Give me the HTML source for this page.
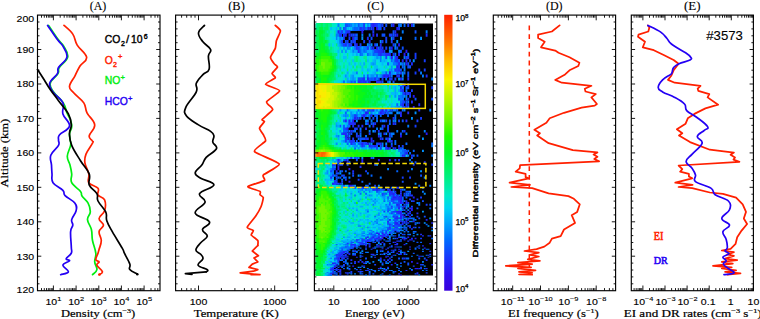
<!DOCTYPE html>
<html><head><meta charset="utf-8"><title>Figure</title>
<style>html,body{margin:0;padding:0;background:#fff}svg{display:block}text{font-family:"Liberation Sans",sans-serif;stroke:#000;stroke-width:.12px}.cbt{stroke-width:.4px}.b{stroke-width:.25px}.s{font-family:"Liberation Serif",serif;stroke:#000;stroke-width:.2px}.t{font-family:"Liberation Serif",serif;stroke-width:.1px}.sr{font-family:"Liberation Serif",serif}</style>
</head><body>
<svg width="760" height="319" viewBox="0 0 760 319">
<rect width="760" height="319" fill="#fff"/>
<defs><linearGradient id="cb" x1="0" y1="1" x2="0" y2="0"><stop offset="0.0" stop-color="#3800dc"/><stop offset="0.06" stop-color="#2c10f0"/><stop offset="0.12" stop-color="#1838fc"/><stop offset="0.18" stop-color="#0068ff"/><stop offset="0.25" stop-color="#00a8fc"/><stop offset="0.3" stop-color="#00d4f2"/><stop offset="0.345" stop-color="#00eac8"/><stop offset="0.42" stop-color="#00f078"/><stop offset="0.5" stop-color="#00f528"/><stop offset="0.56" stop-color="#1efa00"/><stop offset="0.62" stop-color="#6ef500"/><stop offset="0.69" stop-color="#b4f500"/><stop offset="0.765" stop-color="#faf400"/><stop offset="0.83" stop-color="#ffbe00"/><stop offset="0.9" stop-color="#ff7800"/><stop offset="1.0" stop-color="#ff2000"/></linearGradient></defs>
<rect x="444.2" y="14.8" width="8.3" height="275.9" fill="url(#cb)"/>
<rect x="315.5" y="23.5" width="117.5" height="252" fill="#000"/>
<g shape-rendering="crispEdges">
<path fill="#00eca8" d="M315.5 23.2h2.2v3.9h-2.2zM330.2 23.2h2.2v3.9h-2.2zM328.4 26.6h2.2v3.9h-2.2zM328.4 29.9h2.2v3.9h-2.2zM328.4 33.2h2.2v3.9h-2.2zM328.4 36.5h2.2v3.9h-2.2zM328.4 39.8h2.2v3.8h-2.2zM328.4 43h2.2v3.8h-2.2zM330.2 46.2h4.1v3.8h-4.1zM333.9 49.4h2.2v3.8h-2.2zM335.7 52.6h4.1v3.7h-4.1zM337.5 55.7h7.7v3.7h-7.7zM337.5 58.8h9.6v3.7h-9.6zM339.4 61.9h9.6v3.7h-9.6zM339.4 65h9.6v3.7h-9.6zM337.5 68.1h9.6v3.6h-9.6zM337.5 71.1h7.7v3.6h-7.7zM335.7 74.1h4.1v3.6h-4.1zM333.9 77.1h4.1v3.6h-4.1zM333.9 80.1h2.2v3.5h-2.2zM383.4 83h4.1v3.5h-4.1zM383.4 86h4.1v3.5h-4.1zM385.3 88.9h4.1v3.5h-4.1zM385.3 91.7h4.1v3.5h-4.1zM387.1 94.6h2.2v3.4h-2.2zM385.3 97.4h4.1v3.4h-4.1zM385.3 100.2h4.1v3.4h-4.1zM383.4 103h4.1v3.4h-4.1zM383.4 105.8h4.1v3.3h-4.1zM337.5 108.5h2.2v3.3h-2.2zM337.5 111.3h2.2v3.3h-2.2zM335.7 114h2.2v3.3h-2.2zM333.9 116.6h2.2v3.3h-2.2zM333.9 119.3h2.2v3.2h-2.2zM332 121.9h2.2v3.2h-2.2zM332 124.5h2.2v3.2h-2.2zM332 127.1h2.2v3.2h-2.2zM332 129.7h2.2v3.1h-2.2zM332 132.2h2.2v3.1h-2.2zM332 134.7h2.2v3.1h-2.2zM332 137.2h2.2v3.1h-2.2zM332 139.7h2.2v3.1h-2.2zM333.9 142.2h2.2v3h-2.2zM335.7 144.6h4.1v3h-4.1zM339.4 147h5.9v3h-5.9zM390.8 149.4h5.9v3h-5.9zM394.4 151.8h2.2v2.9h-2.2zM394.4 154.1h2.2v2.9h-2.2zM333.9 156.4h2.2v2.9h-2.2zM328.4 158.7h2.2v2.9h-2.2zM326.5 161h2.2v2.9h-2.2zM315.5 163.2h2.2v2.8h-2.2zM324.7 163.2h2.2v2.8h-2.2zM315.5 165.5h2.2v2.8h-2.2zM315.5 167.7h4.1v2.8h-4.1zM322.8 167.7h2.2v2.8h-2.2zM315.5 169.9h4.1v2.8h-4.1zM322.8 169.9h2.2v2.8h-2.2zM315.5 172h4.1v2.7h-4.1zM322.8 172h2.2v2.7h-2.2zM315.5 174.2h2.2v2.7h-2.2zM322.8 174.2h2.2v2.7h-2.2zM315.5 176.3h2.2v2.7h-2.2zM322.8 176.3h2.2v2.7h-2.2zM315.5 178.4h2.2v2.7h-2.2zM322.8 178.4h2.2v2.7h-2.2zM315.5 180.4h2.2v2.6h-2.2zM322.8 180.4h2.2v2.6h-2.2zM315.5 182.5h2.2v2.6h-2.2zM322.8 182.5h2.2v2.6h-2.2zM326.5 184.5h2.2v2.6h-2.2zM330.2 186.5h4.1v2.6h-4.1zM332 188.5h5.9v2.6h-5.9zM333.9 190.5h7.7v2.5h-7.7zM335.7 192.4h7.7v2.5h-7.7zM335.7 194.3h7.7v2.5h-7.7zM337.5 196.2h7.7v2.5h-7.7zM337.5 198.1h9.6v2.4h-9.6zM337.5 199.9h9.6v2.4h-9.6zM339.4 201.8h7.7v2.4h-7.7zM339.4 203.6h7.7v2.4h-7.7zM339.4 205.3h9.6v2.4h-9.6zM339.4 207.1h9.6v2.3h-9.6zM339.4 208.8h9.6v2.3h-9.6zM339.4 210.6h9.6v2.3h-9.6zM339.4 212.2h7.7v2.3h-7.7zM339.4 213.9h7.7v2.2h-7.7zM339.4 215.6h7.7v2.2h-7.7zM339.4 217.2h7.7v2.2h-7.7zM339.4 218.8h7.7v2.2h-7.7zM339.4 220.4h7.7v2.2h-7.7zM339.4 221.9h7.7v2.1h-7.7zM339.4 223.5h7.7v2.1h-7.7zM339.4 225h7.7v2.1h-7.7zM339.4 226.5h7.7v2.1h-7.7zM337.5 227.9h7.7v2h-7.7zM337.5 229.4h7.7v2h-7.7zM337.5 230.8h5.9v2h-5.9zM337.5 232.2h4.1v2h-4.1zM335.7 233.6h5.9v2h-5.9zM335.7 234.9h4.1v1.9h-4.1zM335.7 236.3h4.1v1.9h-4.1zM333.9 237.6h4.1v1.9h-4.1zM333.9 238.9h2.2v1.9h-2.2zM332 240.1h4.1v1.8h-4.1zM332 241.4h2.2v1.8h-2.2zM332 242.6h2.2v1.8h-2.2zM330.2 243.8h4.1v1.8h-4.1zM330.2 245h2.2v1.8h-2.2zM330.2 246.1h2.2v1.7h-2.2zM328.4 247.2h2.2v1.7h-2.2zM328.4 248.4h2.2v1.7h-2.2zM328.4 249.4h2.2v1.7h-2.2zM326.5 250.5h2.2v1.6h-2.2zM326.5 251.5h2.2v1.6h-2.2zM326.5 252.6h2.2v1.6h-2.2zM326.5 253.6h2.2v1.6h-2.2zM326.5 254.5h2.2v1.6h-2.2zM324.7 257.3h2.2v2.3h-2.2zM324.7 259.1h2.2v2.3h-2.2zM324.7 260.7h2.2v2.2h-2.2zM324.7 262.3h2.2v2.1h-2.2zM322.8 267.7h2.2v1.7h-2.2zM322.8 268.8h2.2v1.6h-2.2zM322.8 269.8h2.2v1.5h-2.2zM322.8 270.8h2.2v1.8h-2.2zM322.8 272h2.2v1.6h-2.2zM322.8 273h2.2v1.7h-2.2z"/>
<path fill="#00f07c" d="M317.3 23.2h2.2v3.9h-2.2zM322.8 23.2h7.7v3.9h-7.7zM315.5 26.6h2.2v3.9h-2.2zM324.7 26.6h4.1v3.9h-4.1zM324.7 29.9h4.1v3.9h-4.1zM324.7 33.2h4.1v3.9h-4.1zM324.7 36.5h4.1v3.9h-4.1zM326.5 39.8h2.2v3.8h-2.2zM326.5 43h2.2v3.8h-2.2zM328.4 46.2h2.2v3.8h-2.2zM330.2 49.4h4.1v3.8h-4.1zM332 52.6h4.1v3.7h-4.1zM335.7 55.7h2.2v3.7h-2.2zM335.7 58.8h2.2v3.7h-2.2zM337.5 61.9h2.2v3.7h-2.2zM337.5 65h2.2v3.7h-2.2zM335.7 68.1h2.2v3.6h-2.2zM333.9 71.1h4.1v3.6h-4.1zM332 74.1h4.1v3.6h-4.1zM332 77.1h2.2v3.6h-2.2zM332 80.1h2.2v3.5h-2.2zM374.2 83h9.6v3.5h-9.6zM376.1 86h7.7v3.5h-7.7zM376.1 88.9h9.6v3.5h-9.6zM377.9 91.7h7.7v3.5h-7.7zM377.9 94.6h9.6v3.4h-9.6zM377.9 97.4h7.7v3.4h-7.7zM376.1 100.2h9.6v3.4h-9.6zM376.1 103h7.7v3.4h-7.7zM374.2 105.8h9.6v3.3h-9.6zM335.7 108.5h2.2v3.3h-2.2zM333.9 111.3h4.1v3.3h-4.1zM333.9 114h2.2v3.3h-2.2zM332 116.6h2.2v3.3h-2.2zM332 119.3h2.2v3.2h-2.2zM330.2 121.9h2.2v3.2h-2.2zM330.2 124.5h2.2v3.2h-2.2zM328.4 127.1h4.1v3.2h-4.1zM328.4 129.7h4.1v3.1h-4.1zM328.4 132.2h4.1v3.1h-4.1zM328.4 134.7h4.1v3.1h-4.1zM328.4 137.2h4.1v3.1h-4.1zM330.2 139.7h2.2v3.1h-2.2zM330.2 142.2h4.1v3h-4.1zM333.9 144.6h2.2v3h-2.2zM337.5 147h2.2v3h-2.2zM387.1 149.4h4.1v3h-4.1zM388.9 151.8h5.9v2.9h-5.9zM388.9 154.1h5.9v2.9h-5.9zM330.2 156.4h4.1v2.9h-4.1zM315.5 158.7h4.1v2.9h-4.1zM324.7 158.7h4.1v2.9h-4.1zM315.5 161h4.1v2.9h-4.1zM322.8 161h4.1v2.9h-4.1zM317.3 163.2h7.7v2.8h-7.7zM317.3 165.5h7.7v2.8h-7.7zM319.2 167.7h4.1v2.8h-4.1zM319.2 169.9h4.1v2.8h-4.1zM319.2 172h4.1v2.7h-4.1zM317.3 174.2h5.9v2.7h-5.9zM317.3 176.3h5.9v2.7h-5.9zM317.3 178.4h5.9v2.7h-5.9zM317.3 180.4h5.9v2.6h-5.9zM317.3 182.5h5.9v2.6h-5.9zM315.5 184.5h4.1v2.6h-4.1zM324.7 184.5h2.2v2.6h-2.2zM328.4 186.5h2.2v2.6h-2.2zM330.2 188.5h2.2v2.6h-2.2zM332 190.5h2.2v2.5h-2.2zM333.9 192.4h2.2v2.5h-2.2zM333.9 194.3h2.2v2.5h-2.2zM335.7 196.2h2.2v2.5h-2.2zM335.7 198.1h2.2v2.4h-2.2zM335.7 199.9h2.2v2.4h-2.2zM337.5 201.8h2.2v2.4h-2.2zM337.5 203.6h2.2v2.4h-2.2zM337.5 205.3h2.2v2.4h-2.2zM337.5 207.1h2.2v2.3h-2.2zM337.5 208.8h2.2v2.3h-2.2zM337.5 210.6h2.2v2.3h-2.2zM337.5 212.2h2.2v2.3h-2.2zM337.5 213.9h2.2v2.2h-2.2zM337.5 215.6h2.2v2.2h-2.2zM337.5 217.2h2.2v2.2h-2.2zM337.5 218.8h2.2v2.2h-2.2zM337.5 220.4h2.2v2.2h-2.2zM337.5 221.9h2.2v2.1h-2.2zM337.5 223.5h2.2v2.1h-2.2zM337.5 225h2.2v2.1h-2.2zM337.5 226.5h2.2v2.1h-2.2zM335.7 227.9h2.2v2h-2.2zM335.7 229.4h2.2v2h-2.2zM335.7 230.8h2.2v2h-2.2zM335.7 232.2h2.2v2h-2.2zM333.9 233.6h2.2v2h-2.2zM333.9 234.9h2.2v1.9h-2.2zM333.9 236.3h2.2v1.9h-2.2zM332 237.6h2.2v1.9h-2.2zM332 238.9h2.2v1.9h-2.2zM330.2 241.4h2.2v1.8h-2.2zM330.2 242.6h2.2v1.8h-2.2zM328.4 245h2.2v1.8h-2.2zM328.4 246.1h2.2v1.7h-2.2zM326.5 247.2h2.2v1.7h-2.2zM326.5 248.4h2.2v1.7h-2.2zM326.5 249.4h2.2v1.7h-2.2zM324.7 252.6h2.2v1.6h-2.2zM324.7 253.6h2.2v1.6h-2.2zM324.7 254.5h2.2v1.6h-2.2zM324.7 255.5h2.2v1.5h-2.2zM324.7 256.4h2.2v1.5h-2.2zM322.8 259.1h2.2v2.3h-2.2zM322.8 260.7h2.2v2.2h-2.2zM322.8 262.3h2.2v2.1h-2.2zM322.8 263.8h2.2v2h-2.2zM322.8 265.2h2.2v1.9h-2.2zM322.8 266.5h2.2v1.8h-2.2zM321 269.8h2.2v1.5h-2.2zM321 270.8h2.2v1.8h-2.2zM321 272h2.2v1.6h-2.2zM321 273h2.2v1.7h-2.2zM321 274.1h2.2v1.5h-2.2zM321 275.1h2.2v0.8h-2.2z"/>
<path fill="#00f252" d="M319.2 23.2h4.1v3.9h-4.1zM317.3 26.6h7.7v3.9h-7.7zM315.5 29.9h4.1v3.9h-4.1zM321 29.9h4.1v3.9h-4.1zM315.5 33.2h4.1v3.9h-4.1zM322.8 33.2h2.2v3.9h-2.2zM315.5 36.5h4.1v3.9h-4.1zM322.8 36.5h2.2v3.9h-2.2zM315.5 39.8h4.1v3.8h-4.1zM322.8 39.8h4.1v3.8h-4.1zM315.5 43h4.1v3.8h-4.1zM324.7 43h2.2v3.8h-2.2zM315.5 46.2h4.1v3.8h-4.1zM326.5 46.2h2.2v3.8h-2.2zM315.5 49.4h2.2v3.8h-2.2zM328.4 49.4h2.2v3.8h-2.2zM315.5 52.6h2.2v3.7h-2.2zM330.2 52.6h2.2v3.7h-2.2zM333.9 55.7h2.2v3.7h-2.2zM333.9 58.8h2.2v3.7h-2.2zM335.7 61.9h2.2v3.7h-2.2zM335.7 65h2.2v3.7h-2.2zM333.9 68.1h2.2v3.6h-2.2zM332 71.1h2.2v3.6h-2.2zM315.5 74.1h2.2v3.6h-2.2zM330.2 74.1h2.2v3.6h-2.2zM315.5 77.1h2.2v3.6h-2.2zM328.4 77.1h4.1v3.6h-4.1zM315.5 80.1h2.2v3.5h-2.2zM328.4 80.1h4.1v3.5h-4.1zM366.9 83h7.7v3.5h-7.7zM368.7 86h7.7v3.5h-7.7zM368.7 88.9h7.7v3.5h-7.7zM370.6 91.7h7.7v3.5h-7.7zM370.6 94.6h7.7v3.4h-7.7zM368.7 97.4h9.6v3.4h-9.6zM368.7 100.2h7.7v3.4h-7.7zM368.7 103h7.7v3.4h-7.7zM366.9 105.8h7.7v3.3h-7.7zM332 108.5h4.1v3.3h-4.1zM332 111.3h2.2v3.3h-2.2zM330.2 114h4.1v3.3h-4.1zM330.2 116.6h2.2v3.3h-2.2zM315.5 119.3h2.2v3.2h-2.2zM328.4 119.3h4.1v3.2h-4.1zM315.5 121.9h2.2v3.2h-2.2zM328.4 121.9h2.2v3.2h-2.2zM315.5 124.5h2.2v3.2h-2.2zM326.5 124.5h4.1v3.2h-4.1zM315.5 127.1h2.2v3.2h-2.2zM326.5 127.1h2.2v3.2h-2.2zM315.5 129.7h2.2v3.1h-2.2zM326.5 129.7h2.2v3.1h-2.2zM315.5 132.2h2.2v3.1h-2.2zM326.5 132.2h2.2v3.1h-2.2zM315.5 134.7h2.2v3.1h-2.2zM326.5 134.7h2.2v3.1h-2.2zM315.5 137.2h2.2v3.1h-2.2zM326.5 137.2h2.2v3.1h-2.2zM315.5 139.7h2.2v3.1h-2.2zM326.5 139.7h4.1v3.1h-4.1zM315.5 142.2h2.2v3h-2.2zM328.4 142.2h2.2v3h-2.2zM330.2 144.6h4.1v3h-4.1zM333.9 147h4.1v3h-4.1zM374.2 149.4h13.3v3h-13.3zM385.3 151.8h4.1v2.9h-4.1zM385.3 154.1h4.1v2.9h-4.1zM315.5 156.4h4.1v2.9h-4.1zM326.5 156.4h4.1v2.9h-4.1zM319.2 158.7h5.9v2.9h-5.9zM319.2 161h4.1v2.9h-4.1zM319.2 184.5h5.9v2.6h-5.9zM315.5 186.5h4.1v2.6h-4.1zM324.7 186.5h4.1v2.6h-4.1zM315.5 188.5h2.2v2.6h-2.2zM328.4 188.5h2.2v2.6h-2.2zM330.2 190.5h2.2v2.5h-2.2zM332 192.4h2.2v2.5h-2.2zM332 194.3h2.2v2.5h-2.2zM333.9 196.2h2.2v2.5h-2.2zM333.9 198.1h2.2v2.4h-2.2zM333.9 199.9h2.2v2.4h-2.2zM333.9 201.8h4.1v2.4h-4.1zM335.7 203.6h2.2v2.4h-2.2zM335.7 205.3h2.2v2.4h-2.2zM335.7 207.1h2.2v2.3h-2.2zM335.7 208.8h2.2v2.3h-2.2zM335.7 210.6h2.2v2.3h-2.2zM335.7 212.2h2.2v2.3h-2.2zM335.7 213.9h2.2v2.2h-2.2zM335.7 215.6h2.2v2.2h-2.2zM335.7 217.2h2.2v2.2h-2.2zM335.7 218.8h2.2v2.2h-2.2zM335.7 220.4h2.2v2.2h-2.2zM335.7 221.9h2.2v2.1h-2.2zM335.7 223.5h2.2v2.1h-2.2zM335.7 225h2.2v2.1h-2.2zM335.7 226.5h2.2v2.1h-2.2zM333.9 227.9h2.2v2h-2.2zM333.9 229.4h2.2v2h-2.2zM333.9 230.8h2.2v2h-2.2zM333.9 232.2h2.2v2h-2.2zM332 233.6h2.2v2h-2.2zM332 234.9h2.2v1.9h-2.2zM332 236.3h2.2v1.9h-2.2zM330.2 237.6h2.2v1.9h-2.2zM330.2 238.9h2.2v1.9h-2.2zM330.2 240.1h2.2v1.8h-2.2zM328.4 241.4h2.2v1.8h-2.2zM328.4 242.6h2.2v1.8h-2.2zM328.4 243.8h2.2v1.8h-2.2zM326.5 245h2.2v1.8h-2.2zM326.5 246.1h2.2v1.7h-2.2zM324.7 248.4h2.2v1.7h-2.2zM324.7 249.4h2.2v1.7h-2.2zM324.7 250.5h2.2v1.6h-2.2zM324.7 251.5h2.2v1.6h-2.2zM322.8 253.6h2.2v1.6h-2.2zM322.8 254.5h2.2v1.6h-2.2zM322.8 255.5h2.2v1.5h-2.2zM322.8 256.4h2.2v1.5h-2.2zM322.8 257.3h2.2v2.3h-2.2zM315.5 259.1h2.2v2.3h-2.2zM315.5 260.7h2.2v2.2h-2.2zM321 260.7h2.2v2.2h-2.2zM315.5 262.3h2.2v2.1h-2.2zM321 262.3h2.2v2.1h-2.2zM315.5 263.8h2.2v2h-2.2zM321 263.8h2.2v2h-2.2zM315.5 265.2h2.2v1.9h-2.2zM321 265.2h2.2v1.9h-2.2zM315.5 266.5h2.2v1.8h-2.2zM321 266.5h2.2v1.8h-2.2zM315.5 267.7h2.2v1.7h-2.2zM319.2 267.7h4.1v1.7h-4.1zM315.5 268.8h2.2v1.6h-2.2zM319.2 268.8h4.1v1.6h-4.1zM315.5 269.8h2.2v1.5h-2.2zM319.2 269.8h2.2v1.5h-2.2zM315.5 270.8h2.2v1.8h-2.2zM319.2 270.8h2.2v1.8h-2.2zM315.5 272h5.9v1.6h-5.9zM315.5 273h5.9v1.7h-5.9zM315.5 274.1h5.9v1.5h-5.9zM315.5 275.1h5.9v0.8h-5.9z"/>
<path fill="#00e4d3" d="M332 23.2h5.9v3.9h-5.9zM330.2 26.6h5.9v3.9h-5.9zM330.2 29.9h4.1v3.9h-4.1zM330.2 33.2h2.2v3.9h-2.2zM330.2 36.5h2.2v3.9h-2.2zM330.2 39.8h4.1v3.8h-4.1zM330.2 43h4.1v3.8h-4.1zM333.9 46.2h4.1v3.8h-4.1zM335.7 49.4h5.9v3.8h-5.9zM339.4 52.6h9.6v3.7h-9.6zM344.9 55.7h20.6v3.7h-20.6zM346.7 58.8h24.3v3.7h-24.3zM348.5 61.9h24.3v3.7h-24.3zM348.5 65h24.3v3.7h-24.3zM346.7 68.1h24.3v3.6h-24.3zM344.9 71.1h18.8v3.6h-18.8zM339.4 74.1h11.4v3.6h-11.4zM337.5 77.1h5.9v3.6h-5.9zM335.7 80.1h5.9v3.5h-5.9zM387.1 83h5.9v3.5h-5.9zM387.1 86h5.9v3.5h-5.9zM388.9 88.9h5.9v3.5h-5.9zM388.9 91.7h5.9v3.5h-5.9zM388.9 94.6h5.9v3.4h-5.9zM388.9 97.4h5.9v3.4h-5.9zM388.9 100.2h5.9v3.4h-5.9zM387.1 103h5.9v3.4h-5.9zM387.1 105.8h5.9v3.3h-5.9zM339.4 108.5h4.1v3.3h-4.1zM339.4 111.3h4.1v3.3h-4.1zM337.5 114h4.1v3.3h-4.1zM335.7 116.6h4.1v3.3h-4.1zM335.7 119.3h4.1v3.2h-4.1zM333.9 121.9h5.9v3.2h-5.9zM333.9 124.5h4.1v3.2h-4.1zM333.9 127.1h4.1v3.2h-4.1zM333.9 129.7h4.1v3.1h-4.1zM333.9 132.2h4.1v3.1h-4.1zM333.9 134.7h4.1v3.1h-4.1zM333.9 137.2h4.1v3.1h-4.1zM333.9 139.7h4.1v3.1h-4.1zM335.7 142.2h5.9v3h-5.9zM339.4 144.6h7.7v3h-7.7zM344.9 147h13.3v3h-13.3zM396.3 149.4h2.2v3h-2.2zM396.3 151.8h4.1v2.9h-4.1zM396.3 154.1h4.1v2.9h-4.1zM335.7 156.4h7.7v2.9h-7.7zM330.2 158.7h4.1v2.9h-4.1zM328.4 161h2.2v2.9h-2.2zM326.5 163.2h2.2v2.8h-2.2zM324.7 165.5h4.1v2.8h-4.1zM324.7 167.7h2.2v2.8h-2.2zM324.7 169.9h2.2v2.8h-2.2zM324.7 172h2.2v2.7h-2.2zM324.7 174.2h2.2v2.7h-2.2zM324.7 176.3h2.2v2.7h-2.2zM324.7 178.4h4.1v2.7h-4.1zM324.7 180.4h4.1v2.6h-4.1zM324.7 182.5h4.1v2.6h-4.1zM328.4 184.5h5.9v2.6h-5.9zM333.9 186.5h5.9v2.6h-5.9zM337.5 188.5h11.4v2.6h-11.4zM341.2 190.5h16.9v2.5h-16.9zM343 192.4h16.9v2.5h-16.9zM343 194.3h20.6v2.5h-20.6zM344.9 196.2h20.6v2.5h-20.6zM346.7 198.1h20.6v2.4h-20.6zM346.7 199.9h20.6v2.4h-20.6zM346.7 201.8h20.6v2.4h-20.6zM346.7 203.6h22.4v2.4h-22.4zM348.5 205.3h20.6v2.4h-20.6zM348.5 207.1h20.6v2.3h-20.6zM348.5 208.8h20.6v2.3h-20.6zM348.5 210.6h20.6v2.3h-20.6zM346.7 212.2h20.6v2.3h-20.6zM346.7 213.9h20.6v2.2h-20.6zM346.7 215.6h20.6v2.2h-20.6zM346.7 217.2h20.6v2.2h-20.6zM346.7 218.8h20.6v2.2h-20.6zM346.7 220.4h20.6v2.2h-20.6zM346.7 221.9h18.8v2.1h-18.8zM346.7 223.5h18.8v2.1h-18.8zM346.7 225h18.8v2.1h-18.8zM346.7 226.5h18.8v2.1h-18.8zM344.9 227.9h18.8v2h-18.8zM344.9 229.4h15.1v2h-15.1zM343 230.8h15.1v2h-15.1zM341.2 232.2h13.3v2h-13.3zM341.2 233.6h11.4v2h-11.4zM339.4 234.9h9.6v1.9h-9.6zM339.4 236.3h7.7v1.9h-7.7zM337.5 237.6h7.7v1.9h-7.7zM335.7 238.9h7.7v1.9h-7.7zM335.7 240.1h5.9v1.8h-5.9zM333.9 241.4h7.7v1.8h-7.7zM333.9 242.6h5.9v1.8h-5.9zM333.9 243.8h4.1v1.8h-4.1zM332 245h5.9v1.8h-5.9zM332 246.1h4.1v1.7h-4.1zM330.2 247.2h5.9v1.7h-5.9zM330.2 248.4h4.1v1.7h-4.1zM330.2 249.4h2.2v1.7h-2.2zM328.4 250.5h4.1v1.6h-4.1zM328.4 251.5h4.1v1.6h-4.1zM328.4 252.6h4.1v1.6h-4.1zM328.4 253.6h2.2v1.6h-2.2zM328.4 254.5h2.2v1.6h-2.2zM326.5 255.5h4.1v1.5h-4.1zM326.5 256.4h2.2v1.5h-2.2zM326.5 257.3h2.2v2.3h-2.2zM326.5 259.1h2.2v2.3h-2.2zM326.5 260.7h2.2v2.2h-2.2zM326.5 262.3h2.2v2.1h-2.2zM324.7 263.8h4.1v2h-4.1zM324.7 265.2h4.1v1.9h-4.1zM324.7 266.5h2.2v1.8h-2.2zM324.7 267.7h2.2v1.7h-2.2zM324.7 268.8h2.2v1.6h-2.2zM324.7 269.8h2.2v1.5h-2.2zM324.7 270.8h2.2v1.8h-2.2zM324.7 272h2.2v1.6h-2.2zM324.7 273h2.2v1.7h-2.2zM322.8 274.1h2.2v1.5h-2.2zM322.8 275.1h2.2v0.8h-2.2z"/>
<path fill="#00cdf4" d="M337.5 23.2h7.7v3.9h-7.7zM335.7 26.6h5.9v3.9h-5.9zM333.9 29.9h4.1v3.9h-4.1zM332 33.2h4.1v3.9h-4.1zM332 36.5h4.1v3.9h-4.1zM333.9 39.8h2.2v3.8h-2.2zM333.9 43h4.1v3.8h-4.1zM337.5 46.2h5.9v3.8h-5.9zM341.2 49.4h9.6v3.8h-9.6zM348.5 52.6h11.4v3.7h-11.4zM365.1 55.7h16.9v3.7h-16.9zM370.6 58.8h20.6v3.7h-20.6zM372.4 61.9h22.4v3.7h-22.4zM372.4 65h22.4v3.7h-22.4zM370.6 68.1h20.6v3.6h-20.6zM363.2 71.1h18.8v3.6h-18.8zM350.4 74.1h11.4v3.6h-11.4zM343 77.1h7.7v3.6h-7.7zM341.2 80.1h5.9v3.5h-5.9zM392.6 83h5.9v3.5h-5.9zM392.6 86h5.9v3.5h-5.9zM394.4 88.9h4.1v3.5h-4.1zM394.4 91.7h5.9v3.5h-5.9zM394.4 94.6h5.9v3.4h-5.9zM394.4 97.4h5.9v3.4h-5.9zM394.4 100.2h4.1v3.4h-4.1zM392.6 103h5.9v3.4h-5.9zM392.6 105.8h5.9v3.3h-5.9zM343 108.5h9.6v3.3h-9.6zM343 111.3h7.7v3.3h-7.7zM341.2 114h5.9v3.3h-5.9zM339.4 116.6h5.9v3.3h-5.9zM339.4 119.3h4.1v3.2h-4.1zM339.4 121.9h4.1v3.2h-4.1zM337.5 124.5h4.1v3.2h-4.1zM337.5 127.1h4.1v3.2h-4.1zM337.5 129.7h4.1v3.1h-4.1zM337.5 132.2h4.1v3.1h-4.1zM337.5 134.7h4.1v3.1h-4.1zM337.5 137.2h4.1v3.1h-4.1zM337.5 139.7h5.9v3.1h-5.9zM341.2 142.2h5.9v3h-5.9zM346.7 144.6h9.6v3h-9.6zM357.7 147h11.4v3h-11.4zM398.1 149.4h2.2v3h-2.2zM400 151.8h2.2v2.9h-2.2zM400 154.1h2.2v2.9h-2.2zM343 156.4h5.9v2.9h-5.9zM333.9 158.7h2.2v2.9h-2.2zM330.2 161h4.1v2.9h-4.1zM328.4 163.2h4.1v2.8h-4.1zM328.4 165.5h2.2v2.8h-2.2zM326.5 167.7h4.1v2.8h-4.1zM326.5 169.9h4.1v2.8h-4.1zM326.5 172h4.1v2.7h-4.1zM326.5 174.2h4.1v2.7h-4.1zM326.5 176.3h4.1v2.7h-4.1zM328.4 178.4h2.2v2.7h-2.2zM328.4 180.4h2.2v2.6h-2.2zM328.4 182.5h2.2v2.6h-2.2zM333.9 184.5h5.9v2.6h-5.9zM339.4 186.5h9.6v2.6h-9.6zM348.5 188.5h11.4v2.6h-11.4zM357.7 190.5h15.1v2.5h-15.1zM359.6 192.4h16.9v2.5h-16.9zM363.2 194.3h16.9v2.5h-16.9zM365.1 196.2h18.8v2.5h-18.8zM366.9 198.1h18.8v2.4h-18.8zM366.9 199.9h18.8v2.4h-18.8zM366.9 201.8h20.6v2.4h-20.6zM368.7 203.6h18.8v2.4h-18.8zM368.7 205.3h18.8v2.4h-18.8zM368.7 207.1h18.8v2.3h-18.8zM368.7 208.8h18.8v2.3h-18.8zM368.7 210.6h18.8v2.3h-18.8zM366.9 212.2h18.8v2.3h-18.8zM366.9 213.9h18.8v2.2h-18.8zM366.9 215.6h18.8v2.2h-18.8zM366.9 217.2h18.8v2.2h-18.8zM366.9 218.8h16.9v2.2h-16.9zM366.9 220.4h16.9v2.2h-16.9zM365.1 221.9h18.8v2.1h-18.8zM365.1 223.5h18.8v2.1h-18.8zM365.1 225h16.9v2.1h-16.9zM365.1 226.5h16.9v2.1h-16.9zM363.2 227.9h16.9v2h-16.9zM359.6 229.4h15.1v2h-15.1zM357.7 230.8h13.3v2h-13.3zM354.1 232.2h13.3v2h-13.3zM352.2 233.6h11.4v2h-11.4zM348.5 234.9h11.4v1.9h-11.4zM346.7 236.3h9.6v1.9h-9.6zM344.9 237.6h9.6v1.9h-9.6zM343 238.9h9.6v1.9h-9.6zM341.2 240.1h9.6v1.8h-9.6zM341.2 241.4h5.9v1.8h-5.9zM339.4 242.6h5.9v1.8h-5.9zM337.5 243.8h5.9v1.8h-5.9zM337.5 245h5.9v1.8h-5.9zM335.7 246.1h5.9v1.7h-5.9zM335.7 247.2h4.1v1.7h-4.1zM333.9 248.4h4.1v1.7h-4.1zM332 249.4h5.9v1.7h-5.9zM332 250.5h4.1v1.6h-4.1zM332 251.5h4.1v1.6h-4.1zM332 252.6h2.2v1.6h-2.2zM330.2 253.6h4.1v1.6h-4.1zM330.2 254.5h4.1v1.6h-4.1zM330.2 255.5h2.2v1.5h-2.2zM328.4 256.4h4.1v1.5h-4.1zM328.4 257.3h4.1v2.3h-4.1zM328.4 259.1h4.1v2.3h-4.1zM328.4 260.7h2.2v2.2h-2.2zM328.4 262.3h2.2v2.1h-2.2zM328.4 263.8h2.2v2h-2.2zM328.4 265.2h2.2v1.9h-2.2zM326.5 266.5h4.1v1.8h-4.1zM326.5 267.7h4.1v1.7h-4.1zM326.5 268.8h2.2v1.6h-2.2zM326.5 269.8h2.2v1.5h-2.2zM326.5 270.8h2.2v1.8h-2.2zM326.5 272h2.2v1.6h-2.2zM326.5 273h2.2v1.7h-2.2zM324.7 274.1h2.2v1.5h-2.2zM324.7 275.1h2.2v0.8h-2.2z"/>
<path fill="#00a8fc" d="M344.9 23.2h9.6v3.9h-9.6zM341.2 26.6h5.9v3.9h-5.9zM337.5 29.9h2.2v3.9h-2.2zM335.7 33.2h2.2v3.9h-2.2zM335.7 36.5h2.2v3.9h-2.2zM335.7 39.8h2.2v3.8h-2.2zM337.5 43h4.1v3.8h-4.1zM343 46.2h7.7v3.8h-7.7zM350.4 49.4h7.7v3.8h-7.7zM359.6 52.6h7.7v3.7h-7.7zM381.6 55.7h4.1v3.7h-4.1zM390.8 58.8h2.2v3.7h-2.2zM394.4 61.9h2.2v3.7h-2.2zM394.4 65h2.2v3.7h-2.2zM390.8 68.1h2.2v3.6h-2.2zM381.6 71.1h4.1v3.6h-4.1zM361.4 74.1h7.7v3.6h-7.7zM350.4 77.1h7.7v3.6h-7.7zM346.7 80.1h4.1v3.5h-4.1zM398.1 83h2.2v3.5h-2.2zM398.1 86h2.2v3.5h-2.2zM398.1 88.9h2.2v3.5h-2.2zM398.1 100.2h2.2v3.4h-2.2zM398.1 103h2.2v3.4h-2.2zM398.1 105.8h2.2v3.3h-2.2zM352.2 108.5h9.6v3.3h-9.6zM350.4 111.3h9.6v3.3h-9.6zM346.7 114h5.9v3.3h-5.9zM344.9 116.6h4.1v3.3h-4.1zM343 119.3h4.1v3.2h-4.1zM343 121.9h2.2v3.2h-2.2zM341.2 124.5h2.2v3.2h-2.2zM341.2 127.1h2.2v3.2h-2.2zM341.2 129.7h2.2v3.1h-2.2zM341.2 132.2h2.2v3.1h-2.2zM341.2 134.7h2.2v3.1h-2.2zM341.2 137.2h2.2v3.1h-2.2zM343 139.7h2.2v3.1h-2.2zM346.7 142.2h5.9v3h-5.9zM355.9 144.6h5.9v3h-5.9zM368.7 147h5.9v3h-5.9zM400 149.4h2.2v3h-2.2zM401.8 151.8h2.2v2.9h-2.2zM401.8 154.1h2.2v2.9h-2.2zM348.5 156.4h2.2v2.9h-2.2zM335.7 158.7h2.2v2.9h-2.2zM330.2 165.5h2.2v2.8h-2.2zM330.2 176.3h2.2v2.7h-2.2zM330.2 178.4h2.2v2.7h-2.2zM330.2 180.4h2.2v2.6h-2.2zM330.2 182.5h2.2v2.6h-2.2zM339.4 184.5h4.1v2.6h-4.1zM348.5 186.5h5.9v2.6h-5.9zM359.6 188.5h5.9v2.6h-5.9zM372.4 190.5h5.9v2.5h-5.9zM376.1 192.4h5.9v2.5h-5.9zM379.8 194.3h5.9v2.5h-5.9zM383.4 196.2h4.1v2.5h-4.1zM385.3 198.1h4.1v2.4h-4.1zM385.3 199.9h5.9v2.4h-5.9zM387.1 201.8h4.1v2.4h-4.1zM387.1 203.6h4.1v2.4h-4.1zM387.1 205.3h4.1v2.4h-4.1zM387.1 207.1h4.1v2.3h-4.1zM387.1 208.8h4.1v2.3h-4.1zM387.1 210.6h4.1v2.3h-4.1zM385.3 212.2h5.9v2.3h-5.9zM385.3 213.9h4.1v2.2h-4.1zM385.3 215.6h4.1v2.2h-4.1zM385.3 217.2h4.1v2.2h-4.1zM383.4 218.8h5.9v2.2h-5.9zM383.4 220.4h5.9v2.2h-5.9zM383.4 221.9h4.1v2.1h-4.1zM383.4 223.5h4.1v2.1h-4.1zM381.6 225h5.9v2.1h-5.9zM381.6 226.5h5.9v2.1h-5.9zM379.8 227.9h4.1v2h-4.1zM374.2 229.4h5.9v2h-5.9zM370.6 230.8h5.9v2h-5.9zM366.9 232.2h5.9v2h-5.9zM363.2 233.6h5.9v2h-5.9zM359.6 234.9h7.7v1.9h-7.7zM355.9 236.3h7.7v1.9h-7.7zM354.1 237.6h5.9v1.9h-5.9zM352.2 238.9h5.9v1.9h-5.9zM350.4 240.1h4.1v1.8h-4.1zM346.7 241.4h5.9v1.8h-5.9zM344.9 242.6h5.9v1.8h-5.9zM343 243.8h5.9v1.8h-5.9zM343 245h4.1v1.8h-4.1zM341.2 246.1h4.1v1.7h-4.1zM339.4 247.2h4.1v1.7h-4.1zM337.5 248.4h4.1v1.7h-4.1zM337.5 249.4h2.2v1.7h-2.2zM335.7 250.5h4.1v1.6h-4.1zM335.7 251.5h2.2v1.6h-2.2zM333.9 252.6h4.1v1.6h-4.1zM333.9 253.6h2.2v1.6h-2.2zM333.9 254.5h2.2v1.6h-2.2zM332 255.5h2.2v1.5h-2.2zM332 256.4h2.2v1.5h-2.2zM332 257.3h2.2v2.3h-2.2zM330.2 260.7h2.2v2.2h-2.2zM330.2 262.3h2.2v2.1h-2.2zM330.2 263.8h2.2v2h-2.2zM330.2 265.2h2.2v1.9h-2.2zM328.4 268.8h2.2v1.6h-2.2zM328.4 269.8h2.2v1.5h-2.2zM328.4 270.8h2.2v1.8h-2.2zM326.5 274.1h2.2v1.5h-2.2zM326.5 275.1h2.2v0.8h-2.2z"/>
<path fill="#0082fe" d="M354.1 23.2h9.6v3.9h-9.6zM346.7 26.6h5.9v3.9h-5.9zM339.4 29.9h2.2v3.9h-2.2zM337.5 33.2h2.2v3.9h-2.2zM337.5 36.5h2.2v3.9h-2.2zM337.5 39.8h2.2v3.8h-2.2zM341.2 43h4.1v3.8h-4.1zM350.4 46.2h7.7v3.8h-7.7zM357.7 49.4h9.6v3.8h-9.6zM366.9 52.6h7.7v3.7h-7.7zM385.3 55.7h4.1v3.7h-4.1zM392.6 58.8h4.1v3.7h-4.1zM396.3 61.9h2.2v3.7h-2.2zM396.3 65h2.2v3.7h-2.2zM392.6 68.1h4.1v3.6h-4.1zM385.3 71.1h4.1v3.6h-4.1zM368.7 74.1h5.9v3.6h-5.9zM357.7 77.1h5.9v3.6h-5.9zM350.4 80.1h5.9v3.5h-5.9zM400 86h2.2v3.5h-2.2zM400 88.9h2.2v3.5h-2.2zM400 91.7h2.2v3.5h-2.2zM400 94.6h2.2v3.4h-2.2zM400 97.4h2.2v3.4h-2.2zM400 100.2h2.2v3.4h-2.2zM400 103h2.2v3.4h-2.2zM361.4 108.5h9.6v3.3h-9.6zM359.6 111.3h9.6v3.3h-9.6zM352.2 114h5.9v3.3h-5.9zM348.5 116.6h2.2v3.3h-2.2zM346.7 119.3h2.2v3.2h-2.2zM344.9 121.9h2.2v3.2h-2.2zM343 124.5h2.2v3.2h-2.2zM344.9 139.7h4.1v3.1h-4.1zM352.2 142.2h5.9v3h-5.9zM361.4 144.6h5.9v3h-5.9zM374.2 147h4.1v3h-4.1zM401.8 149.4h2.2v3h-2.2zM350.4 156.4h2.2v2.9h-2.2zM337.5 158.7h2.2v2.9h-2.2zM333.9 161h2.2v2.9h-2.2zM332 163.2h2.2v2.8h-2.2zM332 165.5h2.2v2.8h-2.2zM330.2 167.7h2.2v2.8h-2.2zM330.2 169.9h2.2v2.8h-2.2zM330.2 172h2.2v2.7h-2.2zM330.2 174.2h2.2v2.7h-2.2zM343 184.5h4.1v2.6h-4.1zM354.1 186.5h7.7v2.6h-7.7zM365.1 188.5h7.7v2.6h-7.7zM377.9 190.5h5.9v2.5h-5.9zM381.6 192.4h5.9v2.5h-5.9zM385.3 194.3h4.1v2.5h-4.1zM387.1 196.2h4.1v2.5h-4.1zM388.9 198.1h4.1v2.4h-4.1zM390.8 199.9h4.1v2.4h-4.1zM390.8 201.8h4.1v2.4h-4.1zM390.8 203.6h4.1v2.4h-4.1zM390.8 205.3h4.1v2.4h-4.1zM390.8 207.1h4.1v2.3h-4.1zM390.8 208.8h4.1v2.3h-4.1zM390.8 210.6h4.1v2.3h-4.1zM390.8 212.2h4.1v2.3h-4.1zM388.9 213.9h5.9v2.2h-5.9zM388.9 215.6h5.9v2.2h-5.9zM388.9 217.2h4.1v2.2h-4.1zM388.9 218.8h4.1v2.2h-4.1zM388.9 220.4h4.1v2.2h-4.1zM387.1 221.9h5.9v2.1h-5.9zM387.1 223.5h5.9v2.1h-5.9zM387.1 225h5.9v2.1h-5.9zM387.1 226.5h4.1v2.1h-4.1zM383.4 227.9h5.9v2h-5.9zM379.8 229.4h5.9v2h-5.9zM376.1 230.8h7.7v2h-7.7zM372.4 232.2h7.7v2h-7.7zM368.7 233.6h7.7v2h-7.7zM366.9 234.9h5.9v1.9h-5.9zM363.2 236.3h7.7v1.9h-7.7zM359.6 237.6h7.7v1.9h-7.7zM357.7 238.9h5.9v1.9h-5.9zM354.1 240.1h5.9v1.8h-5.9zM352.2 241.4h5.9v1.8h-5.9zM350.4 242.6h4.1v1.8h-4.1zM348.5 243.8h4.1v1.8h-4.1zM346.7 245h4.1v1.8h-4.1zM344.9 246.1h4.1v1.7h-4.1zM343 247.2h4.1v1.7h-4.1zM341.2 248.4h4.1v1.7h-4.1zM339.4 249.4h4.1v1.7h-4.1zM339.4 250.5h2.2v1.6h-2.2zM337.5 251.5h2.2v1.6h-2.2zM337.5 252.6h2.2v1.6h-2.2zM335.7 253.6h2.2v1.6h-2.2zM335.7 254.5h2.2v1.6h-2.2zM333.9 255.5h2.2v1.5h-2.2zM333.9 256.4h2.2v1.5h-2.2zM333.9 257.3h2.2v2.3h-2.2zM332 259.1h2.2v2.3h-2.2zM332 260.7h2.2v2.2h-2.2zM332 262.3h2.2v2.1h-2.2zM332 263.8h2.2v2h-2.2zM330.2 266.5h2.2v1.8h-2.2zM330.2 267.7h2.2v1.7h-2.2zM330.2 268.8h2.2v1.6h-2.2zM328.4 272h2.2v1.6h-2.2zM328.4 273h2.2v1.7h-2.2zM328.4 274.1h2.2v1.5h-2.2zM328.4 275.1h2.2v0.8h-2.2z"/>
<path fill="#055dfe" d="M363.2 23.2h9.6v3.9h-9.6zM352.2 26.6h5.9v3.9h-5.9zM341.2 29.9h4.1v3.9h-4.1zM339.4 36.5h2.2v3.9h-2.2zM339.4 39.8h2.2v3.8h-2.2zM344.9 43h2.2v3.8h-2.2zM357.7 46.2h7.7v3.8h-7.7zM366.9 49.4h9.6v3.8h-9.6zM374.2 52.6h9.6v3.7h-9.6zM388.9 55.7h4.1v3.7h-4.1zM396.3 58.8h2.2v3.7h-2.2zM396.3 68.1h2.2v3.6h-2.2zM388.9 71.1h4.1v3.6h-4.1zM374.2 74.1h7.7v3.6h-7.7zM363.2 77.1h7.7v3.6h-7.7zM355.9 80.1h4.1v3.5h-4.1zM400 83h2.2v3.5h-2.2zM401.8 91.7h2.2v3.5h-2.2zM401.8 94.6h2.2v3.4h-2.2zM401.8 97.4h2.2v3.4h-2.2zM400 105.8h2.2v3.3h-2.2zM370.6 108.5h9.6v3.3h-9.6zM368.7 111.3h9.6v3.3h-9.6zM357.7 114h5.9v3.3h-5.9zM350.4 116.6h4.1v3.3h-4.1zM348.5 119.3h4.1v3.2h-4.1zM346.7 121.9h2.2v3.2h-2.2zM344.9 124.5h2.2v3.2h-2.2zM343 127.1h2.2v3.2h-2.2zM343 129.7h2.2v3.1h-2.2zM343 132.2h2.2v3.1h-2.2zM343 134.7h2.2v3.1h-2.2zM343 137.2h2.2v3.1h-2.2zM348.5 139.7h2.2v3.1h-2.2zM357.7 142.2h5.9v3h-5.9zM366.9 144.6h5.9v3h-5.9zM377.9 147h5.9v3h-5.9zM403.6 149.4h2.2v3h-2.2zM403.6 151.8h2.2v2.9h-2.2zM403.6 154.1h2.2v2.9h-2.2zM352.2 156.4h2.2v2.9h-2.2zM339.4 158.7h2.2v2.9h-2.2zM335.7 161h2.2v2.9h-2.2zM333.9 163.2h2.2v2.8h-2.2zM332 167.7h2.2v2.8h-2.2zM332 169.9h2.2v2.8h-2.2zM332 172h2.2v2.7h-2.2zM332 174.2h2.2v2.7h-2.2zM332 176.3h2.2v2.7h-2.2zM332 178.4h2.2v2.7h-2.2zM332 180.4h2.2v2.6h-2.2zM332 182.5h2.2v2.6h-2.2zM346.7 184.5h4.1v2.6h-4.1zM361.4 186.5h5.9v2.6h-5.9zM372.4 188.5h5.9v2.6h-5.9zM383.4 190.5h4.1v2.5h-4.1zM387.1 192.4h4.1v2.5h-4.1zM388.9 194.3h4.1v2.5h-4.1zM390.8 196.2h5.9v2.5h-5.9zM392.6 198.1h5.9v2.4h-5.9zM394.4 199.9h4.1v2.4h-4.1zM394.4 201.8h4.1v2.4h-4.1zM394.4 203.6h4.1v2.4h-4.1zM394.4 205.3h4.1v2.4h-4.1zM394.4 207.1h5.9v2.3h-5.9zM394.4 208.8h4.1v2.3h-4.1zM394.4 210.6h4.1v2.3h-4.1zM394.4 212.2h4.1v2.3h-4.1zM394.4 213.9h4.1v2.2h-4.1zM394.4 215.6h4.1v2.2h-4.1zM392.6 217.2h5.9v2.2h-5.9zM392.6 218.8h5.9v2.2h-5.9zM392.6 220.4h4.1v2.2h-4.1zM392.6 221.9h4.1v2.1h-4.1zM392.6 223.5h4.1v2.1h-4.1zM392.6 225h4.1v2.1h-4.1zM390.8 226.5h5.9v2.1h-5.9zM388.9 227.9h5.9v2h-5.9zM385.3 229.4h5.9v2h-5.9zM383.4 230.8h5.9v2h-5.9zM379.8 232.2h5.9v2h-5.9zM376.1 233.6h7.7v2h-7.7zM372.4 234.9h7.7v1.9h-7.7zM370.6 236.3h5.9v1.9h-5.9zM366.9 237.6h5.9v1.9h-5.9zM363.2 238.9h5.9v1.9h-5.9zM359.6 240.1h5.9v1.8h-5.9zM357.7 241.4h4.1v1.8h-4.1zM354.1 242.6h5.9v1.8h-5.9zM352.2 243.8h4.1v1.8h-4.1zM350.4 245h4.1v1.8h-4.1zM348.5 246.1h4.1v1.7h-4.1zM346.7 247.2h2.2v1.7h-2.2zM344.9 248.4h2.2v1.7h-2.2zM343 249.4h2.2v1.7h-2.2zM341.2 250.5h2.2v1.6h-2.2zM339.4 251.5h4.1v1.6h-4.1zM339.4 252.6h2.2v1.6h-2.2zM337.5 253.6h4.1v1.6h-4.1zM337.5 254.5h2.2v1.6h-2.2zM335.7 255.5h4.1v1.5h-4.1zM335.7 256.4h2.2v1.5h-2.2zM335.7 257.3h2.2v2.3h-2.2zM333.9 259.1h2.2v2.3h-2.2zM333.9 260.7h2.2v2.2h-2.2zM333.9 262.3h2.2v2.1h-2.2zM332 265.2h2.2v1.9h-2.2zM332 266.5h2.2v1.8h-2.2zM330.2 269.8h2.2v1.5h-2.2zM330.2 270.8h2.2v1.8h-2.2zM330.2 272h2.2v1.6h-2.2z"/>
<path fill="#163cfc" d="M372.4 23.2h7.7v3.9h-7.7zM357.7 26.6h5.9v3.9h-5.9zM344.9 29.9h2.2v3.9h-2.2zM339.4 33.2h2.2v3.9h-2.2zM341.2 39.8h2.2v3.8h-2.2zM346.7 43h4.1v3.8h-4.1zM365.1 46.2h5.9v3.8h-5.9zM376.1 49.4h5.9v3.8h-5.9zM383.4 52.6h5.9v3.7h-5.9zM392.6 55.7h4.1v3.7h-4.1zM398.1 58.8h2.2v3.7h-2.2zM398.1 61.9h2.2v3.7h-2.2zM398.1 65h2.2v3.7h-2.2zM398.1 68.1h2.2v3.6h-2.2zM392.6 71.1h4.1v3.6h-4.1zM381.6 74.1h5.9v3.6h-5.9zM370.6 77.1h5.9v3.6h-5.9zM359.6 80.1h4.1v3.5h-4.1zM401.8 83h2.2v3.5h-2.2zM401.8 86h2.2v3.5h-2.2zM401.8 88.9h2.2v3.5h-2.2zM401.8 100.2h2.2v3.4h-2.2zM401.8 103h2.2v3.4h-2.2zM401.8 105.8h2.2v3.3h-2.2zM379.8 108.5h7.7v3.3h-7.7zM377.9 111.3h5.9v3.3h-5.9zM363.2 114h4.1v3.3h-4.1zM354.1 116.6h2.2v3.3h-2.2zM352.2 119.3h2.2v3.2h-2.2zM348.5 121.9h2.2v3.2h-2.2zM346.7 124.5h2.2v3.2h-2.2zM344.9 127.1h2.2v3.2h-2.2zM344.9 129.7h2.2v3.1h-2.2zM344.9 132.2h2.2v3.1h-2.2zM344.9 134.7h2.2v3.1h-2.2zM344.9 137.2h2.2v3.1h-2.2zM350.4 139.7h4.1v3.1h-4.1zM363.2 142.2h4.1v3h-4.1zM372.4 144.6h5.9v3h-5.9zM383.4 147h4.1v3h-4.1zM405.5 151.8h2.2v2.9h-2.2zM405.5 154.1h2.2v2.9h-2.2zM354.1 156.4h2.2v2.9h-2.2zM341.2 158.7h2.2v2.9h-2.2zM333.9 165.5h2.2v2.8h-2.2zM333.9 180.4h2.2v2.6h-2.2zM333.9 182.5h2.2v2.6h-2.2zM350.4 184.5h2.2v2.6h-2.2zM366.9 186.5h5.9v2.6h-5.9zM377.9 188.5h5.9v2.6h-5.9zM387.1 190.5h5.9v2.5h-5.9zM390.8 192.4h4.1v2.5h-4.1zM392.6 194.3h4.1v2.5h-4.1zM396.3 196.2h2.2v2.5h-2.2zM398.1 198.1h2.2v2.4h-2.2zM398.1 199.9h4.1v2.4h-4.1zM398.1 201.8h4.1v2.4h-4.1zM398.1 203.6h4.1v2.4h-4.1zM398.1 205.3h4.1v2.4h-4.1zM400 207.1h2.2v2.3h-2.2zM398.1 208.8h4.1v2.3h-4.1zM398.1 210.6h4.1v2.3h-4.1zM398.1 212.2h4.1v2.3h-4.1zM398.1 213.9h4.1v2.2h-4.1zM398.1 215.6h4.1v2.2h-4.1zM398.1 217.2h4.1v2.2h-4.1zM398.1 218.8h2.2v2.2h-2.2zM396.3 220.4h4.1v2.2h-4.1zM396.3 221.9h4.1v2.1h-4.1zM396.3 223.5h4.1v2.1h-4.1zM396.3 225h4.1v2.1h-4.1zM396.3 226.5h4.1v2.1h-4.1zM394.4 227.9h4.1v2h-4.1zM390.8 229.4h5.9v2h-5.9zM388.9 230.8h4.1v2h-4.1zM385.3 232.2h5.9v2h-5.9zM383.4 233.6h5.9v2h-5.9zM379.8 234.9h5.9v1.9h-5.9zM376.1 236.3h5.9v1.9h-5.9zM372.4 237.6h5.9v1.9h-5.9zM368.7 238.9h5.9v1.9h-5.9zM365.1 240.1h5.9v1.8h-5.9zM361.4 241.4h5.9v1.8h-5.9zM359.6 242.6h4.1v1.8h-4.1zM355.9 243.8h4.1v1.8h-4.1zM354.1 245h4.1v1.8h-4.1zM352.2 246.1h2.2v1.7h-2.2zM348.5 247.2h4.1v1.7h-4.1zM346.7 248.4h2.2v1.7h-2.2zM344.9 249.4h2.2v1.7h-2.2zM343 250.5h4.1v1.6h-4.1zM343 251.5h2.2v1.6h-2.2zM341.2 252.6h2.2v1.6h-2.2zM341.2 253.6h2.2v1.6h-2.2zM339.4 254.5h2.2v1.6h-2.2zM337.5 256.4h2.2v1.5h-2.2zM337.5 257.3h2.2v2.3h-2.2zM335.7 259.1h2.2v2.3h-2.2zM335.7 260.7h2.2v2.2h-2.2zM333.9 263.8h2.2v2h-2.2zM333.9 265.2h2.2v1.9h-2.2zM332 267.7h2.2v1.7h-2.2zM332 268.8h2.2v1.6h-2.2zM330.2 273h2.2v1.7h-2.2zM330.2 274.1h2.2v1.5h-2.2zM330.2 275.1h2.2v0.8h-2.2z"/>
<path fill="#00f528" d="M319.2 29.9h2.2v3.9h-2.2zM319.2 33.2h4.1v3.9h-4.1zM319.2 36.5h4.1v3.9h-4.1zM319.2 39.8h4.1v3.8h-4.1zM319.2 43h5.9v3.8h-5.9zM319.2 46.2h2.2v3.8h-2.2zM322.8 46.2h4.1v3.8h-4.1zM317.3 49.4h4.1v3.8h-4.1zM324.7 49.4h4.1v3.8h-4.1zM317.3 52.6h4.1v3.7h-4.1zM328.4 52.6h2.2v3.7h-2.2zM315.5 55.7h2.2v3.7h-2.2zM332 55.7h2.2v3.7h-2.2zM332 58.8h2.2v3.7h-2.2zM333.9 61.9h2.2v3.7h-2.2zM333.9 65h2.2v3.7h-2.2zM332 68.1h2.2v3.6h-2.2zM315.5 71.1h4.1v3.6h-4.1zM330.2 71.1h2.2v3.6h-2.2zM317.3 74.1h2.2v3.6h-2.2zM328.4 74.1h2.2v3.6h-2.2zM317.3 77.1h4.1v3.6h-4.1zM326.5 77.1h2.2v3.6h-2.2zM317.3 80.1h4.1v3.5h-4.1zM326.5 80.1h2.2v3.5h-2.2zM359.6 83h7.7v3.5h-7.7zM359.6 86h9.6v3.5h-9.6zM361.4 88.9h7.7v3.5h-7.7zM361.4 91.7h9.6v3.5h-9.6zM361.4 94.6h9.6v3.4h-9.6zM361.4 97.4h7.7v3.4h-7.7zM361.4 100.2h7.7v3.4h-7.7zM359.6 103h9.6v3.4h-9.6zM359.6 105.8h7.7v3.3h-7.7zM315.5 108.5h4.1v3.3h-4.1zM330.2 108.5h2.2v3.3h-2.2zM315.5 111.3h4.1v3.3h-4.1zM328.4 111.3h4.1v3.3h-4.1zM315.5 114h4.1v3.3h-4.1zM328.4 114h2.2v3.3h-2.2zM315.5 116.6h4.1v3.3h-4.1zM326.5 116.6h4.1v3.3h-4.1zM317.3 119.3h4.1v3.2h-4.1zM326.5 119.3h2.2v3.2h-2.2zM317.3 121.9h4.1v3.2h-4.1zM326.5 121.9h2.2v3.2h-2.2zM317.3 124.5h4.1v3.2h-4.1zM324.7 124.5h2.2v3.2h-2.2zM317.3 127.1h4.1v3.2h-4.1zM324.7 127.1h2.2v3.2h-2.2zM317.3 129.7h4.1v3.1h-4.1zM324.7 129.7h2.2v3.1h-2.2zM317.3 132.2h4.1v3.1h-4.1zM324.7 132.2h2.2v3.1h-2.2zM317.3 134.7h4.1v3.1h-4.1zM324.7 134.7h2.2v3.1h-2.2zM317.3 137.2h4.1v3.1h-4.1zM324.7 137.2h2.2v3.1h-2.2zM317.3 139.7h4.1v3.1h-4.1zM324.7 139.7h2.2v3.1h-2.2zM317.3 142.2h4.1v3h-4.1zM324.7 142.2h4.1v3h-4.1zM315.5 144.6h4.1v3h-4.1zM328.4 144.6h2.2v3h-2.2zM315.5 147h2.2v3h-2.2zM332 147h2.2v3h-2.2zM339.4 149.4h35.3v3h-35.3zM370.6 151.8h15.1v2.9h-15.1zM370.6 154.1h15.1v2.9h-15.1zM319.2 156.4h7.7v2.9h-7.7zM319.2 186.5h5.9v2.6h-5.9zM317.3 188.5h4.1v2.6h-4.1zM324.7 188.5h4.1v2.6h-4.1zM315.5 190.5h4.1v2.5h-4.1zM328.4 190.5h2.2v2.5h-2.2zM315.5 192.4h2.2v2.5h-2.2zM328.4 192.4h4.1v2.5h-4.1zM315.5 194.3h2.2v2.5h-2.2zM330.2 194.3h2.2v2.5h-2.2zM330.2 196.2h4.1v2.5h-4.1zM332 198.1h2.2v2.4h-2.2zM332 199.9h2.2v2.4h-2.2zM332 201.8h2.2v2.4h-2.2zM333.9 203.6h2.2v2.4h-2.2zM333.9 205.3h2.2v2.4h-2.2zM333.9 207.1h2.2v2.3h-2.2zM333.9 208.8h2.2v2.3h-2.2zM333.9 210.6h2.2v2.3h-2.2zM333.9 212.2h2.2v2.3h-2.2zM333.9 213.9h2.2v2.2h-2.2zM333.9 215.6h2.2v2.2h-2.2zM333.9 217.2h2.2v2.2h-2.2zM333.9 218.8h2.2v2.2h-2.2zM333.9 220.4h2.2v2.2h-2.2zM333.9 221.9h2.2v2.1h-2.2zM333.9 223.5h2.2v2.1h-2.2zM333.9 225h2.2v2.1h-2.2zM333.9 226.5h2.2v2.1h-2.2zM332 227.9h2.2v2h-2.2zM332 229.4h2.2v2h-2.2zM332 230.8h2.2v2h-2.2zM332 232.2h2.2v2h-2.2zM330.2 233.6h2.2v2h-2.2zM330.2 234.9h2.2v1.9h-2.2zM330.2 236.3h2.2v1.9h-2.2zM328.4 237.6h2.2v1.9h-2.2zM328.4 238.9h2.2v1.9h-2.2zM328.4 240.1h2.2v1.8h-2.2zM326.5 241.4h2.2v1.8h-2.2zM315.5 242.6h2.2v1.8h-2.2zM326.5 242.6h2.2v1.8h-2.2zM315.5 243.8h2.2v1.8h-2.2zM326.5 243.8h2.2v1.8h-2.2zM315.5 245h2.2v1.8h-2.2zM315.5 246.1h2.2v1.7h-2.2zM324.7 246.1h2.2v1.7h-2.2zM315.5 247.2h2.2v1.7h-2.2zM324.7 247.2h2.2v1.7h-2.2zM315.5 248.4h4.1v1.7h-4.1zM315.5 249.4h4.1v1.7h-4.1zM322.8 249.4h2.2v1.7h-2.2zM315.5 250.5h4.1v1.6h-4.1zM322.8 250.5h2.2v1.6h-2.2zM315.5 251.5h4.1v1.6h-4.1zM322.8 251.5h2.2v1.6h-2.2zM315.5 252.6h4.1v1.6h-4.1zM322.8 252.6h2.2v1.6h-2.2zM315.5 253.6h4.1v1.6h-4.1zM315.5 254.5h4.1v1.6h-4.1zM321 254.5h2.2v1.6h-2.2zM315.5 255.5h4.1v1.5h-4.1zM321 255.5h2.2v1.5h-2.2zM315.5 256.4h4.1v1.5h-4.1zM321 256.4h2.2v1.5h-2.2zM315.5 257.3h7.7v2.3h-7.7zM317.3 259.1h5.9v2.3h-5.9zM317.3 260.7h4.1v2.2h-4.1zM317.3 262.3h4.1v2.1h-4.1zM317.3 263.8h4.1v2h-4.1zM317.3 265.2h4.1v1.9h-4.1zM317.3 266.5h4.1v1.8h-4.1zM317.3 267.7h2.2v1.7h-2.2zM317.3 268.8h2.2v1.6h-2.2zM317.3 269.8h2.2v1.5h-2.2zM317.3 270.8h2.2v1.8h-2.2z"/>
<path fill="#15f80c" d="M321 46.2h2.2v3.8h-2.2zM321 49.4h4.1v3.8h-4.1zM321 52.6h7.7v3.7h-7.7zM317.3 55.7h4.1v3.7h-4.1zM328.4 55.7h4.1v3.7h-4.1zM315.5 58.8h2.2v3.7h-2.2zM330.2 58.8h2.2v3.7h-2.2zM315.5 61.9h2.2v3.7h-2.2zM332 61.9h2.2v3.7h-2.2zM315.5 65h2.2v3.7h-2.2zM332 65h2.2v3.7h-2.2zM315.5 68.1h2.2v3.6h-2.2zM330.2 68.1h2.2v3.6h-2.2zM319.2 71.1h2.2v3.6h-2.2zM328.4 71.1h2.2v3.6h-2.2zM319.2 74.1h9.6v3.6h-9.6zM321 77.1h5.9v3.6h-5.9zM321 80.1h5.9v3.5h-5.9zM352.2 83h7.7v3.5h-7.7zM352.2 86h7.7v3.5h-7.7zM352.2 88.9h9.6v3.5h-9.6zM354.1 91.7h7.7v3.5h-7.7zM354.1 94.6h7.7v3.4h-7.7zM354.1 97.4h7.7v3.4h-7.7zM352.2 100.2h9.6v3.4h-9.6zM352.2 103h7.7v3.4h-7.7zM352.2 105.8h7.7v3.3h-7.7zM319.2 108.5h11.4v3.3h-11.4zM319.2 111.3h9.6v3.3h-9.6zM319.2 114h9.6v3.3h-9.6zM319.2 116.6h7.7v3.3h-7.7zM321 119.3h5.9v3.2h-5.9zM321 121.9h5.9v3.2h-5.9zM321 124.5h4.1v3.2h-4.1zM321 127.1h4.1v3.2h-4.1zM321 129.7h4.1v3.1h-4.1zM321 132.2h4.1v3.1h-4.1zM321 134.7h4.1v3.1h-4.1zM321 137.2h4.1v3.1h-4.1zM321 139.7h4.1v3.1h-4.1zM321 142.2h4.1v3h-4.1zM319.2 144.6h9.6v3h-9.6zM317.3 147h2.2v3h-2.2zM328.4 147h4.1v3h-4.1zM335.7 149.4h4.1v3h-4.1zM352.2 151.8h18.8v2.9h-18.8zM352.2 154.1h18.8v2.9h-18.8zM321 188.5h4.1v2.6h-4.1zM319.2 190.5h9.6v2.5h-9.6zM317.3 192.4h4.1v2.5h-4.1zM326.5 192.4h2.2v2.5h-2.2zM317.3 194.3h4.1v2.5h-4.1zM328.4 194.3h2.2v2.5h-2.2zM315.5 196.2h4.1v2.5h-4.1zM328.4 196.2h2.2v2.5h-2.2zM315.5 198.1h4.1v2.4h-4.1zM330.2 198.1h2.2v2.4h-2.2zM315.5 199.9h2.2v2.4h-2.2zM330.2 199.9h2.2v2.4h-2.2zM315.5 201.8h2.2v2.4h-2.2zM330.2 201.8h2.2v2.4h-2.2zM315.5 203.6h2.2v2.4h-2.2zM332 203.6h2.2v2.4h-2.2zM332 205.3h2.2v2.4h-2.2zM332 207.1h2.2v2.3h-2.2zM332 208.8h2.2v2.3h-2.2zM332 210.6h2.2v2.3h-2.2zM332 212.2h2.2v2.3h-2.2zM332 213.9h2.2v2.2h-2.2zM332 215.6h2.2v2.2h-2.2zM332 217.2h2.2v2.2h-2.2zM332 218.8h2.2v2.2h-2.2zM332 220.4h2.2v2.2h-2.2zM332 221.9h2.2v2.1h-2.2zM332 223.5h2.2v2.1h-2.2zM332 225h2.2v2.1h-2.2zM330.2 226.5h4.1v2.1h-4.1zM330.2 227.9h2.2v2h-2.2zM315.5 229.4h2.2v2h-2.2zM330.2 229.4h2.2v2h-2.2zM315.5 230.8h2.2v2h-2.2zM330.2 230.8h2.2v2h-2.2zM315.5 232.2h2.2v2h-2.2zM330.2 232.2h2.2v2h-2.2zM315.5 233.6h2.2v2h-2.2zM328.4 233.6h2.2v2h-2.2zM315.5 234.9h2.2v1.9h-2.2zM328.4 234.9h2.2v1.9h-2.2zM315.5 236.3h4.1v1.9h-4.1zM328.4 236.3h2.2v1.9h-2.2zM315.5 237.6h4.1v1.9h-4.1zM315.5 238.9h4.1v1.9h-4.1zM326.5 238.9h2.2v1.9h-2.2zM315.5 240.1h4.1v1.8h-4.1zM326.5 240.1h2.2v1.8h-2.2zM315.5 241.4h4.1v1.8h-4.1zM317.3 242.6h4.1v1.8h-4.1zM324.7 242.6h2.2v1.8h-2.2zM317.3 243.8h4.1v1.8h-4.1zM324.7 243.8h2.2v1.8h-2.2zM317.3 245h4.1v1.8h-4.1zM324.7 245h2.2v1.8h-2.2zM317.3 246.1h4.1v1.7h-4.1zM322.8 246.1h2.2v1.7h-2.2zM317.3 247.2h4.1v1.7h-4.1zM322.8 247.2h2.2v1.7h-2.2zM319.2 248.4h2.2v1.7h-2.2zM322.8 248.4h2.2v1.7h-2.2zM319.2 249.4h4.1v1.7h-4.1zM319.2 250.5h4.1v1.6h-4.1zM319.2 251.5h4.1v1.6h-4.1zM319.2 252.6h4.1v1.6h-4.1zM319.2 253.6h4.1v1.6h-4.1zM319.2 254.5h2.2v1.6h-2.2zM319.2 255.5h2.2v1.5h-2.2zM319.2 256.4h2.2v1.5h-2.2z"/>
<path fill="#3df800" d="M321 55.7h7.7v3.7h-7.7zM317.3 58.8h4.1v3.7h-4.1zM322.8 58.8h7.7v3.7h-7.7zM317.3 61.9h4.1v3.7h-4.1zM326.5 61.9h5.9v3.7h-5.9zM317.3 65h4.1v3.7h-4.1zM326.5 65h5.9v3.7h-5.9zM317.3 68.1h4.1v3.6h-4.1zM322.8 68.1h7.7v3.6h-7.7zM321 71.1h7.7v3.6h-7.7zM343 83h9.6v3.5h-9.6zM344.9 86h7.7v3.5h-7.7zM344.9 88.9h7.7v3.5h-7.7zM344.9 91.7h9.6v3.5h-9.6zM344.9 94.6h9.6v3.4h-9.6zM344.9 97.4h9.6v3.4h-9.6zM344.9 100.2h7.7v3.4h-7.7zM344.9 103h7.7v3.4h-7.7zM343 105.8h9.6v3.3h-9.6zM319.2 147h9.6v3h-9.6zM330.2 149.4h5.9v3h-5.9zM339.4 151.8h13.3v2.9h-13.3zM339.4 154.1h13.3v2.9h-13.3zM321 192.4h5.9v2.5h-5.9zM321 194.3h7.7v2.5h-7.7zM319.2 196.2h9.6v2.5h-9.6zM319.2 198.1h11.4v2.4h-11.4zM317.3 199.9h13.3v2.4h-13.3zM317.3 201.8h4.1v2.4h-4.1zM324.7 201.8h5.9v2.4h-5.9zM317.3 203.6h4.1v2.4h-4.1zM326.5 203.6h5.9v2.4h-5.9zM315.5 205.3h4.1v2.4h-4.1zM326.5 205.3h5.9v2.4h-5.9zM315.5 207.1h4.1v2.3h-4.1zM328.4 207.1h4.1v2.3h-4.1zM315.5 208.8h4.1v2.3h-4.1zM328.4 208.8h4.1v2.3h-4.1zM315.5 210.6h4.1v2.3h-4.1zM328.4 210.6h4.1v2.3h-4.1zM315.5 212.2h4.1v2.3h-4.1zM328.4 212.2h4.1v2.3h-4.1zM315.5 213.9h4.1v2.2h-4.1zM328.4 213.9h4.1v2.2h-4.1zM315.5 215.6h4.1v2.2h-4.1zM328.4 215.6h4.1v2.2h-4.1zM315.5 217.2h4.1v2.2h-4.1zM326.5 217.2h5.9v2.2h-5.9zM315.5 218.8h4.1v2.2h-4.1zM326.5 218.8h5.9v2.2h-5.9zM315.5 220.4h4.1v2.2h-4.1zM326.5 220.4h5.9v2.2h-5.9zM315.5 221.9h4.1v2.1h-4.1zM326.5 221.9h5.9v2.1h-5.9zM315.5 223.5h4.1v2.1h-4.1zM326.5 223.5h5.9v2.1h-5.9zM315.5 225h4.1v2.1h-4.1zM326.5 225h5.9v2.1h-5.9zM315.5 226.5h4.1v2.1h-4.1zM326.5 226.5h4.1v2.1h-4.1zM315.5 227.9h4.1v2h-4.1zM326.5 227.9h4.1v2h-4.1zM317.3 229.4h4.1v2h-4.1zM326.5 229.4h4.1v2h-4.1zM317.3 230.8h4.1v2h-4.1zM324.7 230.8h5.9v2h-5.9zM317.3 232.2h4.1v2h-4.1zM324.7 232.2h5.9v2h-5.9zM317.3 233.6h4.1v2h-4.1zM322.8 233.6h5.9v2h-5.9zM317.3 234.9h11.4v1.9h-11.4zM319.2 236.3h9.6v1.9h-9.6zM319.2 237.6h9.6v1.9h-9.6zM319.2 238.9h7.7v1.9h-7.7zM319.2 240.1h7.7v1.8h-7.7zM319.2 241.4h7.7v1.8h-7.7zM321 242.6h4.1v1.8h-4.1zM321 243.8h4.1v1.8h-4.1zM321 245h4.1v1.8h-4.1zM321 246.1h2.2v1.7h-2.2zM321 247.2h2.2v1.7h-2.2zM321 248.4h2.2v1.7h-2.2z"/>
<path fill="#73f500" d="M321 58.8h2.2v3.7h-2.2zM321 61.9h5.9v3.7h-5.9zM321 65h5.9v3.7h-5.9zM321 68.1h2.2v3.6h-2.2zM339.4 83h4.1v3.5h-4.1zM339.4 86h5.9v3.5h-5.9zM339.4 88.9h5.9v3.5h-5.9zM339.4 91.7h5.9v3.5h-5.9zM341.2 94.6h4.1v3.4h-4.1zM339.4 97.4h5.9v3.4h-5.9zM339.4 100.2h5.9v3.4h-5.9zM339.4 103h5.9v3.4h-5.9zM339.4 105.8h4.1v3.3h-4.1zM315.5 149.4h4.1v3h-4.1zM326.5 149.4h4.1v3h-4.1zM337.5 151.8h2.2v2.9h-2.2zM337.5 154.1h2.2v2.9h-2.2zM321 201.8h4.1v2.4h-4.1zM321 203.6h5.9v2.4h-5.9zM319.2 205.3h7.7v2.4h-7.7zM319.2 207.1h9.6v2.3h-9.6zM319.2 208.8h9.6v2.3h-9.6zM319.2 210.6h9.6v2.3h-9.6zM319.2 212.2h9.6v2.3h-9.6zM319.2 213.9h9.6v2.2h-9.6zM319.2 215.6h9.6v2.2h-9.6zM319.2 217.2h7.7v2.2h-7.7zM319.2 218.8h7.7v2.2h-7.7zM319.2 220.4h7.7v2.2h-7.7zM319.2 221.9h7.7v2.1h-7.7zM319.2 223.5h7.7v2.1h-7.7zM319.2 225h7.7v2.1h-7.7zM319.2 226.5h7.7v2.1h-7.7zM319.2 227.9h7.7v2h-7.7zM321 229.4h5.9v2h-5.9zM321 230.8h4.1v2h-4.1zM321 232.2h4.1v2h-4.1zM321 233.6h2.2v2h-2.2z"/>
<path fill="#ecf400" d="M315.5 83h13.3v3.5h-13.3zM315.5 86h13.3v3.5h-13.3zM321 88.9h9.6v3.5h-9.6zM322.8 91.7h7.7v3.5h-7.7zM324.7 94.6h7.7v3.4h-7.7zM322.8 97.4h7.7v3.4h-7.7zM319.2 100.2h11.4v3.4h-11.4zM315.5 103h13.3v3.4h-13.3zM315.5 105.8h13.3v3.3h-13.3zM332 151.8h2.2v2.9h-2.2zM332 154.1h2.2v2.9h-2.2z"/>
<path fill="#c5f500" d="M328.4 83h5.9v3.5h-5.9zM328.4 86h7.7v3.5h-7.7zM330.2 88.9h5.9v3.5h-5.9zM330.2 91.7h5.9v3.5h-5.9zM332 94.6h4.1v3.4h-4.1zM330.2 97.4h5.9v3.4h-5.9zM330.2 100.2h5.9v3.4h-5.9zM328.4 103h7.7v3.4h-7.7zM328.4 105.8h5.9v3.3h-5.9zM333.9 151.8h2.2v2.9h-2.2zM333.9 154.1h2.2v2.9h-2.2z"/>
<path fill="#9df500" d="M333.9 83h5.9v3.5h-5.9zM335.7 86h4.1v3.5h-4.1zM335.7 88.9h4.1v3.5h-4.1zM335.7 91.7h4.1v3.5h-4.1zM335.7 94.6h5.9v3.4h-5.9zM335.7 97.4h4.1v3.4h-4.1zM335.7 100.2h4.1v3.4h-4.1zM335.7 103h4.1v3.4h-4.1zM333.9 105.8h5.9v3.3h-5.9zM319.2 149.4h7.7v3h-7.7zM335.7 151.8h2.2v2.9h-2.2zM335.7 154.1h2.2v2.9h-2.2z"/>
<path fill="#fcde00" d="M315.5 88.9h5.9v3.5h-5.9zM315.5 91.7h7.7v3.5h-7.7zM315.5 94.6h9.6v3.4h-9.6zM315.5 97.4h7.7v3.4h-7.7zM315.5 100.2h4.1v3.4h-4.1zM330.2 151.8h2.2v2.9h-2.2zM330.2 154.1h2.2v2.9h-2.2z"/>
<path fill="#ff9100" d="M315.5 151.8h2.2v2.9h-2.2zM324.7 151.8h2.2v2.9h-2.2zM315.5 154.1h2.2v2.9h-2.2zM324.7 154.1h2.2v2.9h-2.2z"/>
<path fill="#ff6900" d="M317.3 151.8h7.7v2.9h-7.7zM317.3 154.1h7.7v2.9h-7.7z"/>
<path fill="#ffbb00" d="M326.5 151.8h4.1v2.9h-4.1zM326.5 154.1h4.1v2.9h-4.1z"/>
</g>
<g>
<path fill="#00eca8" d="M315.5 23.54h1.89v3.40h-1.89zM328.4 26.89h1.89v3.38h-1.89zM337.5 26.89h1.89v3.38h-1.89zM326.5 30.22h1.89v3.35h-1.89zM333.9 30.22h1.89v3.35h-1.89zM328.4 33.52h1.89v3.33h-1.89zM333.9 33.52h1.89v3.33h-1.89zM326.5 36.80h1.89v3.31h-1.89zM328.4 40.06h1.89v3.29h-1.89zM330.2 43.30h1.89v3.26h-1.89zM328.4 46.51h1.89v3.24h-1.89zM332 46.51h1.89v3.24h-1.89zM337.5 46.51h1.89v3.24h-1.89zM332 49.70h1.89v3.22h-1.89zM339.4 52.87h1.89v3.20h-1.89zM339.4 56.02h1.89v3.17h-1.89zM346.7 56.02h1.89v3.17h-1.89zM357.7 56.02h1.89v3.17h-1.89zM337.5 59.15h5.56v3.15h-5.56zM344.9 59.15h1.89v3.15h-1.89zM350.4 59.15h1.89v3.15h-1.89zM357.7 59.15h3.72v3.15h-3.72zM337.5 62.25h1.89v3.13h-1.89zM343 62.25h1.89v3.13h-1.89zM350.4 62.25h1.89v3.13h-1.89zM357.7 62.25h1.89v3.13h-1.89zM365.1 62.25h1.89v3.13h-1.89zM346.7 65.33h1.89v3.11h-1.89zM357.7 65.33h1.89v3.11h-1.89zM363.2 65.33h1.89v3.11h-1.89zM388.9 65.33h1.89v3.11h-1.89zM394.4 65.33h1.89v3.11h-1.89zM350.4 68.39h1.89v3.09h-1.89zM335.7 71.42h3.72v3.06h-3.72zM343 71.42h1.89v3.06h-1.89zM376.1 71.42h1.89v3.06h-1.89zM348.5 74.43h1.89v3.04h-1.89zM335.7 77.42h1.89v3.02h-1.89zM383.4 83.34h1.89v2.97h-1.89zM383.4 89.16h1.89v2.93h-1.89zM392.6 89.16h1.89v2.93h-1.89zM385.3 92.04h1.89v2.91h-1.89zM383.4 94.90h1.89v2.88h-1.89zM381.6 97.73h3.72v2.86h-3.72zM390.8 97.73h1.89v2.86h-1.89zM387.1 100.54h1.89v2.84h-1.89zM390.8 100.54h1.89v2.84h-1.89zM385.3 103.33h1.89v2.82h-1.89zM341.2 111.56h1.89v2.75h-1.89zM333.9 114.26h1.89v2.73h-1.89zM333.9 116.94h1.89v2.70h-1.89zM337.5 116.94h1.89v2.70h-1.89zM346.7 116.94h1.89v2.70h-1.89zM332 122.22h1.89v2.66h-1.89zM341.2 122.22h1.89v2.66h-1.89zM328.4 129.99h1.89v2.59h-1.89zM332 132.53h3.72v2.57h-3.72zM343 135.05h1.89v2.55h-1.89zM332 137.55h1.89v2.53h-1.89zM332 140.02h1.89v2.50h-1.89zM333.9 144.90h3.72v2.46h-3.72zM344.9 144.90h1.89v2.46h-1.89zM366.9 144.90h1.89v2.46h-1.89zM352.2 147.31h1.89v2.44h-1.89zM390.8 149.70h1.89v2.41h-1.89zM394.4 152.06h1.89v2.39h-1.89zM390.8 154.40h1.89v2.37h-1.89zM396.3 154.40h3.72v2.37h-3.72zM330.2 156.72h1.89v2.35h-1.89zM344.9 156.72h1.89v2.35h-1.89zM330.2 159.02h1.89v2.32h-1.89zM332 161.29h1.89v2.30h-1.89zM317.3 165.77h1.89v2.26h-1.89zM317.3 167.98h3.72v2.23h-3.72zM317.3 170.16h1.89v2.21h-1.89zM322.8 176.58h1.89v2.14h-1.89zM319.2 180.74h1.89v2.10h-1.89zM315.5 182.79h1.89v2.08h-1.89zM324.7 182.79h1.89v2.08h-1.89zM330.2 182.79h1.89v2.08h-1.89zM335.7 186.83h1.89v2.03h-1.89zM344.9 186.83h1.89v2.03h-1.89zM348.5 186.83h1.89v2.03h-1.89zM333.9 188.81h1.89v2.01h-1.89zM337.5 188.81h1.89v2.01h-1.89zM343 190.77h3.72v1.99h-3.72zM354.1 190.77h1.89v1.99h-1.89zM361.4 190.77h1.89v1.99h-1.89zM339.4 192.71h1.89v1.97h-1.89zM361.4 192.71h3.72v1.97h-3.72zM343 194.62h1.89v1.94h-1.89zM352.2 194.62h1.89v1.94h-1.89zM355.9 194.62h1.89v1.94h-1.89zM361.4 194.62h1.89v1.94h-1.89zM335.7 196.51h3.72v1.92h-3.72zM354.1 196.51h1.89v1.92h-1.89zM361.4 196.51h1.89v1.92h-1.89zM366.9 196.51h1.89v1.92h-1.89zM377.9 196.51h1.89v1.92h-1.89zM341.2 198.38h1.89v1.90h-1.89zM354.1 198.38h1.89v1.90h-1.89zM357.7 198.38h1.89v1.90h-1.89zM363.2 198.38h1.89v1.90h-1.89zM337.5 200.23h3.72v1.88h-3.72zM355.9 200.23h1.89v1.88h-1.89zM359.6 200.23h3.72v1.88h-3.72zM368.7 200.23h1.89v1.88h-1.89zM337.5 202.06h1.89v1.85h-1.89zM341.2 202.06h1.89v1.85h-1.89zM344.9 202.06h1.89v1.85h-1.89zM366.9 202.06h1.89v1.85h-1.89zM337.5 203.86h3.72v1.83h-3.72zM344.9 203.86h1.89v1.83h-1.89zM339.4 205.64h1.89v1.81h-1.89zM344.9 205.64h1.89v1.81h-1.89zM352.2 205.64h1.89v1.81h-1.89zM355.9 205.64h3.72v1.81h-3.72zM374.2 205.64h3.72v1.81h-3.72zM339.4 207.40h3.72v1.79h-3.72zM346.7 207.40h1.89v1.79h-1.89zM361.4 207.40h3.72v1.79h-3.72zM366.9 207.40h1.89v1.79h-1.89zM372.4 207.40h1.89v1.79h-1.89zM377.9 207.40h1.89v1.79h-1.89zM341.2 209.14h1.89v1.76h-1.89zM348.5 210.85h1.89v1.74h-1.89zM372.4 210.85h3.72v1.74h-3.72zM337.5 212.54h1.89v1.72h-1.89zM354.1 212.54h1.89v1.72h-1.89zM357.7 212.54h1.89v1.72h-1.89zM376.1 212.54h1.89v1.72h-1.89zM341.2 214.21h1.89v1.70h-1.89zM357.7 214.21h1.89v1.70h-1.89zM385.3 214.21h1.89v1.70h-1.89zM357.7 215.86h5.56v1.67h-5.56zM337.5 217.48h1.89v1.65h-1.89zM344.9 217.48h1.89v1.65h-1.89zM352.2 217.48h1.89v1.65h-1.89zM368.7 217.48h1.89v1.65h-1.89zM385.3 217.48h1.89v1.65h-1.89zM390.8 217.48h1.89v1.65h-1.89zM337.5 220.66h1.89v1.61h-1.89zM354.1 220.66h1.89v1.61h-1.89zM346.7 222.22h1.89v1.58h-1.89zM361.4 222.22h1.89v1.58h-1.89zM365.1 222.22h1.89v1.58h-1.89zM341.2 223.75h3.72v1.56h-3.72zM354.1 223.75h3.72v1.56h-3.72zM359.6 223.75h1.89v1.56h-1.89zM363.2 223.75h1.89v1.56h-1.89zM339.4 225.26h1.89v1.54h-1.89zM350.4 225.26h1.89v1.54h-1.89zM354.1 225.26h1.89v1.54h-1.89zM366.9 225.26h1.89v1.54h-1.89zM341.2 226.75h1.89v1.52h-1.89zM355.9 226.75h1.89v1.52h-1.89zM359.6 226.75h1.89v1.52h-1.89zM370.6 226.75h1.89v1.52h-1.89zM341.2 228.22h5.56v1.49h-5.56zM354.1 228.22h1.89v1.49h-1.89zM366.9 228.22h1.89v1.49h-1.89zM376.1 228.22h1.89v1.49h-1.89zM335.7 229.67h1.89v1.47h-1.89zM363.2 229.67h1.89v1.47h-1.89zM388.9 229.67h1.89v1.47h-1.89zM335.7 231.09h3.72v1.45h-3.72zM343 231.09h1.89v1.45h-1.89zM348.5 231.09h1.89v1.45h-1.89zM337.5 232.49h3.72v1.43h-3.72zM335.7 233.87h1.89v1.41h-1.89zM344.9 233.87h1.89v1.41h-1.89zM335.7 235.22h1.89v1.38h-1.89zM341.2 235.22h3.72v1.38h-3.72zM337.5 236.55h1.89v1.36h-1.89zM368.7 236.55h1.89v1.36h-1.89zM333.9 239.15h1.89v1.32h-1.89zM337.5 240.42h1.89v1.29h-1.89zM333.9 241.66h1.89v1.27h-1.89zM330.2 242.88h1.89v1.25h-1.89zM330.2 245.26h1.89v1.20h-1.89zM332 246.41h1.89v1.18h-1.89zM326.5 247.54h1.89v1.16h-1.89zM330.2 248.65h1.89v1.14h-1.89zM333.9 248.65h1.89v1.14h-1.89zM344.9 248.65h1.89v1.14h-1.89zM332 253.86h3.72v1.02h-3.72zM324.7 262.59h1.89v1.53h-1.89zM330.2 262.59h1.89v1.53h-1.89zM322.8 265.46h3.72v1.35h-3.72zM322.8 266.76h7.39v1.26h-7.39zM322.8 270.12h1.89v0.99h-1.89zM322.8 272.31h1.89v1.09h-1.89z"/>
<path fill="#00f073" d="M317.3 23.54h3.72v3.40h-3.72zM324.7 23.54h1.89v3.40h-1.89zM317.3 26.89h1.89v3.38h-1.89zM322.8 26.89h1.89v3.38h-1.89zM324.7 30.22h1.89v3.35h-1.89zM324.7 33.52h1.89v3.33h-1.89zM315.5 36.80h1.89v3.31h-1.89zM324.7 43.30h3.72v3.26h-3.72zM335.7 43.30h1.89v3.26h-1.89zM330.2 46.51h1.89v3.24h-1.89zM332 52.87h5.56v3.20h-5.56zM333.9 56.02h1.89v3.17h-1.89zM355.9 56.02h1.89v3.17h-1.89zM335.7 59.15h1.89v3.15h-1.89zM355.9 59.15h1.89v3.15h-1.89zM365.1 59.15h1.89v3.15h-1.89zM352.2 65.33h1.89v3.11h-1.89zM355.9 65.33h1.89v3.11h-1.89zM335.7 68.39h1.89v3.09h-1.89zM346.7 68.39h1.89v3.09h-1.89zM387.1 68.39h1.89v3.09h-1.89zM333.9 71.42h1.89v3.06h-1.89zM341.2 71.42h1.89v3.06h-1.89zM333.9 74.43h1.89v3.04h-1.89zM337.5 74.43h1.89v3.04h-1.89zM315.5 80.39h1.89v3.00h-1.89zM330.2 80.39h1.89v3.00h-1.89zM370.6 83.34h1.89v2.97h-1.89zM376.1 83.34h3.72v2.97h-3.72zM372.4 86.26h1.89v2.95h-1.89zM390.8 86.26h1.89v2.95h-1.89zM377.9 89.16h3.72v2.93h-3.72zM383.4 92.04h1.89v2.91h-1.89zM381.6 94.90h1.89v2.88h-1.89zM387.1 94.90h1.89v2.88h-1.89zM379.8 97.73h1.89v2.86h-1.89zM372.4 100.54h1.89v2.84h-1.89zM376.1 103.33h1.89v2.82h-1.89zM379.8 103.33h5.56v2.82h-5.56zM370.6 106.10h5.56v2.79h-5.56zM377.9 106.10h1.89v2.79h-1.89zM387.1 106.10h1.89v2.79h-1.89zM333.9 108.84h1.89v2.77h-1.89zM335.7 111.56h1.89v2.75h-1.89zM332 114.26h1.89v2.73h-1.89zM337.5 114.26h1.89v2.73h-1.89zM332 116.94h1.89v2.70h-1.89zM330.2 119.59h1.89v2.68h-1.89zM335.7 119.59h1.89v2.68h-1.89zM328.4 124.83h1.89v2.64h-1.89zM315.5 129.99h1.89v2.59h-1.89zM330.2 129.99h1.89v2.59h-1.89zM315.5 135.05h1.89v2.55h-1.89zM333.9 137.55h3.72v2.53h-3.72zM328.4 142.47h1.89v2.48h-1.89zM337.5 147.31h1.89v2.44h-1.89zM383.4 149.70h1.89v2.41h-1.89zM387.1 149.70h1.89v2.41h-1.89zM387.1 152.06h1.89v2.39h-1.89zM392.6 152.06h1.89v2.39h-1.89zM388.9 154.40h1.89v2.37h-1.89zM392.6 154.40h1.89v2.37h-1.89zM328.4 156.72h1.89v2.35h-1.89zM317.3 159.02h3.72v2.32h-3.72zM328.4 159.02h1.89v2.32h-1.89zM317.3 161.29h7.39v2.30h-7.39zM321 163.54h1.89v2.28h-1.89zM328.4 163.54h1.89v2.28h-1.89zM321 165.77h1.89v2.26h-1.89zM321 167.98h1.89v2.23h-1.89zM319.2 170.16h3.72v2.21h-3.72zM319.2 172.32h1.89v2.19h-1.89zM322.8 174.46h1.89v2.17h-1.89zM319.2 176.58h1.89v2.14h-1.89zM315.5 178.67h1.89v2.12h-1.89zM315.5 180.74h3.72v2.10h-3.72zM322.8 180.74h1.89v2.10h-1.89zM319.2 182.79h1.89v2.08h-1.89zM322.8 182.79h1.89v2.08h-1.89zM324.7 184.82h1.89v2.05h-1.89zM339.4 184.82h1.89v2.05h-1.89zM330.2 186.83h1.89v2.03h-1.89zM330.2 188.81h1.89v2.01h-1.89zM333.9 190.77h3.72v1.99h-3.72zM333.9 192.71h1.89v1.97h-1.89zM332 194.62h1.89v1.94h-1.89zM335.7 194.62h3.72v1.94h-3.72zM346.7 194.62h1.89v1.94h-1.89zM333.9 196.51h1.89v1.92h-1.89zM339.4 196.51h1.89v1.92h-1.89zM335.7 198.38h1.89v1.90h-1.89zM344.9 198.38h1.89v1.90h-1.89zM335.7 202.06h1.89v1.85h-1.89zM343 202.06h1.89v1.85h-1.89zM346.7 202.06h1.89v1.85h-1.89zM335.7 205.64h1.89v1.81h-1.89zM341.2 205.64h3.72v1.81h-3.72zM372.4 205.64h1.89v1.81h-1.89zM335.7 207.40h1.89v1.79h-1.89zM344.9 207.40h1.89v1.79h-1.89zM339.4 209.14h1.89v1.76h-1.89zM350.4 209.14h1.89v1.76h-1.89zM352.2 210.85h1.89v1.74h-1.89zM350.4 212.54h1.89v1.72h-1.89zM337.5 214.21h1.89v1.70h-1.89zM344.9 214.21h1.89v1.70h-1.89zM363.2 214.21h1.89v1.70h-1.89zM339.4 215.86h1.89v1.67h-1.89zM350.4 217.48h1.89v1.65h-1.89zM346.7 219.08h1.89v1.63h-1.89zM344.9 220.66h1.89v1.61h-1.89zM335.7 222.22h5.56v1.58h-5.56zM335.7 223.75h3.72v1.56h-3.72zM335.7 225.26h1.89v1.54h-1.89zM341.2 225.26h3.72v1.54h-3.72zM335.7 226.75h1.89v1.52h-1.89zM344.9 226.75h1.89v1.52h-1.89zM361.4 226.75h1.89v1.52h-1.89zM350.4 229.67h1.89v1.47h-1.89zM341.2 231.09h1.89v1.45h-1.89zM343 233.87h1.89v1.41h-1.89zM354.1 233.87h1.89v1.41h-1.89zM333.9 237.86h1.89v1.34h-1.89zM332 239.15h1.89v1.32h-1.89zM339.4 240.42h1.89v1.29h-1.89zM354.1 241.66h1.89v1.27h-1.89zM348.5 244.08h1.89v1.23h-1.89zM328.4 247.54h1.89v1.16h-1.89zM324.7 249.74h1.89v1.11h-1.89zM330.2 250.80h1.89v1.09h-1.89zM324.7 251.84h3.72v1.07h-3.72zM324.7 255.79h1.89v0.98h-1.89zM324.7 257.62h1.89v1.80h-1.89zM324.7 259.37h1.89v1.71h-1.89zM322.8 262.59h1.89v1.53h-1.89zM315.5 270.12h1.89v0.99h-1.89zM319.2 272.31h1.89v1.09h-1.89zM321 273.35h3.72v1.13h-3.72zM317.3 275.36h5.56v0.23h-5.56z"/>
<path fill="#00f25a" d="M321 23.54h1.89v3.40h-1.89zM326.5 23.54h1.89v3.40h-1.89zM324.7 26.89h3.72v3.38h-3.72zM317.3 30.22h1.89v3.35h-1.89zM315.5 33.52h1.89v3.33h-1.89zM322.8 33.52h1.89v3.33h-1.89zM326.5 33.52h1.89v3.33h-1.89zM317.3 36.80h1.89v3.31h-1.89zM315.5 40.06h1.89v3.29h-1.89zM326.5 40.06h1.89v3.29h-1.89zM315.5 43.30h1.89v3.26h-1.89zM317.3 46.51h1.89v3.24h-1.89zM315.5 49.70h3.72v3.22h-3.72zM328.4 49.70h1.89v3.22h-1.89zM335.7 65.33h1.89v3.11h-1.89zM370.6 65.33h1.89v3.11h-1.89zM361.4 71.42h1.89v3.06h-1.89zM332 77.42h3.72v3.02h-3.72zM374.2 83.34h1.89v2.97h-1.89zM370.6 89.16h1.89v2.93h-1.89zM374.2 89.16h3.72v2.93h-3.72zM381.6 89.16h1.89v2.93h-1.89zM370.6 92.04h5.56v2.91h-5.56zM377.9 92.04h1.89v2.91h-1.89zM381.6 92.04h1.89v2.91h-1.89zM372.4 94.90h1.89v2.88h-1.89zM379.8 94.90h1.89v2.88h-1.89zM370.6 97.73h5.56v2.86h-5.56zM385.3 97.73h1.89v2.86h-1.89zM370.6 100.54h1.89v2.84h-1.89zM376.1 100.54h1.89v2.84h-1.89zM368.7 103.33h3.72v2.82h-3.72zM377.9 103.33h1.89v2.82h-1.89zM368.7 106.10h1.89v2.79h-1.89zM376.1 106.10h1.89v2.79h-1.89zM381.6 106.10h1.89v2.79h-1.89zM332 108.84h1.89v2.77h-1.89zM368.7 111.56h1.89v2.75h-1.89zM330.2 114.26h1.89v2.73h-1.89zM315.5 122.22h1.89v2.66h-1.89zM330.2 122.22h1.89v2.66h-1.89zM317.3 127.42h1.89v2.61h-1.89zM328.4 127.42h1.89v2.61h-1.89zM326.5 129.99h1.89v2.59h-1.89zM315.5 132.53h1.89v2.57h-1.89zM328.4 137.55h1.89v2.53h-1.89zM328.4 140.02h1.89v2.50h-1.89zM332 144.90h1.89v2.46h-1.89zM335.7 147.31h1.89v2.44h-1.89zM350.4 147.31h1.89v2.44h-1.89zM388.9 149.70h1.89v2.41h-1.89zM390.8 152.06h1.89v2.39h-1.89zM387.1 154.40h1.89v2.37h-1.89zM315.5 156.72h3.72v2.35h-3.72zM326.5 156.72h1.89v2.35h-1.89zM332 156.72h3.72v2.35h-3.72zM321 159.02h3.72v2.32h-3.72zM319.2 163.54h1.89v2.28h-1.89zM322.8 167.98h1.89v2.23h-1.89zM319.2 174.46h1.89v2.17h-1.89zM317.3 176.58h1.89v2.14h-1.89zM321 178.67h1.89v2.12h-1.89zM330.2 184.82h1.89v2.05h-1.89zM315.5 186.83h1.89v2.03h-1.89zM326.5 186.83h1.89v2.03h-1.89zM328.4 188.81h1.89v2.01h-1.89zM344.9 192.71h1.89v1.97h-1.89zM348.5 198.38h1.89v1.90h-1.89zM361.4 198.38h1.89v1.90h-1.89zM366.9 198.38h3.72v1.90h-3.72zM333.9 200.23h3.72v1.88h-3.72zM350.4 200.23h1.89v1.88h-1.89zM333.9 203.86h3.72v1.83h-3.72zM335.7 209.14h3.72v1.76h-3.72zM396.3 209.14h1.89v1.76h-1.89zM339.4 212.54h1.89v1.72h-1.89zM335.7 215.86h3.72v1.67h-3.72zM335.7 217.48h1.89v1.65h-1.89zM337.5 219.08h1.89v1.63h-1.89zM341.2 219.08h1.89v1.63h-1.89zM355.9 219.08h1.89v1.63h-1.89zM335.7 220.66h1.89v1.61h-1.89zM343 226.75h1.89v1.52h-1.89zM392.6 226.75h1.89v1.52h-1.89zM335.7 228.22h1.89v1.49h-1.89zM333.9 229.67h1.89v1.47h-1.89zM333.9 231.09h1.89v1.45h-1.89zM332 235.22h1.89v1.38h-1.89zM330.2 237.86h3.72v1.34h-3.72zM341.2 237.86h1.89v1.34h-1.89zM363.2 237.86h1.89v1.34h-1.89zM330.2 239.15h1.89v1.32h-1.89zM332 242.88h1.89v1.25h-1.89zM328.4 244.08h1.89v1.23h-1.89zM328.4 245.26h1.89v1.20h-1.89zM324.7 248.65h3.72v1.14h-3.72zM324.7 252.86h1.89v1.05h-1.89zM322.8 254.83h1.89v1.00h-1.89zM322.8 255.79h1.89v0.98h-1.89zM322.8 256.71h1.89v0.96h-1.89zM322.8 257.62h1.89v1.80h-1.89zM322.8 259.37h1.89v1.71h-1.89zM315.5 261.03h1.89v1.62h-1.89zM321 261.03h1.89v1.62h-1.89zM321 262.59h1.89v1.53h-1.89zM321 266.76h1.89v1.26h-1.89zM315.5 269.09h1.89v1.08h-1.89zM319.2 269.09h1.89v1.08h-1.89zM317.3 270.12h1.89v0.99h-1.89zM321 270.12h1.89v0.99h-1.89zM315.5 271.06h1.89v1.29h-1.89zM315.5 272.31h1.89v1.09h-1.89zM315.5 274.42h1.89v0.99h-1.89zM321 274.42h1.89v0.99h-1.89zM315.5 275.36h1.89v0.23h-1.89z"/>
<path fill="#00ee8d" d="M322.8 23.54h1.89v3.40h-1.89zM328.4 23.54h3.72v3.40h-3.72zM315.5 26.89h1.89v3.38h-1.89zM328.4 30.22h1.89v3.35h-1.89zM324.7 36.80h1.89v3.31h-1.89zM330.2 49.70h1.89v3.22h-1.89zM346.7 52.87h1.89v3.20h-1.89zM354.1 56.02h1.89v3.17h-1.89zM363.2 56.02h3.72v3.17h-3.72zM354.1 59.15h1.89v3.15h-1.89zM335.7 62.25h1.89v3.13h-1.89zM337.5 65.33h3.72v3.11h-3.72zM343 65.33h1.89v3.11h-1.89zM359.6 65.33h1.89v3.11h-1.89zM365.1 65.33h1.89v3.11h-1.89zM383.4 65.33h1.89v3.11h-1.89zM339.4 68.39h1.89v3.09h-1.89zM354.1 68.39h3.72v3.09h-3.72zM366.9 71.42h1.89v3.06h-1.89zM379.8 71.42h1.89v3.06h-1.89zM339.4 74.43h1.89v3.04h-1.89zM344.9 77.42h1.89v3.02h-1.89zM332 80.39h1.89v3.00h-1.89zM379.8 83.34h1.89v2.97h-1.89zM390.8 83.34h1.89v2.97h-1.89zM376.1 86.26h7.39v2.95h-7.39zM387.1 86.26h1.89v2.95h-1.89zM387.1 89.16h1.89v2.93h-1.89zM377.9 94.90h1.89v2.88h-1.89zM390.8 94.90h1.89v2.88h-1.89zM377.9 100.54h3.72v2.84h-3.72zM388.9 103.33h1.89v2.82h-1.89zM335.7 108.84h1.89v2.77h-1.89zM339.4 111.56h1.89v2.75h-1.89zM348.5 114.26h1.89v2.73h-1.89zM339.4 116.94h1.89v2.70h-1.89zM332 119.59h1.89v2.68h-1.89zM339.4 119.59h1.89v2.68h-1.89zM333.9 122.22h1.89v2.66h-1.89zM330.2 124.83h1.89v2.64h-1.89zM328.4 132.53h3.72v2.57h-3.72zM328.4 135.05h3.72v2.55h-3.72zM330.2 140.02h1.89v2.50h-1.89zM330.2 142.47h1.89v2.48h-1.89zM339.4 142.47h1.89v2.48h-1.89zM343 147.31h3.72v2.44h-3.72zM392.6 149.70h3.72v2.41h-3.72zM388.9 152.06h1.89v2.39h-1.89zM394.4 154.40h1.89v2.37h-1.89zM324.7 159.02h1.89v2.32h-1.89zM324.7 161.29h3.72v2.30h-3.72zM315.5 163.54h3.72v2.28h-3.72zM319.2 165.77h1.89v2.26h-1.89zM322.8 165.77h3.72v2.26h-3.72zM315.5 170.16h1.89v2.21h-1.89zM317.3 172.32h1.89v2.19h-1.89zM321 172.32h1.89v2.19h-1.89zM315.5 174.46h1.89v2.17h-1.89zM321 174.46h1.89v2.17h-1.89zM321 176.58h1.89v2.14h-1.89zM319.2 178.67h1.89v2.12h-1.89zM321 180.74h1.89v2.10h-1.89zM317.3 182.79h1.89v2.08h-1.89zM321 182.79h1.89v2.08h-1.89zM315.5 184.82h3.72v2.05h-3.72zM322.8 184.82h1.89v2.05h-1.89zM326.5 184.82h1.89v2.05h-1.89zM337.5 184.82h1.89v2.05h-1.89zM333.9 186.83h1.89v2.03h-1.89zM337.5 186.83h1.89v2.03h-1.89zM332 188.81h1.89v2.01h-1.89zM335.7 188.81h1.89v2.01h-1.89zM344.9 188.81h1.89v2.01h-1.89zM332 190.77h1.89v1.99h-1.89zM383.4 190.77h1.89v1.99h-1.89zM339.4 194.62h1.89v1.94h-1.89zM363.2 194.62h1.89v1.94h-1.89zM341.2 196.51h1.89v1.92h-1.89zM344.9 196.51h1.89v1.92h-1.89zM339.4 198.38h1.89v1.90h-1.89zM352.2 198.38h1.89v1.90h-1.89zM341.2 200.23h1.89v1.88h-1.89zM341.2 203.86h3.72v1.83h-3.72zM348.5 203.86h1.89v1.83h-1.89zM363.2 203.86h1.89v1.83h-1.89zM370.6 203.86h1.89v1.83h-1.89zM348.5 205.64h1.89v1.81h-1.89zM337.5 207.40h1.89v1.79h-1.89zM343 207.40h1.89v1.79h-1.89zM379.8 209.14h1.89v1.76h-1.89zM337.5 210.85h1.89v1.74h-1.89zM343 210.85h1.89v1.74h-1.89zM343 212.54h1.89v1.72h-1.89zM346.7 212.54h1.89v1.72h-1.89zM379.8 212.54h1.89v1.72h-1.89zM346.7 214.21h1.89v1.70h-1.89zM374.2 214.21h1.89v1.70h-1.89zM348.5 215.86h1.89v1.67h-1.89zM363.2 215.86h1.89v1.67h-1.89zM339.4 217.48h1.89v1.65h-1.89zM363.2 217.48h1.89v1.65h-1.89zM343 219.08h1.89v1.63h-1.89zM352.2 219.08h1.89v1.63h-1.89zM352.2 220.66h1.89v1.61h-1.89zM361.4 223.75h1.89v1.56h-1.89zM368.7 223.75h1.89v1.56h-1.89zM381.6 223.75h1.89v1.56h-1.89zM344.9 225.26h1.89v1.54h-1.89zM365.1 226.75h1.89v1.52h-1.89zM339.4 228.22h1.89v1.49h-1.89zM363.2 228.22h1.89v1.49h-1.89zM348.5 229.67h1.89v1.47h-1.89zM335.7 232.49h1.89v1.43h-1.89zM341.2 232.49h1.89v1.43h-1.89zM350.4 232.49h1.89v1.43h-1.89zM333.9 235.22h1.89v1.38h-1.89zM346.7 235.22h1.89v1.38h-1.89zM357.7 235.22h1.89v1.38h-1.89zM333.9 236.55h1.89v1.36h-1.89zM344.9 236.55h1.89v1.36h-1.89zM350.4 239.15h1.89v1.32h-1.89zM354.1 239.15h1.89v1.32h-1.89zM330.2 240.42h1.89v1.29h-1.89zM330.2 244.08h1.89v1.23h-1.89zM333.9 245.26h3.72v1.20h-3.72zM328.4 246.41h1.89v1.18h-1.89zM326.5 249.74h1.89v1.11h-1.89zM330.2 249.74h1.89v1.11h-1.89zM324.7 254.83h1.89v1.00h-1.89zM326.5 255.79h1.89v0.98h-1.89zM328.4 257.62h1.89v1.80h-1.89zM328.4 261.03h1.89v1.62h-1.89zM326.5 267.97h1.89v1.17h-1.89zM321 269.09h1.89v1.08h-1.89zM321 272.31h1.89v1.09h-1.89zM322.8 274.42h1.89v0.99h-1.89z"/>
<path fill="#00eac3" d="M332 23.54h3.72v3.40h-3.72zM339.4 23.54h1.89v3.40h-1.89zM341.2 26.89h1.89v3.38h-1.89zM330.2 30.22h1.89v3.35h-1.89zM328.4 36.80h1.89v3.31h-1.89zM330.2 40.06h5.56v3.29h-5.56zM333.9 43.30h1.89v3.26h-1.89zM333.9 46.51h3.72v3.24h-3.72zM350.4 46.51h1.89v3.24h-1.89zM333.9 49.70h1.89v3.22h-1.89zM339.4 49.70h1.89v3.22h-1.89zM343 49.70h1.89v3.22h-1.89zM348.5 49.70h1.89v3.22h-1.89zM341.2 52.87h1.89v3.20h-1.89zM352.2 56.02h1.89v3.17h-1.89zM381.6 56.02h1.89v3.17h-1.89zM370.6 59.15h1.89v3.15h-1.89zM341.2 62.25h1.89v3.13h-1.89zM344.9 62.25h3.72v3.13h-3.72zM361.4 62.25h1.89v3.13h-1.89zM366.9 62.25h1.89v3.13h-1.89zM376.1 62.25h1.89v3.13h-1.89zM341.2 65.33h1.89v3.11h-1.89zM392.6 65.33h1.89v3.11h-1.89zM337.5 68.39h1.89v3.09h-1.89zM359.6 68.39h1.89v3.09h-1.89zM365.1 68.39h1.89v3.09h-1.89zM385.3 68.39h1.89v3.09h-1.89zM339.4 71.42h1.89v3.06h-1.89zM348.5 71.42h1.89v3.06h-1.89zM357.7 71.42h1.89v3.06h-1.89zM377.9 71.42h1.89v3.06h-1.89zM341.2 74.43h1.89v3.04h-1.89zM361.4 74.43h1.89v3.04h-1.89zM337.5 77.42h5.56v3.02h-5.56zM355.9 77.42h1.89v3.02h-1.89zM335.7 80.39h1.89v3.00h-1.89zM381.6 83.34h1.89v2.97h-1.89zM374.2 86.26h1.89v2.95h-1.89zM383.4 86.26h1.89v2.95h-1.89zM396.3 86.26h1.89v2.95h-1.89zM385.3 89.16h1.89v2.93h-1.89zM390.8 89.16h1.89v2.93h-1.89zM396.3 89.16h1.89v2.93h-1.89zM387.1 92.04h3.72v2.91h-3.72zM387.1 97.73h3.72v2.86h-3.72zM383.4 100.54h1.89v2.84h-1.89zM398.1 100.54h1.89v2.84h-1.89zM394.4 103.33h1.89v2.82h-1.89zM379.8 106.10h1.89v2.79h-1.89zM383.4 106.10h1.89v2.79h-1.89zM337.5 108.84h1.89v2.77h-1.89zM344.9 108.84h1.89v2.77h-1.89zM346.7 111.56h3.72v2.75h-3.72zM335.7 114.26h1.89v2.73h-1.89zM335.7 116.94h1.89v2.70h-1.89zM333.9 119.59h1.89v2.68h-1.89zM333.9 124.83h1.89v2.64h-1.89zM330.2 127.42h1.89v2.61h-1.89zM333.9 127.42h1.89v2.61h-1.89zM337.5 127.42h3.72v2.61h-3.72zM337.5 132.53h1.89v2.57h-1.89zM332 135.05h1.89v2.55h-1.89zM339.4 137.55h1.89v2.53h-1.89zM335.7 140.02h1.89v2.50h-1.89zM332 142.47h1.89v2.48h-1.89zM337.5 142.47h1.89v2.48h-1.89zM337.5 144.90h1.89v2.46h-1.89zM348.5 147.31h1.89v2.44h-1.89zM396.3 149.70h1.89v2.41h-1.89zM398.1 152.06h1.89v2.39h-1.89zM405.5 154.40h1.89v2.37h-1.89zM341.2 159.02h1.89v2.32h-1.89zM315.5 161.29h1.89v2.30h-1.89zM328.4 161.29h1.89v2.30h-1.89zM315.5 165.77h1.89v2.26h-1.89zM322.8 170.16h1.89v2.21h-1.89zM315.5 172.32h1.89v2.19h-1.89zM328.4 172.32h1.89v2.19h-1.89zM315.5 176.58h1.89v2.14h-1.89zM324.7 176.58h1.89v2.14h-1.89zM322.8 178.67h1.89v2.12h-1.89zM328.4 180.74h1.89v2.10h-1.89zM332 180.74h1.89v2.10h-1.89zM332 184.82h1.89v2.05h-1.89zM355.9 186.83h1.89v2.03h-1.89zM368.7 186.83h1.89v2.03h-1.89zM343 188.81h1.89v2.01h-1.89zM352.2 188.81h1.89v2.01h-1.89zM337.5 190.77h1.89v1.99h-1.89zM348.5 190.77h1.89v1.99h-1.89zM365.1 190.77h1.89v1.99h-1.89zM374.2 190.77h1.89v1.99h-1.89zM352.2 192.71h1.89v1.97h-1.89zM357.7 192.71h1.89v1.97h-1.89zM370.6 192.71h1.89v1.97h-1.89zM374.2 192.71h1.89v1.97h-1.89zM379.8 192.71h1.89v1.97h-1.89zM341.2 194.62h1.89v1.94h-1.89zM348.5 194.62h1.89v1.94h-1.89zM387.1 194.62h1.89v1.94h-1.89zM343 196.51h1.89v1.92h-1.89zM352.2 196.51h1.89v1.92h-1.89zM355.9 196.51h1.89v1.92h-1.89zM374.2 196.51h1.89v1.92h-1.89zM346.7 198.38h1.89v1.90h-1.89zM379.8 198.38h1.89v1.90h-1.89zM344.9 200.23h5.56v1.88h-5.56zM354.1 200.23h1.89v1.88h-1.89zM381.6 200.23h1.89v1.88h-1.89zM339.4 202.06h1.89v1.85h-1.89zM350.4 202.06h1.89v1.85h-1.89zM346.7 203.86h1.89v1.83h-1.89zM352.2 203.86h1.89v1.83h-1.89zM359.6 203.86h3.72v1.83h-3.72zM350.4 205.64h1.89v1.81h-1.89zM354.1 205.64h1.89v1.81h-1.89zM366.9 205.64h1.89v1.81h-1.89zM377.9 205.64h1.89v1.81h-1.89zM357.7 207.40h1.89v1.79h-1.89zM343 209.14h3.72v1.76h-3.72zM348.5 209.14h1.89v1.76h-1.89zM354.1 209.14h1.89v1.76h-1.89zM357.7 209.14h1.89v1.76h-1.89zM339.4 210.85h1.89v1.74h-1.89zM346.7 210.85h1.89v1.74h-1.89zM354.1 210.85h1.89v1.74h-1.89zM359.6 210.85h1.89v1.74h-1.89zM363.2 210.85h1.89v1.74h-1.89zM388.9 210.85h1.89v1.74h-1.89zM341.2 212.54h1.89v1.72h-1.89zM339.4 214.21h1.89v1.70h-1.89zM343 214.21h1.89v1.70h-1.89zM350.4 214.21h1.89v1.70h-1.89zM354.1 214.21h1.89v1.70h-1.89zM361.4 214.21h1.89v1.70h-1.89zM365.1 214.21h1.89v1.70h-1.89zM372.4 214.21h1.89v1.70h-1.89zM379.8 214.21h1.89v1.70h-1.89zM341.2 215.86h1.89v1.67h-1.89zM341.2 217.48h3.72v1.65h-3.72zM355.9 217.48h1.89v1.65h-1.89zM359.6 217.48h1.89v1.65h-1.89zM366.9 217.48h1.89v1.65h-1.89zM344.9 219.08h1.89v1.63h-1.89zM372.4 219.08h3.72v1.63h-3.72zM341.2 220.66h3.72v1.61h-3.72zM346.7 220.66h1.89v1.61h-1.89zM350.4 220.66h1.89v1.61h-1.89zM355.9 220.66h1.89v1.61h-1.89zM385.3 220.66h1.89v1.61h-1.89zM379.8 222.22h1.89v1.58h-1.89zM339.4 223.75h1.89v1.56h-1.89zM344.9 223.75h1.89v1.56h-1.89zM348.5 223.75h1.89v1.56h-1.89zM337.5 225.26h1.89v1.54h-1.89zM348.5 225.26h1.89v1.54h-1.89zM352.2 225.26h1.89v1.54h-1.89zM365.1 225.26h1.89v1.54h-1.89zM379.8 225.26h1.89v1.54h-1.89zM350.4 226.75h1.89v1.52h-1.89zM357.7 226.75h1.89v1.52h-1.89zM348.5 228.22h1.89v1.49h-1.89zM355.9 228.22h1.89v1.49h-1.89zM341.2 229.67h1.89v1.47h-1.89zM344.9 229.67h1.89v1.47h-1.89zM354.1 229.67h1.89v1.47h-1.89zM357.7 229.67h1.89v1.47h-1.89zM372.4 229.67h1.89v1.47h-1.89zM346.7 231.09h1.89v1.45h-1.89zM352.2 231.09h1.89v1.45h-1.89zM343 232.49h3.72v1.43h-3.72zM359.6 232.49h1.89v1.43h-1.89zM344.9 235.22h1.89v1.38h-1.89zM354.1 235.22h1.89v1.38h-1.89zM359.6 235.22h1.89v1.38h-1.89zM379.8 236.55h1.89v1.36h-1.89zM339.4 237.86h1.89v1.34h-1.89zM352.2 237.86h1.89v1.34h-1.89zM357.7 237.86h1.89v1.34h-1.89zM341.2 239.15h1.89v1.32h-1.89zM332 240.42h5.56v1.29h-5.56zM332 241.66h1.89v1.27h-1.89zM341.2 241.66h1.89v1.27h-1.89zM333.9 242.88h3.72v1.25h-3.72zM330.2 246.41h1.89v1.18h-1.89zM335.7 247.54h1.89v1.16h-1.89zM328.4 248.65h1.89v1.14h-1.89zM333.9 251.84h1.89v1.07h-1.89zM326.5 252.86h1.89v1.05h-1.89zM330.2 252.86h1.89v1.05h-1.89zM332 256.71h1.89v0.96h-1.89zM326.5 257.62h1.89v1.80h-1.89zM326.5 259.37h1.89v1.71h-1.89zM322.8 264.07h1.89v1.44h-1.89zM330.2 265.46h1.89v1.35h-1.89zM322.8 269.09h1.89v1.08h-1.89zM322.8 271.06h1.89v1.29h-1.89z"/>
<path fill="#00e0db" d="M335.7 23.54h1.89v3.40h-1.89zM341.2 23.54h1.89v3.40h-1.89zM365.1 23.54h1.89v3.40h-1.89zM332 26.89h1.89v3.38h-1.89zM332 30.22h1.89v3.35h-1.89zM332 33.52h1.89v3.33h-1.89zM330.2 36.80h1.89v3.31h-1.89zM341.2 46.51h1.89v3.24h-1.89zM335.7 49.70h1.89v3.22h-1.89zM344.9 52.87h1.89v3.20h-1.89zM365.1 52.87h1.89v3.20h-1.89zM335.7 56.02h1.89v3.17h-1.89zM341.2 56.02h1.89v3.17h-1.89zM350.4 56.02h1.89v3.17h-1.89zM359.6 56.02h3.72v3.17h-3.72zM368.7 56.02h3.72v3.17h-3.72zM387.1 56.02h1.89v3.17h-1.89zM348.5 59.15h1.89v3.15h-1.89zM361.4 59.15h3.72v3.15h-3.72zM368.7 59.15h1.89v3.15h-1.89zM376.1 59.15h1.89v3.15h-1.89zM387.1 59.15h3.72v3.15h-3.72zM339.4 62.25h1.89v3.13h-1.89zM352.2 62.25h1.89v3.13h-1.89zM355.9 62.25h1.89v3.13h-1.89zM377.9 62.25h1.89v3.13h-1.89zM385.3 62.25h1.89v3.13h-1.89zM348.5 65.33h1.89v3.11h-1.89zM366.9 65.33h1.89v3.11h-1.89zM372.4 65.33h1.89v3.11h-1.89zM377.9 65.33h3.72v3.11h-3.72zM387.1 65.33h1.89v3.11h-1.89zM343 68.39h3.72v3.09h-3.72zM352.2 68.39h1.89v3.09h-1.89zM357.7 68.39h1.89v3.09h-1.89zM370.6 68.39h1.89v3.09h-1.89zM344.9 71.42h1.89v3.06h-1.89zM350.4 71.42h1.89v3.06h-1.89zM359.6 71.42h1.89v3.06h-1.89zM335.7 74.43h1.89v3.04h-1.89zM357.7 74.43h3.72v3.04h-3.72zM365.1 77.42h1.89v3.02h-1.89zM333.9 80.39h1.89v3.00h-1.89zM355.9 80.39h1.89v3.00h-1.89zM385.3 83.34h1.89v2.97h-1.89zM392.6 83.34h5.56v2.97h-5.56zM385.3 86.26h1.89v2.95h-1.89zM388.9 89.16h1.89v2.93h-1.89zM398.1 92.04h1.89v2.91h-1.89zM396.3 94.90h1.89v2.88h-1.89zM392.6 97.73h5.56v2.86h-5.56zM381.6 100.54h1.89v2.84h-1.89zM385.3 100.54h1.89v2.84h-1.89zM388.9 100.54h1.89v2.84h-1.89zM392.6 100.54h1.89v2.84h-1.89zM396.3 100.54h1.89v2.84h-1.89zM387.1 103.33h1.89v2.82h-1.89zM385.3 106.10h1.89v2.79h-1.89zM388.9 106.10h1.89v2.79h-1.89zM354.1 108.84h3.72v2.77h-3.72zM365.1 108.84h1.89v2.77h-1.89zM343 111.56h1.89v2.75h-1.89zM339.4 114.26h1.89v2.73h-1.89zM343 116.94h1.89v2.70h-1.89zM341.2 119.59h1.89v2.68h-1.89zM343 122.22h1.89v2.66h-1.89zM332 124.83h1.89v2.64h-1.89zM332 127.42h1.89v2.61h-1.89zM332 129.99h3.72v2.59h-3.72zM337.5 129.99h1.89v2.59h-1.89zM341.2 129.99h1.89v2.59h-1.89zM339.4 135.05h1.89v2.55h-1.89zM341.2 137.55h1.89v2.53h-1.89zM333.9 140.02h1.89v2.50h-1.89zM333.9 142.47h1.89v2.48h-1.89zM343 142.47h3.72v2.48h-3.72zM348.5 142.47h1.89v2.48h-1.89zM341.2 144.90h1.89v2.46h-1.89zM346.7 144.90h1.89v2.46h-1.89zM357.7 144.90h1.89v2.46h-1.89zM341.2 147.31h1.89v2.44h-1.89zM359.6 147.31h1.89v2.44h-1.89zM396.3 152.06h1.89v2.39h-1.89zM335.7 156.72h1.89v2.35h-1.89zM343 156.72h1.89v2.35h-1.89zM330.2 161.29h1.89v2.30h-1.89zM335.7 161.29h1.89v2.30h-1.89zM330.2 163.54h1.89v2.28h-1.89zM328.4 165.77h1.89v2.26h-1.89zM324.7 167.98h1.89v2.23h-1.89zM324.7 170.16h1.89v2.21h-1.89zM322.8 172.32h1.89v2.19h-1.89zM324.7 174.46h3.72v2.17h-3.72zM326.5 176.58h1.89v2.14h-1.89zM317.3 178.67h1.89v2.12h-1.89zM324.7 180.74h1.89v2.10h-1.89zM330.2 180.74h1.89v2.10h-1.89zM328.4 184.82h1.89v2.05h-1.89zM346.7 184.82h1.89v2.05h-1.89zM350.4 188.81h1.89v2.01h-1.89zM339.4 190.77h3.72v1.99h-3.72zM385.3 190.77h1.89v1.99h-1.89zM335.7 192.71h3.72v1.97h-3.72zM341.2 192.71h3.72v1.97h-3.72zM346.7 192.71h3.72v1.97h-3.72zM354.1 192.71h1.89v1.97h-1.89zM368.7 192.71h1.89v1.97h-1.89zM372.4 194.62h3.72v1.94h-3.72zM385.3 194.62h1.89v1.94h-1.89zM346.7 196.51h1.89v1.92h-1.89zM357.7 196.51h1.89v1.92h-1.89zM370.6 196.51h1.89v1.92h-1.89zM337.5 198.38h1.89v1.90h-1.89zM355.9 198.38h1.89v1.90h-1.89zM365.1 198.38h1.89v1.90h-1.89zM352.2 202.06h1.89v1.85h-1.89zM357.7 202.06h3.72v1.85h-3.72zM372.4 202.06h1.89v1.85h-1.89zM379.8 202.06h1.89v1.85h-1.89zM387.1 202.06h1.89v1.85h-1.89zM354.1 203.86h1.89v1.83h-1.89zM357.7 203.86h1.89v1.83h-1.89zM377.9 203.86h1.89v1.83h-1.89zM383.4 203.86h1.89v1.83h-1.89zM363.2 205.64h3.72v1.81h-3.72zM359.6 207.40h1.89v1.79h-1.89zM370.6 207.40h1.89v1.79h-1.89zM352.2 209.14h1.89v1.76h-1.89zM359.6 209.14h1.89v1.76h-1.89zM368.7 209.14h1.89v1.76h-1.89zM341.2 210.85h1.89v1.74h-1.89zM350.4 210.85h1.89v1.74h-1.89zM361.4 210.85h1.89v1.74h-1.89zM368.7 210.85h3.72v1.74h-3.72zM376.1 210.85h1.89v1.74h-1.89zM385.3 210.85h1.89v1.74h-1.89zM344.9 212.54h1.89v1.72h-1.89zM348.5 212.54h1.89v1.72h-1.89zM355.9 212.54h1.89v1.72h-1.89zM366.9 212.54h9.23v1.72h-9.23zM383.4 212.54h1.89v1.72h-1.89zM394.4 212.54h1.89v1.72h-1.89zM348.5 214.21h1.89v1.70h-1.89zM343 215.86h1.89v1.67h-1.89zM346.7 215.86h1.89v1.67h-1.89zM350.4 215.86h1.89v1.67h-1.89zM354.1 215.86h1.89v1.67h-1.89zM370.6 215.86h3.72v1.67h-3.72zM377.9 215.86h1.89v1.67h-1.89zM398.1 215.86h1.89v1.67h-1.89zM346.7 217.48h3.72v1.65h-3.72zM354.1 217.48h1.89v1.65h-1.89zM357.7 217.48h1.89v1.65h-1.89zM365.1 217.48h1.89v1.65h-1.89zM370.6 217.48h1.89v1.65h-1.89zM376.1 217.48h1.89v1.65h-1.89zM339.4 219.08h1.89v1.63h-1.89zM348.5 219.08h1.89v1.63h-1.89zM357.7 219.08h1.89v1.63h-1.89zM370.6 219.08h1.89v1.63h-1.89zM398.1 219.08h1.89v1.63h-1.89zM339.4 220.66h1.89v1.61h-1.89zM359.6 220.66h1.89v1.61h-1.89zM365.1 220.66h1.89v1.61h-1.89zM372.4 220.66h1.89v1.61h-1.89zM379.8 220.66h1.89v1.61h-1.89zM392.6 220.66h1.89v1.61h-1.89zM341.2 222.22h3.72v1.58h-3.72zM354.1 222.22h3.72v1.58h-3.72zM359.6 222.22h1.89v1.58h-1.89zM377.9 222.22h1.89v1.58h-1.89zM381.6 222.22h1.89v1.58h-1.89zM385.3 222.22h1.89v1.58h-1.89zM352.2 223.75h1.89v1.56h-1.89zM365.1 223.75h1.89v1.56h-1.89zM346.7 225.26h1.89v1.54h-1.89zM370.6 225.26h1.89v1.54h-1.89zM385.3 225.26h1.89v1.54h-1.89zM337.5 226.75h3.72v1.52h-3.72zM346.7 226.75h1.89v1.52h-1.89zM354.1 226.75h1.89v1.52h-1.89zM398.1 226.75h1.89v1.52h-1.89zM350.4 228.22h3.72v1.49h-3.72zM368.7 228.22h1.89v1.49h-1.89zM372.4 228.22h1.89v1.49h-1.89zM385.3 228.22h1.89v1.49h-1.89zM337.5 229.67h1.89v1.47h-1.89zM343 229.67h1.89v1.47h-1.89zM365.1 229.67h1.89v1.47h-1.89zM377.9 229.67h1.89v1.47h-1.89zM359.6 231.09h1.89v1.45h-1.89zM365.1 231.09h1.89v1.45h-1.89zM368.7 231.09h1.89v1.45h-1.89zM387.1 231.09h1.89v1.45h-1.89zM346.7 232.49h1.89v1.43h-1.89zM339.4 233.87h3.72v1.41h-3.72zM350.4 233.87h1.89v1.41h-1.89zM363.2 233.87h1.89v1.41h-1.89zM376.1 233.87h1.89v1.41h-1.89zM339.4 235.22h1.89v1.38h-1.89zM335.7 236.55h1.89v1.36h-1.89zM339.4 236.55h3.72v1.36h-3.72zM350.4 236.55h3.72v1.36h-3.72zM354.1 237.86h1.89v1.34h-1.89zM366.9 237.86h1.89v1.34h-1.89zM359.6 239.15h1.89v1.32h-1.89zM346.7 240.42h1.89v1.29h-1.89zM337.5 245.26h7.39v1.20h-7.39zM332 247.54h1.89v1.16h-1.89zM337.5 247.54h1.89v1.16h-1.89zM332 248.65h1.89v1.14h-1.89zM337.5 248.65h1.89v1.14h-1.89zM343 249.74h1.89v1.11h-1.89zM328.4 250.80h1.89v1.09h-1.89zM328.4 251.84h1.89v1.07h-1.89zM328.4 252.86h1.89v1.05h-1.89zM326.5 254.83h1.89v1.00h-1.89zM330.2 254.83h1.89v1.00h-1.89zM330.2 256.71h1.89v0.96h-1.89zM332 257.62h1.89v1.80h-1.89zM332 261.03h1.89v1.62h-1.89zM326.5 265.46h1.89v1.35h-1.89zM324.7 270.12h3.72v0.99h-3.72zM324.7 271.06h3.72v1.29h-3.72zM324.7 272.31h1.89v1.09h-1.89zM324.7 274.42h1.89v0.99h-1.89zM322.8 275.36h1.89v0.23h-1.89z"/>
<path fill="#007afe" d="M337.5 23.54h1.89v3.40h-1.89zM350.4 23.54h1.89v3.40h-1.89zM400 23.54h1.89v3.40h-1.89zM412.8 23.54h1.89v3.40h-1.89zM339.4 26.89h1.89v3.38h-1.89zM352.2 26.89h1.89v3.38h-1.89zM357.7 26.89h1.89v3.38h-1.89zM365.1 26.89h1.89v3.38h-1.89zM401.8 30.22h1.89v3.35h-1.89zM425.7 30.22h1.89v3.35h-1.89zM335.7 33.52h3.72v3.33h-3.72zM361.4 33.52h1.89v3.33h-1.89zM368.7 33.52h1.89v3.33h-1.89zM335.7 36.80h1.89v3.31h-1.89zM339.4 36.80h1.89v3.31h-1.89zM400 36.80h1.89v3.31h-1.89zM339.4 40.06h1.89v3.29h-1.89zM346.7 43.30h1.89v3.26h-1.89zM376.1 43.30h1.89v3.26h-1.89zM394.4 43.30h1.89v3.26h-1.89zM346.7 46.51h1.89v3.24h-1.89zM354.1 46.51h1.89v3.24h-1.89zM359.6 46.51h1.89v3.24h-1.89zM363.2 46.51h3.72v3.24h-3.72zM394.4 46.51h1.89v3.24h-1.89zM352.2 49.70h1.89v3.22h-1.89zM365.1 49.70h1.89v3.22h-1.89zM372.4 49.70h1.89v3.22h-1.89zM398.1 49.70h1.89v3.22h-1.89zM361.4 52.87h1.89v3.20h-1.89zM374.2 52.87h3.72v3.20h-3.72zM394.4 52.87h1.89v3.20h-1.89zM407.3 52.87h1.89v3.20h-1.89zM379.8 56.02h1.89v3.17h-1.89zM403.6 56.02h1.89v3.17h-1.89zM379.8 59.15h1.89v3.15h-1.89zM392.6 62.25h3.72v3.13h-3.72zM403.6 65.33h1.89v3.11h-1.89zM390.8 68.39h1.89v3.09h-1.89zM403.6 68.39h1.89v3.09h-1.89zM355.9 71.42h1.89v3.06h-1.89zM398.1 71.42h1.89v3.06h-1.89zM420.1 71.42h1.89v3.06h-1.89zM363.2 74.43h1.89v3.04h-1.89zM390.8 74.43h1.89v3.04h-1.89zM422 74.43h1.89v3.04h-1.89zM376.1 77.42h1.89v3.02h-1.89zM385.3 77.42h1.89v3.02h-1.89zM401.8 77.42h1.89v3.02h-1.89zM431.2 77.42h1.89v3.02h-1.89zM352.2 80.39h1.89v3.00h-1.89zM398.1 83.34h1.89v2.97h-1.89zM401.8 86.26h1.89v2.95h-1.89zM405.5 89.16h1.89v2.93h-1.89zM398.1 94.90h3.72v2.88h-3.72zM405.5 94.90h1.89v2.88h-1.89zM400 97.73h3.72v2.86h-3.72zM405.5 97.73h1.89v2.86h-1.89zM407.3 100.54h1.89v2.84h-1.89zM407.3 106.10h1.89v2.79h-1.89zM361.4 108.84h1.89v2.77h-1.89zM376.1 108.84h1.89v2.77h-1.89zM392.6 108.84h3.72v2.77h-3.72zM403.6 108.84h1.89v2.77h-1.89zM429.3 108.84h1.89v2.77h-1.89zM370.6 111.56h1.89v2.75h-1.89zM377.9 111.56h1.89v2.75h-1.89zM388.9 111.56h3.72v2.75h-3.72zM398.1 111.56h1.89v2.75h-1.89zM344.9 114.26h1.89v2.73h-1.89zM352.2 114.26h1.89v2.73h-1.89zM352.2 116.94h1.89v2.70h-1.89zM394.4 116.94h1.89v2.70h-1.89zM366.9 119.59h1.89v2.68h-1.89zM370.6 119.59h1.89v2.68h-1.89zM376.1 119.59h1.89v2.68h-1.89zM381.6 119.59h3.72v2.68h-3.72zM392.6 119.59h1.89v2.68h-1.89zM365.1 122.22h1.89v2.66h-1.89zM346.7 124.83h3.72v2.64h-3.72zM368.7 124.83h1.89v2.64h-1.89zM407.3 124.83h1.89v2.64h-1.89zM359.6 127.42h1.89v2.61h-1.89zM376.1 127.42h1.89v2.61h-1.89zM348.5 129.99h1.89v2.59h-1.89zM354.1 129.99h1.89v2.59h-1.89zM368.7 129.99h1.89v2.59h-1.89zM396.3 129.99h1.89v2.59h-1.89zM423.8 129.99h1.89v2.59h-1.89zM346.7 132.53h1.89v2.57h-1.89zM390.8 132.53h3.72v2.57h-3.72zM405.5 132.53h1.89v2.57h-1.89zM337.5 135.05h1.89v2.55h-1.89zM359.6 135.05h1.89v2.55h-1.89zM365.1 135.05h1.89v2.55h-1.89zM379.8 135.05h1.89v2.55h-1.89zM418.3 135.05h1.89v2.55h-1.89zM381.6 142.47h1.89v2.48h-1.89zM359.6 144.90h1.89v2.46h-1.89zM381.6 144.90h1.89v2.46h-1.89zM431.2 144.90h1.89v2.46h-1.89zM401.8 147.31h1.89v2.44h-1.89zM400 152.06h3.72v2.39h-3.72zM431.2 154.40h1.89v2.37h-1.89zM357.7 156.72h1.89v2.35h-1.89zM372.4 156.72h1.89v2.35h-1.89zM339.4 159.02h1.89v2.32h-1.89zM409.1 159.02h1.89v2.32h-1.89zM339.4 161.29h1.89v2.30h-1.89zM333.9 165.77h1.89v2.26h-1.89zM330.2 167.98h1.89v2.23h-1.89zM387.1 167.98h1.89v2.23h-1.89zM411 167.98h1.89v2.23h-1.89zM332 170.16h1.89v2.21h-1.89zM339.4 170.16h1.89v2.21h-1.89zM332 172.32h1.89v2.19h-1.89zM333.9 174.46h1.89v2.17h-1.89zM348.5 176.58h1.89v2.14h-1.89zM379.8 176.58h1.89v2.14h-1.89zM423.8 176.58h1.89v2.14h-1.89zM341.2 178.67h1.89v2.12h-1.89zM341.2 182.79h1.89v2.08h-1.89zM365.1 184.82h1.89v2.05h-1.89zM429.3 184.82h1.89v2.05h-1.89zM352.2 186.83h1.89v2.03h-1.89zM374.2 186.83h1.89v2.03h-1.89zM361.4 188.81h1.89v2.01h-1.89zM365.1 188.81h1.89v2.01h-1.89zM403.6 188.81h1.89v2.01h-1.89zM357.7 190.77h1.89v1.99h-1.89zM363.2 190.77h1.89v1.99h-1.89zM368.7 190.77h1.89v1.99h-1.89zM377.9 190.77h1.89v1.99h-1.89zM387.1 190.77h1.89v1.99h-1.89zM422 190.77h1.89v1.99h-1.89zM407.3 192.71h1.89v1.97h-1.89zM354.1 194.62h1.89v1.94h-1.89zM368.7 194.62h1.89v1.94h-1.89zM383.4 194.62h1.89v1.94h-1.89zM394.4 194.62h1.89v1.94h-1.89zM398.1 194.62h1.89v1.94h-1.89zM374.2 198.38h1.89v1.90h-1.89zM383.4 198.38h1.89v1.90h-1.89zM387.1 198.38h1.89v1.90h-1.89zM403.6 200.23h1.89v1.88h-1.89zM372.4 203.86h1.89v1.83h-1.89zM385.3 203.86h1.89v1.83h-1.89zM418.3 203.86h1.89v1.83h-1.89zM387.1 205.64h1.89v1.81h-1.89zM405.5 205.64h1.89v1.81h-1.89zM388.9 207.40h1.89v1.79h-1.89zM394.4 207.40h1.89v1.79h-1.89zM405.5 207.40h1.89v1.79h-1.89zM394.4 209.14h1.89v1.76h-1.89zM401.8 209.14h1.89v1.76h-1.89zM407.3 209.14h1.89v1.76h-1.89zM388.9 212.54h1.89v1.72h-1.89zM392.6 212.54h1.89v1.72h-1.89zM403.6 212.54h1.89v1.72h-1.89zM392.6 214.21h1.89v1.70h-1.89zM405.5 214.21h1.89v1.70h-1.89zM383.4 217.48h1.89v1.65h-1.89zM387.1 217.48h1.89v1.65h-1.89zM403.6 217.48h3.72v1.65h-3.72zM411 217.48h1.89v1.65h-1.89zM376.1 219.08h1.89v1.63h-1.89zM379.8 219.08h3.72v1.63h-3.72zM400 219.08h1.89v1.63h-1.89zM414.6 219.08h1.89v1.63h-1.89zM374.2 220.66h1.89v1.61h-1.89zM409.1 220.66h3.72v1.61h-3.72zM388.9 222.22h1.89v1.58h-1.89zM392.6 222.22h1.89v1.58h-1.89zM405.5 223.75h1.89v1.56h-1.89zM357.7 225.26h3.72v1.54h-3.72zM390.8 225.26h1.89v1.54h-1.89zM366.9 226.75h1.89v1.52h-1.89zM385.3 226.75h1.89v1.52h-1.89zM400 226.75h3.72v1.52h-3.72zM361.4 228.22h1.89v1.49h-1.89zM390.8 228.22h1.89v1.49h-1.89zM394.4 228.22h1.89v1.49h-1.89zM405.5 228.22h1.89v1.49h-1.89zM368.7 229.67h3.72v1.47h-3.72zM383.4 229.67h1.89v1.47h-1.89zM390.8 229.67h1.89v1.47h-1.89zM396.3 229.67h1.89v1.47h-1.89zM400 229.67h1.89v1.47h-1.89zM407.3 231.09h1.89v1.45h-1.89zM361.4 232.49h3.72v1.43h-3.72zM374.2 232.49h1.89v1.43h-1.89zM394.4 232.49h1.89v1.43h-1.89zM400 232.49h1.89v1.43h-1.89zM412.8 232.49h1.89v1.43h-1.89zM366.9 233.87h3.72v1.41h-3.72zM385.3 233.87h1.89v1.41h-1.89zM376.1 235.22h3.72v1.38h-3.72zM392.6 235.22h1.89v1.38h-1.89zM412.8 235.22h1.89v1.38h-1.89zM376.1 236.55h1.89v1.36h-1.89zM400 236.55h1.89v1.36h-1.89zM359.6 237.86h1.89v1.34h-1.89zM392.6 237.86h1.89v1.34h-1.89zM346.7 239.15h1.89v1.32h-1.89zM352.2 239.15h1.89v1.32h-1.89zM354.1 240.42h1.89v1.29h-1.89zM372.4 240.42h1.89v1.29h-1.89zM387.1 240.42h1.89v1.29h-1.89zM355.9 241.66h1.89v1.27h-1.89zM377.9 241.66h1.89v1.27h-1.89zM405.5 242.88h1.89v1.25h-1.89zM343 244.08h1.89v1.23h-1.89zM346.7 244.08h1.89v1.23h-1.89zM357.7 244.08h1.89v1.23h-1.89zM363.2 244.08h1.89v1.23h-1.89zM346.7 245.26h1.89v1.20h-1.89zM352.2 245.26h1.89v1.20h-1.89zM341.2 246.41h3.72v1.18h-3.72zM348.5 246.41h1.89v1.18h-1.89zM352.2 246.41h1.89v1.18h-1.89zM357.7 246.41h1.89v1.18h-1.89zM374.2 246.41h3.72v1.18h-3.72zM379.8 246.41h1.89v1.18h-1.89zM400 246.41h1.89v1.18h-1.89zM343 247.54h1.89v1.16h-1.89zM348.5 247.54h1.89v1.16h-1.89zM355.9 247.54h1.89v1.16h-1.89zM337.5 249.74h3.72v1.11h-3.72zM352.2 249.74h1.89v1.11h-1.89zM376.1 249.74h1.89v1.11h-1.89zM346.7 250.80h1.89v1.09h-1.89zM355.9 250.80h1.89v1.09h-1.89zM376.1 250.80h1.89v1.09h-1.89zM381.6 250.80h1.89v1.09h-1.89zM344.9 251.84h1.89v1.07h-1.89zM366.9 251.84h1.89v1.07h-1.89zM401.8 251.84h1.89v1.07h-1.89zM352.2 252.86h1.89v1.05h-1.89zM388.9 252.86h1.89v1.05h-1.89zM352.2 253.86h1.89v1.02h-1.89zM376.1 253.86h1.89v1.02h-1.89zM379.8 253.86h1.89v1.02h-1.89zM387.1 253.86h3.72v1.02h-3.72zM398.1 253.86h1.89v1.02h-1.89zM405.5 253.86h1.89v1.02h-1.89zM359.6 254.83h1.89v1.00h-1.89zM416.5 254.83h1.89v1.00h-1.89zM425.7 254.83h1.89v1.00h-1.89zM370.6 255.79h1.89v0.98h-1.89zM411 255.79h1.89v0.98h-1.89zM422 255.79h1.89v0.98h-1.89zM429.3 255.79h1.89v0.98h-1.89zM370.6 256.71h1.89v0.96h-1.89zM330.2 257.62h1.89v1.80h-1.89zM333.9 259.37h1.89v1.71h-1.89zM344.9 259.37h1.89v1.71h-1.89zM372.4 261.03h1.89v1.62h-1.89zM422 261.03h1.89v1.62h-1.89zM335.7 262.59h3.72v1.53h-3.72zM368.7 262.59h1.89v1.53h-1.89zM385.3 262.59h1.89v1.53h-1.89zM326.5 264.07h1.89v1.44h-1.89zM332 264.07h1.89v1.44h-1.89zM337.5 264.07h1.89v1.44h-1.89zM381.6 264.07h1.89v1.44h-1.89zM341.2 265.46h1.89v1.35h-1.89zM348.5 265.46h1.89v1.35h-1.89zM400 265.46h1.89v1.35h-1.89zM330.2 266.76h1.89v1.26h-1.89zM396.3 266.76h1.89v1.26h-1.89zM379.8 267.97h1.89v1.17h-1.89zM383.4 267.97h1.89v1.17h-1.89zM387.1 267.97h1.89v1.17h-1.89zM411 269.09h1.89v1.08h-1.89zM377.9 270.12h1.89v0.99h-1.89zM390.8 270.12h1.89v0.99h-1.89zM368.7 271.06h1.89v1.29h-1.89zM400 271.06h1.89v1.29h-1.89zM333.9 272.31h1.89v1.09h-1.89zM348.5 272.31h1.89v1.09h-1.89zM359.6 272.31h1.89v1.09h-1.89zM368.7 272.31h1.89v1.09h-1.89zM392.6 272.31h1.89v1.09h-1.89zM354.1 273.35h1.89v1.13h-1.89zM326.5 274.42h1.89v0.99h-1.89zM335.7 274.42h1.89v0.99h-1.89zM365.1 274.42h1.89v0.99h-1.89zM368.7 274.42h1.89v0.99h-1.89zM379.8 274.42h1.89v0.99h-1.89zM387.1 275.36h1.89v0.23h-1.89z"/>
<path fill="#00d4f2" d="M343 23.54h1.89v3.40h-1.89zM333.9 26.89h1.89v3.38h-1.89zM348.5 26.89h1.89v3.38h-1.89zM330.2 33.52h1.89v3.33h-1.89zM332 36.80h3.72v3.31h-3.72zM335.7 40.06h1.89v3.29h-1.89zM332 43.30h1.89v3.26h-1.89zM344.9 46.51h1.89v3.24h-1.89zM346.7 49.70h1.89v3.22h-1.89zM337.5 52.87h1.89v3.20h-1.89zM343 52.87h1.89v3.20h-1.89zM348.5 52.87h3.72v3.20h-3.72zM354.1 52.87h1.89v3.20h-1.89zM357.7 52.87h1.89v3.20h-1.89zM337.5 56.02h1.89v3.17h-1.89zM348.5 56.02h1.89v3.17h-1.89zM366.9 56.02h1.89v3.17h-1.89zM372.4 56.02h1.89v3.17h-1.89zM343 59.15h1.89v3.15h-1.89zM346.7 59.15h1.89v3.15h-1.89zM377.9 59.15h1.89v3.15h-1.89zM368.7 62.25h1.89v3.13h-1.89zM379.8 62.25h1.89v3.13h-1.89zM383.4 62.25h1.89v3.13h-1.89zM344.9 65.33h1.89v3.11h-1.89zM350.4 65.33h1.89v3.11h-1.89zM354.1 65.33h1.89v3.11h-1.89zM368.7 65.33h1.89v3.11h-1.89zM381.6 65.33h1.89v3.11h-1.89zM341.2 68.39h1.89v3.09h-1.89zM348.5 68.39h1.89v3.09h-1.89zM363.2 68.39h1.89v3.09h-1.89zM372.4 68.39h1.89v3.09h-1.89zM379.8 68.39h5.56v3.09h-5.56zM363.2 71.42h3.72v3.06h-3.72zM368.7 71.42h3.72v3.06h-3.72zM343 74.43h1.89v3.04h-1.89zM354.1 74.43h3.72v3.04h-3.72zM365.1 74.43h1.89v3.04h-1.89zM343 77.42h1.89v3.02h-1.89zM348.5 77.42h1.89v3.02h-1.89zM337.5 80.39h3.72v3.00h-3.72zM344.9 80.39h1.89v3.00h-1.89zM388.9 83.34h1.89v2.97h-1.89zM398.1 86.26h1.89v2.95h-1.89zM392.6 94.90h1.89v2.88h-1.89zM394.4 100.54h1.89v2.84h-1.89zM392.6 103.33h1.89v2.82h-1.89zM398.1 103.33h1.89v2.82h-1.89zM341.2 108.84h3.72v2.77h-3.72zM350.4 108.84h3.72v2.77h-3.72zM354.1 111.56h1.89v2.75h-1.89zM357.7 111.56h1.89v2.75h-1.89zM376.1 111.56h1.89v2.75h-1.89zM341.2 116.94h1.89v2.70h-1.89zM348.5 116.94h1.89v2.70h-1.89zM337.5 119.59h1.89v2.68h-1.89zM339.4 122.22h1.89v2.66h-1.89zM335.7 129.99h1.89v2.59h-1.89zM339.4 132.53h1.89v2.57h-1.89zM333.9 135.05h1.89v2.55h-1.89zM341.2 135.05h1.89v2.55h-1.89zM343 137.55h1.89v2.53h-1.89zM337.5 140.02h3.72v2.50h-3.72zM355.9 142.47h1.89v2.48h-1.89zM339.4 144.90h1.89v2.46h-1.89zM343 144.90h1.89v2.46h-1.89zM350.4 144.90h1.89v2.46h-1.89zM346.7 147.31h1.89v2.44h-1.89zM355.9 147.31h1.89v2.44h-1.89zM366.9 147.31h1.89v2.44h-1.89zM381.6 147.31h3.72v2.44h-3.72zM337.5 156.72h3.72v2.35h-3.72zM352.2 156.72h1.89v2.35h-1.89zM333.9 159.02h1.89v2.32h-1.89zM326.5 163.54h1.89v2.28h-1.89zM330.2 165.77h1.89v2.26h-1.89zM315.5 167.98h1.89v2.23h-1.89zM326.5 167.98h1.89v2.23h-1.89zM328.4 170.16h1.89v2.21h-1.89zM328.4 176.58h1.89v2.14h-1.89zM328.4 182.79h1.89v2.08h-1.89zM333.9 184.82h3.72v2.05h-3.72zM344.9 184.82h1.89v2.05h-1.89zM332 186.83h1.89v2.03h-1.89zM339.4 186.83h1.89v2.03h-1.89zM343 186.83h1.89v2.03h-1.89zM346.7 186.83h1.89v2.03h-1.89zM350.4 186.83h1.89v2.03h-1.89zM341.2 188.81h1.89v2.01h-1.89zM346.7 188.81h3.72v2.01h-3.72zM354.1 188.81h3.72v2.01h-3.72zM363.2 188.81h1.89v2.01h-1.89zM352.2 190.77h1.89v1.99h-1.89zM355.9 190.77h1.89v1.99h-1.89zM366.9 190.77h1.89v1.99h-1.89zM372.4 190.77h1.89v1.99h-1.89zM355.9 192.71h1.89v1.97h-1.89zM366.9 192.71h1.89v1.97h-1.89zM372.4 192.71h1.89v1.97h-1.89zM376.1 192.71h1.89v1.97h-1.89zM387.1 192.71h1.89v1.97h-1.89zM357.7 194.62h3.72v1.94h-3.72zM365.1 194.62h1.89v1.94h-1.89zM377.9 194.62h1.89v1.94h-1.89zM359.6 196.51h1.89v1.92h-1.89zM363.2 196.51h1.89v1.92h-1.89zM372.4 196.51h1.89v1.92h-1.89zM376.1 196.51h1.89v1.92h-1.89zM379.8 196.51h1.89v1.92h-1.89zM343 198.38h1.89v1.90h-1.89zM372.4 198.38h1.89v1.90h-1.89zM385.3 198.38h1.89v1.90h-1.89zM388.9 198.38h1.89v1.90h-1.89zM343 200.23h1.89v1.88h-1.89zM352.2 200.23h1.89v1.88h-1.89zM363.2 200.23h3.72v1.88h-3.72zM377.9 200.23h3.72v1.88h-3.72zM385.3 200.23h1.89v1.88h-1.89zM348.5 202.06h1.89v1.85h-1.89zM363.2 202.06h1.89v1.85h-1.89zM370.6 202.06h1.89v1.85h-1.89zM376.1 202.06h1.89v1.85h-1.89zM383.4 202.06h3.72v1.85h-3.72zM390.8 202.06h1.89v1.85h-1.89zM350.4 203.86h1.89v1.83h-1.89zM368.7 203.86h1.89v1.83h-1.89zM376.1 203.86h1.89v1.83h-1.89zM381.6 203.86h1.89v1.83h-1.89zM346.7 205.64h1.89v1.81h-1.89zM368.7 205.64h3.72v1.81h-3.72zM350.4 207.40h1.89v1.79h-1.89zM354.1 207.40h1.89v1.79h-1.89zM365.1 207.40h1.89v1.79h-1.89zM368.7 207.40h1.89v1.79h-1.89zM376.1 207.40h1.89v1.79h-1.89zM381.6 207.40h3.72v1.79h-3.72zM392.6 207.40h1.89v1.79h-1.89zM361.4 209.14h3.72v1.76h-3.72zM372.4 209.14h3.72v1.76h-3.72zM355.9 210.85h1.89v1.74h-1.89zM377.9 210.85h1.89v1.74h-1.89zM381.6 210.85h1.89v1.74h-1.89zM361.4 212.54h1.89v1.72h-1.89zM381.6 212.54h1.89v1.72h-1.89zM370.6 214.21h1.89v1.70h-1.89zM390.8 214.21h1.89v1.70h-1.89zM344.9 215.86h1.89v1.67h-1.89zM368.7 215.86h1.89v1.67h-1.89zM381.6 215.86h1.89v1.67h-1.89zM361.4 217.48h1.89v1.65h-1.89zM372.4 217.48h1.89v1.65h-1.89zM379.8 217.48h1.89v1.65h-1.89zM388.9 217.48h1.89v1.65h-1.89zM350.4 219.08h1.89v1.63h-1.89zM363.2 219.08h1.89v1.63h-1.89zM368.7 219.08h1.89v1.63h-1.89zM361.4 220.66h1.89v1.61h-1.89zM381.6 220.66h3.72v1.61h-3.72zM344.9 222.22h1.89v1.58h-1.89zM348.5 222.22h1.89v1.58h-1.89zM357.7 222.22h1.89v1.58h-1.89zM370.6 222.22h1.89v1.58h-1.89zM346.7 223.75h1.89v1.56h-1.89zM350.4 223.75h1.89v1.56h-1.89zM366.9 223.75h1.89v1.56h-1.89zM374.2 223.75h3.72v1.56h-3.72zM385.3 223.75h1.89v1.56h-1.89zM392.6 223.75h1.89v1.56h-1.89zM355.9 225.26h1.89v1.54h-1.89zM368.7 225.26h1.89v1.54h-1.89zM372.4 225.26h3.72v1.54h-3.72zM387.1 225.26h1.89v1.54h-1.89zM348.5 226.75h1.89v1.52h-1.89zM352.2 226.75h1.89v1.52h-1.89zM376.1 226.75h1.89v1.52h-1.89zM346.7 228.22h1.89v1.49h-1.89zM357.7 228.22h1.89v1.49h-1.89zM365.1 228.22h1.89v1.49h-1.89zM370.6 228.22h1.89v1.49h-1.89zM374.2 228.22h1.89v1.49h-1.89zM352.2 229.67h1.89v1.47h-1.89zM361.4 229.67h1.89v1.47h-1.89zM374.2 229.67h1.89v1.47h-1.89zM339.4 231.09h1.89v1.45h-1.89zM350.4 231.09h1.89v1.45h-1.89zM355.9 231.09h3.72v1.45h-3.72zM374.2 231.09h1.89v1.45h-1.89zM357.7 232.49h1.89v1.43h-1.89zM365.1 232.49h3.72v1.43h-3.72zM379.8 232.49h1.89v1.43h-1.89zM337.5 233.87h1.89v1.41h-1.89zM346.7 233.87h1.89v1.41h-1.89zM352.2 233.87h1.89v1.41h-1.89zM337.5 235.22h1.89v1.38h-1.89zM348.5 235.22h1.89v1.38h-1.89zM352.2 235.22h1.89v1.38h-1.89zM368.7 235.22h1.89v1.38h-1.89zM335.7 237.86h3.72v1.34h-3.72zM343 237.86h7.39v1.34h-7.39zM355.9 237.86h1.89v1.34h-1.89zM339.4 239.15h1.89v1.32h-1.89zM343 239.15h1.89v1.32h-1.89zM357.7 240.42h1.89v1.29h-1.89zM337.5 241.66h3.72v1.27h-3.72zM343 242.88h1.89v1.25h-1.89zM352.2 242.88h1.89v1.25h-1.89zM355.9 242.88h1.89v1.25h-1.89zM332 244.08h3.72v1.23h-3.72zM337.5 244.08h1.89v1.23h-1.89zM332 245.26h1.89v1.20h-1.89zM348.5 245.26h1.89v1.20h-1.89zM333.9 246.41h1.89v1.18h-1.89zM339.4 246.41h1.89v1.18h-1.89zM330.2 247.54h1.89v1.16h-1.89zM328.4 249.74h1.89v1.11h-1.89zM332 249.74h1.89v1.11h-1.89zM335.7 249.74h1.89v1.11h-1.89zM326.5 250.80h1.89v1.09h-1.89zM333.9 250.80h3.72v1.09h-3.72zM335.7 251.84h1.89v1.07h-1.89zM326.5 253.86h1.89v1.02h-1.89zM328.4 255.79h1.89v0.98h-1.89zM326.5 256.71h3.72v0.96h-3.72zM330.2 259.37h3.72v1.71h-3.72zM324.7 261.03h1.89v1.62h-1.89zM326.5 262.59h1.89v1.53h-1.89zM324.7 264.07h1.89v1.44h-1.89zM324.7 269.09h3.72v1.08h-3.72zM328.4 270.12h1.89v0.99h-1.89zM328.4 271.06h1.89v1.29h-1.89zM328.4 274.42h1.89v0.99h-1.89zM324.7 275.36h1.89v0.23h-1.89z"/>
<path fill="#0c50fe" d="M344.9 23.54h3.72v3.40h-3.72zM357.7 23.54h1.89v3.40h-1.89zM379.8 23.54h1.89v3.40h-1.89zM385.3 23.54h1.89v3.40h-1.89zM390.8 23.54h1.89v3.40h-1.89zM343 26.89h1.89v3.38h-1.89zM361.4 26.89h1.89v3.38h-1.89zM370.6 26.89h1.89v3.38h-1.89zM377.9 26.89h3.72v3.38h-3.72zM344.9 30.22h1.89v3.35h-1.89zM392.6 30.22h1.89v3.35h-1.89zM414.6 30.22h1.89v3.35h-1.89zM352.2 33.52h1.89v3.33h-1.89zM381.6 33.52h3.72v3.33h-3.72zM392.6 33.52h1.89v3.33h-1.89zM355.9 36.80h1.89v3.31h-1.89zM370.6 36.80h1.89v3.31h-1.89zM344.9 40.06h1.89v3.29h-1.89zM350.4 40.06h1.89v3.29h-1.89zM385.3 40.06h1.89v3.29h-1.89zM396.3 46.51h1.89v3.24h-1.89zM401.8 46.51h1.89v3.24h-1.89zM400 49.70h1.89v3.22h-1.89zM381.6 52.87h3.72v3.20h-3.72zM387.1 62.25h1.89v3.13h-1.89zM407.3 62.25h1.89v3.13h-1.89zM407.3 65.33h3.72v3.11h-3.72zM400 68.39h1.89v3.09h-1.89zM385.3 71.42h1.89v3.06h-1.89zM396.3 71.42h1.89v3.06h-1.89zM407.3 71.42h1.89v3.06h-1.89zM366.9 74.43h1.89v3.04h-1.89zM381.6 74.43h1.89v3.04h-1.89zM388.9 74.43h1.89v3.04h-1.89zM407.3 74.43h1.89v3.04h-1.89zM357.7 77.42h3.72v3.02h-3.72zM370.6 77.42h1.89v3.02h-1.89zM350.4 80.39h1.89v3.00h-1.89zM354.1 80.39h1.89v3.00h-1.89zM381.6 80.39h1.89v3.00h-1.89zM387.1 80.39h1.89v3.00h-1.89zM392.6 80.39h1.89v3.00h-1.89zM401.8 83.34h1.89v2.97h-1.89zM405.5 86.26h3.72v2.95h-3.72zM400 89.16h1.89v2.93h-1.89zM409.1 94.90h1.89v2.88h-1.89zM398.1 97.73h1.89v2.86h-1.89zM414.6 97.73h1.89v2.86h-1.89zM431.2 97.73h1.89v2.86h-1.89zM401.8 100.54h1.89v2.84h-1.89zM405.5 100.54h1.89v2.84h-1.89zM400 103.33h1.89v2.82h-1.89zM405.5 103.33h1.89v2.82h-1.89zM401.8 106.10h1.89v2.79h-1.89zM363.2 108.84h1.89v2.77h-1.89zM366.9 108.84h1.89v2.77h-1.89zM370.6 108.84h1.89v2.77h-1.89zM396.3 108.84h1.89v2.77h-1.89zM387.1 111.56h1.89v2.75h-1.89zM355.9 114.26h1.89v2.73h-1.89zM357.7 116.94h1.89v2.70h-1.89zM363.2 116.94h1.89v2.70h-1.89zM372.4 116.94h1.89v2.70h-1.89zM379.8 119.59h1.89v2.68h-1.89zM388.9 119.59h1.89v2.68h-1.89zM401.8 119.59h1.89v2.68h-1.89zM370.6 122.22h1.89v2.66h-1.89zM339.4 124.83h1.89v2.64h-1.89zM343 124.83h1.89v2.64h-1.89zM381.6 124.83h1.89v2.64h-1.89zM343 127.42h1.89v2.61h-1.89zM381.6 127.42h1.89v2.61h-1.89zM346.7 129.99h1.89v2.59h-1.89zM352.2 129.99h1.89v2.59h-1.89zM359.6 129.99h1.89v2.59h-1.89zM374.2 129.99h1.89v2.59h-1.89zM350.4 132.53h1.89v2.57h-1.89zM355.9 132.53h1.89v2.57h-1.89zM388.9 132.53h1.89v2.57h-1.89zM400 132.53h1.89v2.57h-1.89zM359.6 137.55h5.56v2.53h-5.56zM385.3 137.55h1.89v2.53h-1.89zM348.5 140.02h1.89v2.50h-1.89zM355.9 140.02h1.89v2.50h-1.89zM359.6 142.47h1.89v2.48h-1.89zM363.2 142.47h1.89v2.48h-1.89zM376.1 142.47h1.89v2.48h-1.89zM363.2 144.90h1.89v2.46h-1.89zM376.1 144.90h1.89v2.46h-1.89zM379.8 144.90h1.89v2.46h-1.89zM400 147.31h1.89v2.44h-1.89zM403.6 149.70h3.72v2.41h-3.72zM403.6 152.06h1.89v2.39h-1.89zM416.5 154.40h1.89v2.37h-1.89zM411 156.72h1.89v2.35h-1.89zM346.7 159.02h1.89v2.32h-1.89zM355.9 159.02h1.89v2.32h-1.89zM414.6 161.29h1.89v2.30h-1.89zM337.5 163.54h1.89v2.28h-1.89zM346.7 163.54h1.89v2.28h-1.89zM332 167.98h1.89v2.23h-1.89zM341.2 170.16h1.89v2.21h-1.89zM407.3 170.16h1.89v2.21h-1.89zM335.7 172.32h3.72v2.19h-3.72zM341.2 174.46h1.89v2.17h-1.89zM352.2 174.46h1.89v2.17h-1.89zM420.1 174.46h1.89v2.17h-1.89zM335.7 176.58h1.89v2.14h-1.89zM339.4 176.58h1.89v2.14h-1.89zM401.8 180.74h1.89v2.10h-1.89zM343 184.82h1.89v2.05h-1.89zM352.2 184.82h1.89v2.05h-1.89zM366.9 184.82h1.89v2.05h-1.89zM354.1 186.83h1.89v2.03h-1.89zM359.6 186.83h3.72v2.03h-3.72zM366.9 186.83h1.89v2.03h-1.89zM385.3 186.83h1.89v2.03h-1.89zM381.6 188.81h1.89v2.01h-1.89zM392.6 188.81h1.89v2.01h-1.89zM376.1 190.77h1.89v1.99h-1.89zM405.5 190.77h3.72v1.99h-3.72zM385.3 192.71h1.89v1.97h-1.89zM381.6 194.62h1.89v1.94h-1.89zM403.6 194.62h1.89v1.94h-1.89zM387.1 196.51h1.89v1.92h-1.89zM405.5 196.51h1.89v1.92h-1.89zM390.8 200.23h3.72v1.88h-3.72zM411 200.23h1.89v1.88h-1.89zM422 200.23h1.89v1.88h-1.89zM394.4 202.06h1.89v1.85h-1.89zM398.1 202.06h1.89v1.85h-1.89zM388.9 203.86h1.89v1.83h-1.89zM403.6 203.86h1.89v1.83h-1.89zM429.3 203.86h1.89v1.83h-1.89zM396.3 205.64h1.89v1.81h-1.89zM401.8 205.64h1.89v1.81h-1.89zM411 205.64h1.89v1.81h-1.89zM390.8 207.40h1.89v1.79h-1.89zM416.5 207.40h1.89v1.79h-1.89zM387.1 210.85h1.89v1.74h-1.89zM394.4 215.86h1.89v1.67h-1.89zM423.8 215.86h1.89v1.67h-1.89zM418.3 217.48h1.89v1.65h-1.89zM392.6 219.08h1.89v1.63h-1.89zM396.3 219.08h1.89v1.63h-1.89zM401.8 220.66h1.89v1.61h-1.89zM405.5 222.22h1.89v1.58h-1.89zM414.6 223.75h1.89v1.56h-1.89zM407.3 225.26h3.72v1.54h-3.72zM403.6 226.75h3.72v1.52h-3.72zM431.2 226.75h1.89v1.52h-1.89zM398.1 228.22h1.89v1.49h-1.89zM381.6 229.67h1.89v1.47h-1.89zM392.6 229.67h1.89v1.47h-1.89zM405.5 229.67h1.89v1.47h-1.89zM381.6 231.09h1.89v1.45h-1.89zM398.1 231.09h1.89v1.45h-1.89zM370.6 232.49h1.89v1.43h-1.89zM390.8 232.49h1.89v1.43h-1.89zM370.6 233.87h1.89v1.41h-1.89zM381.6 233.87h1.89v1.41h-1.89zM398.1 233.87h1.89v1.41h-1.89zM403.6 233.87h1.89v1.41h-1.89zM390.8 235.22h1.89v1.38h-1.89zM427.5 235.22h1.89v1.38h-1.89zM370.6 236.55h1.89v1.36h-1.89zM403.6 236.55h1.89v1.36h-1.89zM368.7 237.86h1.89v1.34h-1.89zM388.9 237.86h1.89v1.34h-1.89zM394.4 237.86h1.89v1.34h-1.89zM370.6 239.15h1.89v1.32h-1.89zM355.9 240.42h1.89v1.29h-1.89zM385.3 240.42h1.89v1.29h-1.89zM400 240.42h1.89v1.29h-1.89zM350.4 241.66h1.89v1.27h-1.89zM416.5 241.66h1.89v1.27h-1.89zM388.9 242.88h1.89v1.25h-1.89zM383.4 245.26h1.89v1.20h-1.89zM390.8 245.26h1.89v1.20h-1.89zM418.3 245.26h1.89v1.20h-1.89zM346.7 246.41h1.89v1.18h-1.89zM350.4 246.41h1.89v1.18h-1.89zM390.8 246.41h1.89v1.18h-1.89zM396.3 246.41h3.72v1.18h-3.72zM416.5 246.41h1.89v1.18h-1.89zM418.3 247.54h1.89v1.16h-1.89zM341.2 248.65h1.89v1.14h-1.89zM348.5 248.65h1.89v1.14h-1.89zM341.2 249.74h1.89v1.11h-1.89zM346.7 249.74h1.89v1.11h-1.89zM392.6 249.74h1.89v1.11h-1.89zM341.2 250.80h1.89v1.09h-1.89zM352.2 250.80h1.89v1.09h-1.89zM400 250.80h1.89v1.09h-1.89zM346.7 251.84h1.89v1.07h-1.89zM392.6 251.84h1.89v1.07h-1.89zM403.6 251.84h1.89v1.07h-1.89zM339.4 252.86h1.89v1.05h-1.89zM343 252.86h1.89v1.05h-1.89zM361.4 252.86h1.89v1.05h-1.89zM400 252.86h1.89v1.05h-1.89zM412.8 252.86h1.89v1.05h-1.89zM403.6 253.86h1.89v1.02h-1.89zM333.9 254.83h1.89v1.00h-1.89zM341.2 254.83h1.89v1.00h-1.89zM372.4 254.83h3.72v1.00h-3.72zM335.7 255.79h3.72v0.98h-3.72zM335.7 256.71h1.89v0.96h-1.89zM343 256.71h1.89v0.96h-1.89zM359.6 256.71h1.89v0.96h-1.89zM333.9 257.62h1.89v1.80h-1.89zM365.1 257.62h1.89v1.80h-1.89zM398.1 257.62h1.89v1.80h-1.89zM401.8 257.62h1.89v1.80h-1.89zM418.3 257.62h1.89v1.80h-1.89zM423.8 257.62h1.89v1.80h-1.89zM379.8 259.37h1.89v1.71h-1.89zM390.8 259.37h1.89v1.71h-1.89zM343 261.03h1.89v1.62h-1.89zM385.3 261.03h1.89v1.62h-1.89zM388.9 261.03h1.89v1.62h-1.89zM403.6 261.03h1.89v1.62h-1.89zM344.9 262.59h1.89v1.53h-1.89zM350.4 262.59h1.89v1.53h-1.89zM400 262.59h1.89v1.53h-1.89zM407.3 262.59h1.89v1.53h-1.89zM407.3 264.07h1.89v1.44h-1.89zM422 264.07h1.89v1.44h-1.89zM337.5 266.76h1.89v1.26h-1.89zM420.1 266.76h1.89v1.26h-1.89zM343 267.97h1.89v1.17h-1.89zM398.1 267.97h1.89v1.17h-1.89zM355.9 269.09h1.89v1.08h-1.89zM335.7 270.12h1.89v0.99h-1.89zM372.4 270.12h3.72v0.99h-3.72zM381.6 270.12h1.89v0.99h-1.89zM330.2 272.31h1.89v1.09h-1.89zM361.4 273.35h1.89v1.13h-1.89zM372.4 273.35h1.89v1.13h-1.89zM381.6 273.35h1.89v1.13h-1.89zM414.6 273.35h1.89v1.13h-1.89zM339.4 274.42h1.89v0.99h-1.89zM330.2 275.36h1.89v0.23h-1.89zM363.2 275.36h1.89v0.23h-1.89zM376.1 275.36h1.89v0.23h-1.89zM407.3 275.36h1.89v0.23h-1.89z"/>
<path fill="#0264ff" d="M348.5 23.54h1.89v3.40h-1.89zM377.9 23.54h1.89v3.40h-1.89zM398.1 23.54h1.89v3.40h-1.89zM403.6 23.54h1.89v3.40h-1.89zM344.9 26.89h1.89v3.38h-1.89zM354.1 26.89h3.72v3.38h-3.72zM339.4 30.22h1.89v3.35h-1.89zM355.9 33.52h1.89v3.33h-1.89zM354.1 36.80h1.89v3.31h-1.89zM414.6 36.80h1.89v3.31h-1.89zM341.2 43.30h1.89v3.26h-1.89zM368.7 43.30h1.89v3.26h-1.89zM377.9 46.51h1.89v3.24h-1.89zM388.9 46.51h1.89v3.24h-1.89zM359.6 49.70h1.89v3.22h-1.89zM363.2 49.70h1.89v3.22h-1.89zM359.6 52.87h1.89v3.20h-1.89zM366.9 52.87h1.89v3.20h-1.89zM372.4 52.87h1.89v3.20h-1.89zM390.8 59.15h1.89v3.15h-1.89zM398.1 59.15h1.89v3.15h-1.89zM396.3 62.25h1.89v3.13h-1.89zM401.8 62.25h1.89v3.13h-1.89zM401.8 65.33h1.89v3.11h-1.89zM376.1 68.39h1.89v3.09h-1.89zM403.6 71.42h1.89v3.06h-1.89zM376.1 74.43h1.89v3.04h-1.89zM368.7 77.42h1.89v3.02h-1.89zM372.4 77.42h1.89v3.02h-1.89zM343 80.39h1.89v3.00h-1.89zM366.9 80.39h1.89v3.00h-1.89zM401.8 92.04h1.89v2.91h-1.89zM401.8 94.90h1.89v2.88h-1.89zM400 100.54h1.89v2.84h-1.89zM396.3 103.33h1.89v2.82h-1.89zM346.7 108.84h1.89v2.77h-1.89zM357.7 108.84h1.89v2.77h-1.89zM379.8 108.84h1.89v2.77h-1.89zM388.9 108.84h1.89v2.77h-1.89zM401.8 108.84h1.89v2.77h-1.89zM344.9 111.56h1.89v2.75h-1.89zM385.3 111.56h1.89v2.75h-1.89zM365.1 114.26h1.89v2.73h-1.89zM368.7 114.26h1.89v2.73h-1.89zM374.2 114.26h3.72v2.73h-3.72zM379.8 114.26h1.89v2.73h-1.89zM387.1 114.26h1.89v2.73h-1.89zM394.4 114.26h1.89v2.73h-1.89zM368.7 116.94h1.89v2.70h-1.89zM376.1 116.94h1.89v2.70h-1.89zM343 119.59h1.89v2.68h-1.89zM372.4 122.22h1.89v2.66h-1.89zM388.9 122.22h1.89v2.66h-1.89zM343 129.99h3.72v2.59h-3.72zM401.8 129.99h1.89v2.59h-1.89zM359.6 132.53h1.89v2.57h-1.89zM379.8 132.53h1.89v2.57h-1.89zM390.8 135.05h1.89v2.55h-1.89zM357.7 137.55h1.89v2.53h-1.89zM359.6 140.02h1.89v2.50h-1.89zM388.9 140.02h1.89v2.50h-1.89zM394.4 140.02h1.89v2.50h-1.89zM346.7 142.47h1.89v2.48h-1.89zM352.2 142.47h3.72v2.48h-3.72zM357.7 142.47h1.89v2.48h-1.89zM368.7 142.47h1.89v2.48h-1.89zM390.8 142.47h1.89v2.48h-1.89zM394.4 142.47h1.89v2.48h-1.89zM405.5 142.47h1.89v2.48h-1.89zM431.2 142.47h1.89v2.48h-1.89zM354.1 147.31h1.89v2.44h-1.89zM370.6 147.31h1.89v2.44h-1.89zM401.8 149.70h1.89v2.41h-1.89zM407.3 149.70h1.89v2.41h-1.89zM412.8 149.70h1.89v2.41h-1.89zM409.1 152.06h1.89v2.39h-1.89zM412.8 154.40h1.89v2.37h-1.89zM355.9 156.72h1.89v2.35h-1.89zM343 159.02h1.89v2.32h-1.89zM348.5 161.29h1.89v2.30h-1.89zM411 161.29h1.89v2.30h-1.89zM332 165.77h1.89v2.26h-1.89zM344.9 170.16h1.89v2.21h-1.89zM396.3 170.16h1.89v2.21h-1.89zM366.9 172.32h1.89v2.19h-1.89zM370.6 174.46h1.89v2.17h-1.89zM337.5 176.58h1.89v2.14h-1.89zM343 176.58h3.72v2.14h-3.72zM335.7 178.67h1.89v2.12h-1.89zM361.4 180.74h1.89v2.10h-1.89zM368.7 182.79h1.89v2.08h-1.89zM418.3 184.82h1.89v2.05h-1.89zM376.1 186.83h1.89v2.03h-1.89zM379.8 186.83h1.89v2.03h-1.89zM390.8 186.83h1.89v2.03h-1.89zM422 186.83h1.89v2.03h-1.89zM379.8 188.81h1.89v2.01h-1.89zM401.8 188.81h1.89v2.01h-1.89zM359.6 192.71h1.89v1.97h-1.89zM365.1 192.71h1.89v1.97h-1.89zM383.4 192.71h1.89v1.97h-1.89zM394.4 192.71h1.89v1.97h-1.89zM405.5 192.71h1.89v1.97h-1.89zM390.8 194.62h1.89v1.94h-1.89zM405.5 194.62h3.72v1.94h-3.72zM390.8 196.51h1.89v1.92h-1.89zM401.8 196.51h1.89v1.92h-1.89zM401.8 198.38h1.89v1.90h-1.89zM383.4 200.23h1.89v1.88h-1.89zM401.8 200.23h1.89v1.88h-1.89zM388.9 202.06h1.89v1.85h-1.89zM396.3 202.06h1.89v1.85h-1.89zM418.3 202.06h1.89v1.85h-1.89zM405.5 203.86h1.89v1.83h-1.89zM400 205.64h1.89v1.81h-1.89zM387.1 207.40h1.89v1.79h-1.89zM429.3 207.40h1.89v1.79h-1.89zM387.1 209.14h3.72v1.76h-3.72zM403.6 209.14h1.89v1.76h-1.89zM366.9 210.85h1.89v1.74h-1.89zM390.8 210.85h1.89v1.74h-1.89zM394.4 214.21h1.89v1.70h-1.89zM411 214.21h1.89v1.70h-1.89zM374.2 215.86h1.89v1.67h-1.89zM383.4 215.86h1.89v1.67h-1.89zM401.8 215.86h1.89v1.67h-1.89zM401.8 217.48h1.89v1.65h-1.89zM407.3 217.48h3.72v1.65h-3.72zM412.8 217.48h1.89v1.65h-1.89zM394.4 219.08h1.89v1.63h-1.89zM405.5 219.08h1.89v1.63h-1.89zM412.8 219.08h1.89v1.63h-1.89zM376.1 222.22h1.89v1.58h-1.89zM414.6 222.22h1.89v1.58h-1.89zM387.1 223.75h1.89v1.56h-1.89zM390.8 223.75h1.89v1.56h-1.89zM425.7 223.75h1.89v1.56h-1.89zM388.9 225.26h1.89v1.54h-1.89zM394.4 225.26h3.72v1.54h-3.72zM387.1 226.75h1.89v1.52h-1.89zM414.6 226.75h1.89v1.52h-1.89zM392.6 228.22h1.89v1.49h-1.89zM396.3 228.22h1.89v1.49h-1.89zM400 228.22h1.89v1.49h-1.89zM403.6 228.22h1.89v1.49h-1.89zM385.3 229.67h3.72v1.47h-3.72zM372.4 231.09h1.89v1.45h-1.89zM379.8 231.09h1.89v1.45h-1.89zM388.9 231.09h5.56v1.45h-5.56zM403.6 231.09h1.89v1.45h-1.89zM412.8 231.09h3.72v1.45h-3.72zM368.7 232.49h1.89v1.43h-1.89zM372.4 233.87h3.72v1.41h-3.72zM407.3 233.87h3.72v1.41h-3.72zM361.4 235.22h3.72v1.38h-3.72zM372.4 235.22h1.89v1.38h-1.89zM385.3 235.22h1.89v1.38h-1.89zM365.1 236.55h1.89v1.36h-1.89zM361.4 237.86h1.89v1.34h-1.89zM372.4 237.86h1.89v1.34h-1.89zM387.1 237.86h1.89v1.34h-1.89zM431.2 237.86h1.89v1.34h-1.89zM376.1 239.15h3.72v1.32h-3.72zM383.4 239.15h1.89v1.32h-1.89zM400 239.15h1.89v1.32h-1.89zM350.4 240.42h1.89v1.29h-1.89zM363.2 240.42h1.89v1.29h-1.89zM370.6 240.42h1.89v1.29h-1.89zM376.1 240.42h1.89v1.29h-1.89zM412.8 240.42h1.89v1.29h-1.89zM374.2 241.66h1.89v1.27h-1.89zM420.1 241.66h1.89v1.27h-1.89zM350.4 242.88h1.89v1.25h-1.89zM365.1 242.88h1.89v1.25h-1.89zM335.7 244.08h1.89v1.23h-1.89zM344.9 244.08h1.89v1.23h-1.89zM376.1 244.08h1.89v1.23h-1.89zM383.4 244.08h1.89v1.23h-1.89zM355.9 245.26h1.89v1.20h-1.89zM339.4 247.54h3.72v1.16h-3.72zM350.4 247.54h1.89v1.16h-1.89zM359.6 247.54h1.89v1.16h-1.89zM374.2 247.54h1.89v1.16h-1.89zM414.6 247.54h1.89v1.16h-1.89zM346.7 248.65h1.89v1.14h-1.89zM365.1 248.65h1.89v1.14h-1.89zM414.6 248.65h1.89v1.14h-1.89zM425.7 248.65h3.72v1.14h-3.72zM357.7 249.74h1.89v1.11h-1.89zM361.4 249.74h1.89v1.11h-1.89zM394.4 249.74h1.89v1.11h-1.89zM400 249.74h1.89v1.11h-1.89zM339.4 250.80h1.89v1.09h-1.89zM379.8 250.80h1.89v1.09h-1.89zM422 250.80h1.89v1.09h-1.89zM355.9 251.84h1.89v1.07h-1.89zM365.1 251.84h1.89v1.07h-1.89zM376.1 251.84h1.89v1.07h-1.89zM390.8 251.84h1.89v1.07h-1.89zM354.1 252.86h1.89v1.05h-1.89zM359.6 252.86h1.89v1.05h-1.89zM383.4 252.86h1.89v1.05h-1.89zM354.1 253.86h1.89v1.02h-1.89zM341.2 255.79h1.89v0.98h-1.89zM359.6 255.79h1.89v0.98h-1.89zM405.5 257.62h3.72v1.80h-3.72zM339.4 259.37h3.72v1.71h-3.72zM344.9 261.03h1.89v1.62h-1.89zM330.2 264.07h1.89v1.44h-1.89zM346.7 264.07h1.89v1.44h-1.89zM335.7 265.46h1.89v1.35h-1.89zM361.4 265.46h1.89v1.35h-1.89zM341.2 266.76h1.89v1.26h-1.89zM346.7 266.76h1.89v1.26h-1.89zM359.6 266.76h1.89v1.26h-1.89zM348.5 267.97h1.89v1.17h-1.89zM354.1 267.97h1.89v1.17h-1.89zM366.9 267.97h1.89v1.17h-1.89zM409.1 267.97h1.89v1.17h-1.89zM423.8 267.97h1.89v1.17h-1.89zM385.3 269.09h1.89v1.08h-1.89zM330.2 270.12h3.72v0.99h-3.72zM388.9 270.12h1.89v0.99h-1.89zM398.1 270.12h1.89v0.99h-1.89zM422 270.12h1.89v0.99h-1.89zM425.7 270.12h1.89v0.99h-1.89zM333.9 271.06h1.89v1.29h-1.89zM374.2 271.06h1.89v1.29h-1.89zM383.4 271.06h1.89v1.29h-1.89zM392.6 271.06h1.89v1.29h-1.89zM326.5 272.31h1.89v1.09h-1.89zM333.9 273.35h3.72v1.13h-3.72zM359.6 273.35h1.89v1.13h-1.89zM388.9 274.42h1.89v0.99h-1.89zM346.7 275.36h1.89v0.23h-1.89zM405.5 275.36h1.89v0.23h-1.89z"/>
<path fill="#00a8fc" d="M352.2 23.54h1.89v3.40h-1.89zM355.9 23.54h1.89v3.40h-1.89zM335.7 30.22h1.89v3.35h-1.89zM343 46.51h1.89v3.24h-1.89zM352.2 46.51h1.89v3.24h-1.89zM361.4 46.51h1.89v3.24h-1.89zM368.7 46.51h1.89v3.24h-1.89zM354.1 49.70h3.72v3.22h-3.72zM366.9 49.70h5.56v3.22h-5.56zM355.9 52.87h1.89v3.20h-1.89zM370.6 52.87h1.89v3.20h-1.89zM377.9 56.02h1.89v3.17h-1.89zM388.9 56.02h1.89v3.17h-1.89zM374.2 59.15h1.89v3.15h-1.89zM383.4 59.15h1.89v3.15h-1.89zM363.2 62.25h1.89v3.13h-1.89zM370.6 62.25h1.89v3.13h-1.89zM374.2 62.25h1.89v3.13h-1.89zM366.9 68.39h1.89v3.09h-1.89zM346.7 71.42h1.89v3.06h-1.89zM374.2 71.42h1.89v3.06h-1.89zM381.6 71.42h3.72v3.06h-3.72zM392.6 71.42h1.89v3.06h-1.89zM350.4 74.43h1.89v3.04h-1.89zM346.7 77.42h1.89v3.02h-1.89zM350.4 77.42h1.89v3.02h-1.89zM354.1 77.42h1.89v3.02h-1.89zM394.4 86.26h1.89v2.95h-1.89zM394.4 89.16h1.89v2.93h-1.89zM398.1 89.16h1.89v2.93h-1.89zM394.4 92.04h1.89v2.91h-1.89zM400 92.04h1.89v2.91h-1.89zM388.9 94.90h1.89v2.88h-1.89zM390.8 106.10h1.89v2.79h-1.89zM394.4 106.10h1.89v2.79h-1.89zM400 106.10h1.89v2.79h-1.89zM348.5 108.84h1.89v2.77h-1.89zM374.2 108.84h1.89v2.77h-1.89zM374.2 111.56h1.89v2.75h-1.89zM357.7 114.26h3.72v2.73h-3.72zM344.9 116.94h1.89v2.70h-1.89zM350.4 116.94h1.89v2.70h-1.89zM346.7 119.59h1.89v2.68h-1.89zM335.7 122.22h1.89v2.66h-1.89zM346.7 122.22h1.89v2.66h-1.89zM337.5 124.83h1.89v2.64h-1.89zM337.5 137.55h1.89v2.53h-1.89zM341.2 140.02h1.89v2.50h-1.89zM348.5 144.90h1.89v2.46h-1.89zM352.2 144.90h1.89v2.46h-1.89zM365.1 144.90h1.89v2.46h-1.89zM361.4 147.31h5.56v2.44h-5.56zM374.2 147.31h1.89v2.44h-1.89zM332 159.02h1.89v2.32h-1.89zM324.7 172.32h1.89v2.19h-1.89zM328.4 174.46h1.89v2.17h-1.89zM332 176.58h1.89v2.14h-1.89zM324.7 178.67h1.89v2.12h-1.89zM357.7 188.81h1.89v2.01h-1.89zM366.9 188.81h1.89v2.01h-1.89zM359.6 190.77h1.89v1.99h-1.89zM370.6 190.77h1.89v1.99h-1.89zM366.9 194.62h1.89v1.94h-1.89zM376.1 194.62h1.89v1.94h-1.89zM379.8 194.62h1.89v1.94h-1.89zM350.4 196.51h1.89v1.92h-1.89zM381.6 196.51h1.89v1.92h-1.89zM359.6 198.38h1.89v1.90h-1.89zM374.2 200.23h3.72v1.88h-3.72zM396.3 200.23h1.89v1.88h-1.89zM354.1 202.06h1.89v1.85h-1.89zM365.1 202.06h1.89v1.85h-1.89zM366.9 203.86h1.89v1.83h-1.89zM387.1 203.86h1.89v1.83h-1.89zM390.8 203.86h1.89v1.83h-1.89zM400 203.86h1.89v1.83h-1.89zM359.6 205.64h3.72v1.81h-3.72zM379.8 205.64h1.89v1.81h-1.89zM388.9 205.64h1.89v1.81h-1.89zM392.6 205.64h1.89v1.81h-1.89zM348.5 207.40h1.89v1.79h-1.89zM352.2 207.40h1.89v1.79h-1.89zM374.2 207.40h1.89v1.79h-1.89zM379.8 207.40h1.89v1.79h-1.89zM385.3 207.40h1.89v1.79h-1.89zM365.1 209.14h1.89v1.76h-1.89zM377.9 209.14h1.89v1.76h-1.89zM383.4 209.14h3.72v1.76h-3.72zM400 209.14h1.89v1.76h-1.89zM379.8 210.85h1.89v1.74h-1.89zM359.6 212.54h1.89v1.72h-1.89zM376.1 214.21h1.89v1.70h-1.89zM381.6 214.21h1.89v1.70h-1.89zM398.1 214.21h1.89v1.70h-1.89zM366.9 215.86h1.89v1.67h-1.89zM387.1 215.86h3.72v1.67h-3.72zM377.9 217.48h1.89v1.65h-1.89zM359.6 219.08h1.89v1.63h-1.89zM366.9 219.08h1.89v1.63h-1.89zM385.3 219.08h1.89v1.63h-1.89zM348.5 220.66h1.89v1.61h-1.89zM357.7 220.66h1.89v1.61h-1.89zM390.8 220.66h1.89v1.61h-1.89zM350.4 222.22h3.72v1.58h-3.72zM366.9 222.22h1.89v1.58h-1.89zM372.4 222.22h3.72v1.58h-3.72zM383.4 222.22h1.89v1.58h-1.89zM357.7 223.75h1.89v1.56h-1.89zM363.2 225.26h1.89v1.54h-1.89zM381.6 225.26h3.72v1.54h-3.72zM363.2 226.75h1.89v1.52h-1.89zM368.7 226.75h1.89v1.52h-1.89zM372.4 226.75h3.72v1.52h-3.72zM377.9 226.75h3.72v1.52h-3.72zM377.9 228.22h3.72v1.49h-3.72zM383.4 228.22h1.89v1.49h-1.89zM346.7 229.67h1.89v1.47h-1.89zM376.1 229.67h1.89v1.47h-1.89zM379.8 229.67h1.89v1.47h-1.89zM361.4 231.09h1.89v1.45h-1.89zM366.9 231.09h1.89v1.45h-1.89zM376.1 231.09h1.89v1.45h-1.89zM372.4 232.49h1.89v1.43h-1.89zM383.4 232.49h1.89v1.43h-1.89zM355.9 233.87h7.39v1.41h-7.39zM365.1 233.87h1.89v1.41h-1.89zM366.9 235.22h1.89v1.38h-1.89zM346.7 236.55h3.72v1.36h-3.72zM359.6 236.55h1.89v1.36h-1.89zM365.1 239.15h1.89v1.32h-1.89zM343 240.42h3.72v1.29h-3.72zM348.5 240.42h1.89v1.29h-1.89zM344.9 241.66h1.89v1.27h-1.89zM348.5 241.66h1.89v1.27h-1.89zM363.2 241.66h1.89v1.27h-1.89zM341.2 242.88h1.89v1.25h-1.89zM344.9 242.88h1.89v1.25h-1.89zM355.9 244.08h1.89v1.23h-1.89zM333.9 247.54h1.89v1.16h-1.89zM343 248.65h1.89v1.14h-1.89zM344.9 249.74h1.89v1.11h-1.89zM332 250.80h1.89v1.09h-1.89zM337.5 250.80h1.89v1.09h-1.89zM330.2 251.84h3.72v1.07h-3.72zM332 252.86h1.89v1.05h-1.89zM332 255.79h1.89v0.98h-1.89zM333.9 256.71h1.89v0.96h-1.89zM335.7 259.37h1.89v1.71h-1.89zM333.9 261.03h3.72v1.62h-3.72zM328.4 269.09h1.89v1.08h-1.89zM330.2 271.06h1.89v1.29h-1.89z"/>
<path fill="#0091fd" d="M354.1 23.54h1.89v3.40h-1.89zM359.6 23.54h3.72v3.40h-3.72zM366.9 23.54h1.89v3.40h-1.89zM343 30.22h1.89v3.35h-1.89zM341.2 36.80h1.89v3.31h-1.89zM361.4 36.80h1.89v3.31h-1.89zM390.8 36.80h1.89v3.31h-1.89zM420.1 36.80h1.89v3.31h-1.89zM379.8 40.06h1.89v3.29h-1.89zM396.3 40.06h1.89v3.29h-1.89zM339.4 43.30h1.89v3.26h-1.89zM366.9 43.30h1.89v3.26h-1.89zM370.6 43.30h1.89v3.26h-1.89zM348.5 46.51h1.89v3.24h-1.89zM341.2 49.70h1.89v3.22h-1.89zM344.9 49.70h1.89v3.22h-1.89zM361.4 49.70h1.89v3.22h-1.89zM388.9 49.70h3.72v3.22h-3.72zM368.7 52.87h1.89v3.20h-1.89zM376.1 56.02h1.89v3.17h-1.89zM392.6 59.15h1.89v3.15h-1.89zM412.8 59.15h1.89v3.15h-1.89zM372.4 62.25h1.89v3.13h-1.89zM400 62.25h1.89v3.13h-1.89zM403.6 62.25h1.89v3.13h-1.89zM390.8 65.33h1.89v3.11h-1.89zM388.9 68.39h1.89v3.09h-1.89zM390.8 71.42h1.89v3.06h-1.89zM401.8 71.42h1.89v3.06h-1.89zM344.9 74.43h1.89v3.04h-1.89zM352.2 74.43h1.89v3.04h-1.89zM370.6 74.43h3.72v3.04h-3.72zM379.8 74.43h1.89v3.04h-1.89zM401.8 74.43h1.89v3.04h-1.89zM352.2 77.42h1.89v3.02h-1.89zM398.1 77.42h1.89v3.02h-1.89zM346.7 80.39h3.72v3.00h-3.72zM388.9 80.39h1.89v3.00h-1.89zM394.4 94.90h1.89v2.88h-1.89zM403.6 94.90h1.89v2.88h-1.89zM396.3 106.10h3.72v2.79h-3.72zM339.4 108.84h1.89v2.77h-1.89zM383.4 108.84h1.89v2.77h-1.89zM387.1 108.84h1.89v2.77h-1.89zM350.4 111.56h1.89v2.75h-1.89zM355.9 111.56h1.89v2.75h-1.89zM359.6 111.56h1.89v2.75h-1.89zM363.2 111.56h1.89v2.75h-1.89zM396.3 111.56h1.89v2.75h-1.89zM414.6 111.56h1.89v2.75h-1.89zM343 114.26h1.89v2.73h-1.89zM346.7 114.26h1.89v2.73h-1.89zM350.4 114.26h1.89v2.73h-1.89zM366.9 114.26h1.89v2.73h-1.89zM411 116.94h1.89v2.70h-1.89zM350.4 119.59h1.89v2.68h-1.89zM355.9 119.59h1.89v2.68h-1.89zM365.1 119.59h1.89v2.68h-1.89zM394.4 119.59h1.89v2.68h-1.89zM335.7 124.83h1.89v2.64h-1.89zM379.8 127.42h1.89v2.61h-1.89zM339.4 129.99h1.89v2.59h-1.89zM372.4 129.99h1.89v2.59h-1.89zM377.9 132.53h1.89v2.57h-1.89zM385.3 132.53h1.89v2.57h-1.89zM335.7 135.05h1.89v2.55h-1.89zM348.5 135.05h1.89v2.55h-1.89zM388.9 137.55h1.89v2.53h-1.89zM422 137.55h1.89v2.53h-1.89zM343 140.02h1.89v2.50h-1.89zM346.7 140.02h1.89v2.50h-1.89zM335.7 142.47h1.89v2.48h-1.89zM370.6 142.47h1.89v2.48h-1.89zM385.3 142.47h1.89v2.48h-1.89zM354.1 144.90h3.72v2.46h-3.72zM357.7 147.31h1.89v2.44h-1.89zM368.7 147.31h1.89v2.44h-1.89zM372.4 147.31h1.89v2.44h-1.89zM398.1 149.70h3.72v2.41h-3.72zM422 149.70h1.89v2.41h-1.89zM400 154.40h1.89v2.37h-1.89zM407.3 154.40h1.89v2.37h-1.89zM346.7 156.72h1.89v2.35h-1.89zM361.4 156.72h1.89v2.35h-1.89zM335.7 159.02h1.89v2.32h-1.89zM333.9 161.29h1.89v2.30h-1.89zM376.1 163.54h1.89v2.28h-1.89zM326.5 170.16h1.89v2.21h-1.89zM420.1 170.16h1.89v2.21h-1.89zM326.5 172.32h1.89v2.19h-1.89zM330.2 172.32h1.89v2.19h-1.89zM339.4 172.32h1.89v2.19h-1.89zM348.5 172.32h1.89v2.19h-1.89zM330.2 174.46h1.89v2.17h-1.89zM357.7 174.46h1.89v2.17h-1.89zM330.2 178.67h1.89v2.12h-1.89zM414.6 182.79h1.89v2.08h-1.89zM341.2 184.82h1.89v2.05h-1.89zM354.1 184.82h1.89v2.05h-1.89zM377.9 184.82h1.89v2.05h-1.89zM359.6 188.81h1.89v2.01h-1.89zM368.7 188.81h1.89v2.01h-1.89zM379.8 190.77h1.89v1.99h-1.89zM392.6 190.77h1.89v1.99h-1.89zM409.1 190.77h1.89v1.99h-1.89zM350.4 192.71h1.89v1.97h-1.89zM377.9 192.71h1.89v1.97h-1.89zM423.8 192.71h1.89v1.97h-1.89zM370.6 194.62h1.89v1.94h-1.89zM365.1 196.51h1.89v1.92h-1.89zM383.4 196.51h1.89v1.92h-1.89zM370.6 198.38h1.89v1.90h-1.89zM357.7 200.23h1.89v1.88h-1.89zM372.4 200.23h1.89v1.88h-1.89zM387.1 200.23h3.72v1.88h-3.72zM394.4 200.23h1.89v1.88h-1.89zM374.2 202.06h1.89v1.85h-1.89zM416.5 202.06h1.89v1.85h-1.89zM407.3 203.86h1.89v1.83h-1.89zM385.3 205.64h1.89v1.81h-1.89zM394.4 205.64h1.89v1.81h-1.89zM407.3 205.64h1.89v1.81h-1.89zM396.3 207.40h1.89v1.79h-1.89zM355.9 209.14h1.89v1.76h-1.89zM366.9 209.14h1.89v1.76h-1.89zM381.6 209.14h1.89v1.76h-1.89zM398.1 209.14h1.89v1.76h-1.89zM422 210.85h1.89v1.74h-1.89zM377.9 212.54h1.89v1.72h-1.89zM401.8 212.54h1.89v1.72h-1.89zM352.2 214.21h1.89v1.70h-1.89zM377.9 214.21h1.89v1.70h-1.89zM396.3 214.21h1.89v1.70h-1.89zM429.3 217.48h1.89v1.65h-1.89zM387.1 219.08h1.89v1.63h-1.89zM401.8 219.08h1.89v1.63h-1.89zM370.6 220.66h1.89v1.61h-1.89zM376.1 220.66h1.89v1.61h-1.89zM396.3 220.66h1.89v1.61h-1.89zM390.8 222.22h1.89v1.58h-1.89zM398.1 222.22h1.89v1.58h-1.89zM416.5 222.22h1.89v1.58h-1.89zM423.8 222.22h1.89v1.58h-1.89zM372.4 223.75h1.89v1.56h-1.89zM377.9 223.75h3.72v1.56h-3.72zM400 225.26h1.89v1.54h-1.89zM403.6 225.26h1.89v1.54h-1.89zM427.5 225.26h1.89v1.54h-1.89zM383.4 226.75h1.89v1.52h-1.89zM390.8 226.75h1.89v1.52h-1.89zM381.6 228.22h1.89v1.49h-1.89zM398.1 229.67h1.89v1.47h-1.89zM401.8 229.67h1.89v1.47h-1.89zM431.2 229.67h1.89v1.47h-1.89zM363.2 231.09h1.89v1.45h-1.89zM370.6 231.09h1.89v1.45h-1.89zM354.1 232.49h1.89v1.43h-1.89zM392.6 232.49h1.89v1.43h-1.89zM390.8 233.87h1.89v1.41h-1.89zM416.5 233.87h1.89v1.41h-1.89zM355.9 235.22h1.89v1.38h-1.89zM370.6 235.22h1.89v1.38h-1.89zM388.9 235.22h1.89v1.38h-1.89zM398.1 235.22h1.89v1.38h-1.89zM343 236.55h1.89v1.36h-1.89zM354.1 236.55h1.89v1.36h-1.89zM374.2 236.55h1.89v1.36h-1.89zM388.9 236.55h1.89v1.36h-1.89zM401.8 236.55h1.89v1.36h-1.89zM372.4 239.15h1.89v1.32h-1.89zM388.9 239.15h1.89v1.32h-1.89zM341.2 240.42h1.89v1.29h-1.89zM343 241.66h1.89v1.27h-1.89zM346.7 241.66h1.89v1.27h-1.89zM348.5 242.88h1.89v1.25h-1.89zM354.1 242.88h1.89v1.25h-1.89zM357.7 242.88h1.89v1.25h-1.89zM366.9 242.88h1.89v1.25h-1.89zM377.9 242.88h1.89v1.25h-1.89zM339.4 244.08h1.89v1.23h-1.89zM379.8 244.08h1.89v1.23h-1.89zM344.9 245.26h1.89v1.20h-1.89zM335.7 246.41h1.89v1.18h-1.89zM355.9 246.41h1.89v1.18h-1.89zM381.6 246.41h1.89v1.18h-1.89zM344.9 247.54h3.72v1.16h-3.72zM335.7 248.65h1.89v1.14h-1.89zM422 248.65h1.89v1.14h-1.89zM333.9 249.74h1.89v1.11h-1.89zM348.5 249.74h1.89v1.11h-1.89zM361.4 250.80h1.89v1.09h-1.89zM407.3 250.80h1.89v1.09h-1.89zM337.5 251.84h1.89v1.07h-1.89zM359.6 251.84h1.89v1.07h-1.89zM400 251.84h1.89v1.07h-1.89zM328.4 253.86h1.89v1.02h-1.89zM383.4 253.86h1.89v1.02h-1.89zM394.4 254.83h1.89v1.00h-1.89zM390.8 256.71h1.89v0.96h-1.89zM377.9 259.37h1.89v1.71h-1.89zM330.2 261.03h1.89v1.62h-1.89zM366.9 261.03h1.89v1.62h-1.89zM379.8 261.03h1.89v1.62h-1.89zM346.7 262.59h1.89v1.53h-1.89zM365.1 262.59h1.89v1.53h-1.89zM387.1 262.59h1.89v1.53h-1.89zM328.4 264.07h1.89v1.44h-1.89zM333.9 264.07h1.89v1.44h-1.89zM396.3 264.07h1.89v1.44h-1.89zM423.8 265.46h1.89v1.35h-1.89zM357.7 266.76h1.89v1.26h-1.89zM363.2 266.76h1.89v1.26h-1.89zM346.7 267.97h1.89v1.17h-1.89zM381.6 267.97h1.89v1.17h-1.89zM370.6 269.09h1.89v1.08h-1.89zM324.7 273.35h1.89v1.13h-1.89zM350.4 273.35h1.89v1.13h-1.89zM418.3 274.42h1.89v0.99h-1.89zM365.1 275.36h1.89v0.23h-1.89z"/>
<path fill="#163cfc" d="M363.2 23.54h1.89v3.40h-1.89zM376.1 23.54h1.89v3.40h-1.89zM381.6 23.54h1.89v3.40h-1.89zM407.3 23.54h1.89v3.40h-1.89zM363.2 26.89h1.89v3.38h-1.89zM366.9 26.89h1.89v3.38h-1.89zM383.4 26.89h1.89v3.38h-1.89zM398.1 26.89h1.89v3.38h-1.89zM341.2 30.22h1.89v3.35h-1.89zM372.4 30.22h1.89v3.35h-1.89zM343 33.52h1.89v3.33h-1.89zM350.4 33.52h1.89v3.33h-1.89zM354.1 33.52h1.89v3.33h-1.89zM388.9 33.52h3.72v3.33h-3.72zM394.4 33.52h1.89v3.33h-1.89zM343 36.80h1.89v3.31h-1.89zM348.5 36.80h1.89v3.31h-1.89zM385.3 36.80h1.89v3.31h-1.89zM392.6 36.80h1.89v3.31h-1.89zM341.2 40.06h1.89v3.29h-1.89zM346.7 40.06h1.89v3.29h-1.89zM352.2 40.06h3.72v3.29h-3.72zM363.2 40.06h1.89v3.29h-1.89zM381.6 40.06h1.89v3.29h-1.89zM390.8 40.06h1.89v3.29h-1.89zM343 43.30h1.89v3.26h-1.89zM348.5 43.30h3.72v3.26h-3.72zM354.1 43.30h1.89v3.26h-1.89zM359.6 43.30h1.89v3.26h-1.89zM374.2 43.30h1.89v3.26h-1.89zM392.6 43.30h1.89v3.26h-1.89zM357.7 46.51h1.89v3.24h-1.89zM366.9 46.51h1.89v3.24h-1.89zM370.6 46.51h1.89v3.24h-1.89zM381.6 46.51h1.89v3.24h-1.89zM385.3 46.51h1.89v3.24h-1.89zM374.2 49.70h3.72v3.22h-3.72zM383.4 49.70h1.89v3.22h-1.89zM377.9 52.87h1.89v3.20h-1.89zM414.6 52.87h1.89v3.20h-1.89zM385.3 56.02h1.89v3.17h-1.89zM394.4 56.02h1.89v3.17h-1.89zM405.5 56.02h3.72v3.17h-3.72zM414.6 56.02h1.89v3.17h-1.89zM394.4 59.15h1.89v3.15h-1.89zM409.1 59.15h1.89v3.15h-1.89zM423.8 59.15h1.89v3.15h-1.89zM398.1 65.33h1.89v3.11h-1.89zM396.3 68.39h1.89v3.09h-1.89zM423.8 68.39h1.89v3.09h-1.89zM400 71.42h1.89v3.06h-1.89zM414.6 71.42h1.89v3.06h-1.89zM361.4 77.42h1.89v3.02h-1.89zM377.9 77.42h1.89v3.02h-1.89zM381.6 77.42h1.89v3.02h-1.89zM388.9 77.42h3.72v3.02h-3.72zM394.4 77.42h1.89v3.02h-1.89zM361.4 80.39h1.89v3.00h-1.89zM365.1 80.39h1.89v3.00h-1.89zM407.3 83.34h1.89v2.97h-1.89zM431.2 86.26h1.89v2.95h-1.89zM411 89.16h1.89v2.93h-1.89zM405.5 92.04h3.72v2.91h-3.72zM403.6 100.54h1.89v2.84h-1.89zM403.6 106.10h1.89v2.79h-1.89zM368.7 108.84h1.89v2.77h-1.89zM390.8 108.84h1.89v2.77h-1.89zM381.6 111.56h3.72v2.75h-3.72zM354.1 114.26h1.89v2.73h-1.89zM361.4 114.26h1.89v2.73h-1.89zM355.9 116.94h1.89v2.70h-1.89zM359.6 116.94h1.89v2.70h-1.89zM420.1 116.94h1.89v2.70h-1.89zM385.3 119.59h1.89v2.68h-1.89zM398.1 119.59h1.89v2.68h-1.89zM416.5 119.59h1.89v2.68h-1.89zM366.9 122.22h1.89v2.66h-1.89zM394.4 122.22h1.89v2.66h-1.89zM387.1 124.83h1.89v2.64h-1.89zM414.6 124.83h1.89v2.64h-1.89zM344.9 127.42h1.89v2.61h-1.89zM354.1 127.42h3.72v2.61h-3.72zM387.1 127.42h1.89v2.61h-1.89zM387.1 129.99h1.89v2.59h-1.89zM341.2 132.53h1.89v2.57h-1.89zM368.7 132.53h1.89v2.57h-1.89zM346.7 135.05h1.89v2.55h-1.89zM355.9 135.05h1.89v2.55h-1.89zM388.9 135.05h1.89v2.55h-1.89zM344.9 137.55h1.89v2.53h-1.89zM348.5 137.55h1.89v2.53h-1.89zM352.2 137.55h1.89v2.53h-1.89zM366.9 137.55h1.89v2.53h-1.89zM381.6 137.55h1.89v2.53h-1.89zM344.9 140.02h1.89v2.50h-1.89zM352.2 140.02h1.89v2.50h-1.89zM372.4 140.02h1.89v2.50h-1.89zM365.1 142.47h1.89v2.48h-1.89zM370.6 144.90h3.72v2.46h-3.72zM398.1 144.90h1.89v2.46h-1.89zM401.8 144.90h1.89v2.46h-1.89zM376.1 147.31h1.89v2.44h-1.89zM379.8 147.31h1.89v2.44h-1.89zM385.3 147.31h1.89v2.44h-1.89zM388.9 147.31h1.89v2.44h-1.89zM392.6 147.31h1.89v2.44h-1.89zM354.1 156.72h1.89v2.35h-1.89zM370.6 156.72h1.89v2.35h-1.89zM394.4 159.02h1.89v2.32h-1.89zM337.5 161.29h1.89v2.30h-1.89zM339.4 163.54h3.72v2.28h-3.72zM374.2 163.54h1.89v2.28h-1.89zM412.8 163.54h1.89v2.28h-1.89zM431.2 163.54h1.89v2.28h-1.89zM333.9 167.98h1.89v2.23h-1.89zM330.2 170.16h1.89v2.21h-1.89zM365.1 170.16h1.89v2.21h-1.89zM352.2 172.32h1.89v2.19h-1.89zM332 174.46h1.89v2.17h-1.89zM335.7 174.46h1.89v2.17h-1.89zM343 174.46h1.89v2.17h-1.89zM401.8 176.58h1.89v2.14h-1.89zM409.1 176.58h1.89v2.14h-1.89zM344.9 178.67h1.89v2.12h-1.89zM357.7 178.67h1.89v2.12h-1.89zM335.7 180.74h1.89v2.10h-1.89zM341.2 180.74h1.89v2.10h-1.89zM333.9 182.79h5.56v2.08h-5.56zM374.2 184.82h1.89v2.05h-1.89zM372.4 186.83h1.89v2.03h-1.89zM387.1 186.83h1.89v2.03h-1.89zM392.6 186.83h1.89v2.03h-1.89zM398.1 186.83h1.89v2.03h-1.89zM374.2 188.81h1.89v2.01h-1.89zM377.9 188.81h1.89v2.01h-1.89zM383.4 188.81h1.89v2.01h-1.89zM400 188.81h1.89v2.01h-1.89zM381.6 192.71h1.89v1.97h-1.89zM400 192.71h1.89v1.97h-1.89zM403.6 192.71h1.89v1.97h-1.89zM409.1 192.71h1.89v1.97h-1.89zM388.9 194.62h1.89v1.94h-1.89zM411 194.62h1.89v1.94h-1.89zM396.3 196.51h1.89v1.92h-1.89zM420.1 196.51h1.89v1.92h-1.89zM394.4 198.38h3.72v1.90h-3.72zM409.1 198.38h1.89v1.90h-1.89zM416.5 198.38h1.89v1.90h-1.89zM398.1 200.23h1.89v1.88h-1.89zM392.6 202.06h1.89v1.85h-1.89zM401.8 202.06h1.89v1.85h-1.89zM407.3 202.06h1.89v1.85h-1.89zM398.1 203.86h1.89v1.83h-1.89zM425.7 203.86h1.89v1.83h-1.89zM390.8 205.64h1.89v1.81h-1.89zM398.1 205.64h1.89v1.81h-1.89zM383.4 210.85h1.89v1.74h-1.89zM392.6 210.85h3.72v1.74h-3.72zM409.1 210.85h1.89v1.74h-1.89zM390.8 212.54h1.89v1.72h-1.89zM396.3 212.54h1.89v1.72h-1.89zM407.3 212.54h1.89v1.72h-1.89zM385.3 215.86h1.89v1.67h-1.89zM416.5 215.86h1.89v1.67h-1.89zM398.1 217.48h1.89v1.65h-1.89zM394.4 220.66h1.89v1.61h-1.89zM398.1 220.66h1.89v1.61h-1.89zM403.6 220.66h1.89v1.61h-1.89zM387.1 222.22h1.89v1.58h-1.89zM403.6 222.22h1.89v1.58h-1.89zM418.3 222.22h1.89v1.58h-1.89zM400 223.75h1.89v1.56h-1.89zM398.1 225.26h1.89v1.54h-1.89zM394.4 226.75h3.72v1.52h-3.72zM418.3 226.75h1.89v1.52h-1.89zM387.1 228.22h3.72v1.49h-3.72zM385.3 231.09h1.89v1.45h-1.89zM396.3 231.09h1.89v1.45h-1.89zM377.9 232.49h1.89v1.43h-1.89zM385.3 232.49h1.89v1.43h-1.89zM388.9 232.49h1.89v1.43h-1.89zM401.8 233.87h1.89v1.41h-1.89zM374.2 235.22h1.89v1.38h-1.89zM383.4 235.22h1.89v1.38h-1.89zM387.1 235.22h1.89v1.38h-1.89zM385.3 236.55h1.89v1.36h-1.89zM370.6 237.86h1.89v1.34h-1.89zM374.2 237.86h1.89v1.34h-1.89zM403.6 237.86h3.72v1.34h-3.72zM420.1 237.86h1.89v1.34h-1.89zM357.7 239.15h1.89v1.32h-1.89zM363.2 239.15h1.89v1.32h-1.89zM368.7 239.15h1.89v1.32h-1.89zM379.8 239.15h1.89v1.32h-1.89zM361.4 240.42h1.89v1.29h-1.89zM368.7 240.42h1.89v1.29h-1.89zM388.9 240.42h1.89v1.29h-1.89zM398.1 240.42h1.89v1.29h-1.89zM407.3 240.42h1.89v1.29h-1.89zM352.2 241.66h1.89v1.27h-1.89zM357.7 241.66h5.56v1.27h-5.56zM372.4 241.66h1.89v1.27h-1.89zM392.6 241.66h1.89v1.27h-1.89zM346.7 242.88h1.89v1.25h-1.89zM359.6 242.88h1.89v1.25h-1.89zM379.8 242.88h1.89v1.25h-1.89zM383.4 242.88h1.89v1.25h-1.89zM396.3 242.88h1.89v1.25h-1.89zM359.6 244.08h3.72v1.23h-3.72zM350.4 245.26h1.89v1.20h-1.89zM368.7 245.26h1.89v1.20h-1.89zM368.7 246.41h1.89v1.18h-1.89zM388.9 246.41h1.89v1.18h-1.89zM365.1 247.54h1.89v1.16h-1.89zM387.1 247.54h1.89v1.16h-1.89zM370.6 248.65h1.89v1.14h-1.89zM354.1 249.74h1.89v1.11h-1.89zM381.6 249.74h1.89v1.11h-1.89zM387.1 250.80h1.89v1.09h-1.89zM392.6 250.80h1.89v1.09h-1.89zM339.4 251.84h3.72v1.07h-3.72zM387.1 251.84h1.89v1.07h-1.89zM337.5 252.86h1.89v1.05h-1.89zM385.3 252.86h1.89v1.05h-1.89zM335.7 253.86h3.72v1.02h-3.72zM348.5 253.86h1.89v1.02h-1.89zM429.3 253.86h1.89v1.02h-1.89zM344.9 254.83h1.89v1.00h-1.89zM427.5 254.83h1.89v1.00h-1.89zM344.9 255.79h1.89v0.98h-1.89zM387.1 255.79h1.89v0.98h-1.89zM390.8 255.79h1.89v0.98h-1.89zM420.1 255.79h1.89v0.98h-1.89zM337.5 256.71h1.89v0.96h-1.89zM335.7 257.62h1.89v1.80h-1.89zM343 257.62h1.89v1.80h-1.89zM346.7 257.62h1.89v1.80h-1.89zM359.6 259.37h1.89v1.71h-1.89zM387.1 259.37h1.89v1.71h-1.89zM337.5 261.03h1.89v1.62h-1.89zM365.1 261.03h1.89v1.62h-1.89zM354.1 262.59h1.89v1.53h-1.89zM381.6 262.59h1.89v1.53h-1.89zM343 264.07h1.89v1.44h-1.89zM374.2 264.07h1.89v1.44h-1.89zM420.1 264.07h1.89v1.44h-1.89zM343 265.46h1.89v1.35h-1.89zM412.8 265.46h1.89v1.35h-1.89zM332 266.76h1.89v1.26h-1.89zM330.2 267.97h1.89v1.17h-1.89zM420.1 267.97h1.89v1.17h-1.89zM333.9 269.09h3.72v1.08h-3.72zM348.5 269.09h1.89v1.08h-1.89zM365.1 270.12h1.89v0.99h-1.89zM411 270.12h1.89v0.99h-1.89zM332 271.06h1.89v1.29h-1.89zM350.4 271.06h1.89v1.29h-1.89zM359.6 271.06h3.72v1.29h-3.72zM394.4 271.06h1.89v1.29h-1.89zM332 272.31h1.89v1.09h-1.89zM335.7 272.31h1.89v1.09h-1.89zM339.4 272.31h1.89v1.09h-1.89zM344.9 272.31h1.89v1.09h-1.89zM350.4 272.31h1.89v1.09h-1.89zM425.7 272.31h1.89v1.09h-1.89zM328.4 273.35h1.89v1.13h-1.89zM346.7 273.35h1.89v1.13h-1.89zM335.7 275.36h1.89v0.23h-1.89zM339.4 275.36h1.89v0.23h-1.89z"/>
<path fill="#00bef7" d="M368.7 23.54h1.89v3.40h-1.89zM330.2 26.89h1.89v3.38h-1.89zM335.7 26.89h1.89v3.38h-1.89zM346.7 26.89h1.89v3.38h-1.89zM350.4 26.89h1.89v3.38h-1.89zM337.5 36.80h1.89v3.31h-1.89zM337.5 40.06h1.89v3.29h-1.89zM328.4 43.30h1.89v3.26h-1.89zM337.5 43.30h1.89v3.26h-1.89zM339.4 46.51h1.89v3.24h-1.89zM337.5 49.70h1.89v3.22h-1.89zM350.4 49.70h1.89v3.22h-1.89zM352.2 52.87h1.89v3.20h-1.89zM363.2 52.87h1.89v3.20h-1.89zM343 56.02h3.72v3.17h-3.72zM374.2 56.02h1.89v3.17h-1.89zM383.4 56.02h1.89v3.17h-1.89zM392.6 56.02h1.89v3.17h-1.89zM352.2 59.15h1.89v3.15h-1.89zM366.9 59.15h1.89v3.15h-1.89zM372.4 59.15h1.89v3.15h-1.89zM381.6 59.15h1.89v3.15h-1.89zM385.3 59.15h1.89v3.15h-1.89zM348.5 62.25h1.89v3.13h-1.89zM354.1 62.25h1.89v3.13h-1.89zM359.6 62.25h1.89v3.13h-1.89zM381.6 62.25h1.89v3.13h-1.89zM388.9 62.25h3.72v3.13h-3.72zM361.4 65.33h1.89v3.11h-1.89zM374.2 65.33h3.72v3.11h-3.72zM385.3 65.33h1.89v3.11h-1.89zM361.4 68.39h1.89v3.09h-1.89zM368.7 68.39h1.89v3.09h-1.89zM374.2 68.39h1.89v3.09h-1.89zM377.9 68.39h1.89v3.09h-1.89zM392.6 68.39h1.89v3.09h-1.89zM352.2 71.42h3.72v3.06h-3.72zM372.4 71.42h1.89v3.06h-1.89zM387.1 71.42h1.89v3.06h-1.89zM394.4 71.42h1.89v3.06h-1.89zM346.7 74.43h1.89v3.04h-1.89zM368.7 74.43h1.89v3.04h-1.89zM374.2 74.43h1.89v3.04h-1.89zM377.9 74.43h1.89v3.04h-1.89zM341.2 80.39h1.89v3.00h-1.89zM400 83.34h1.89v2.97h-1.89zM388.9 86.26h1.89v2.95h-1.89zM392.6 86.26h1.89v2.95h-1.89zM390.8 92.04h3.72v2.91h-3.72zM396.3 92.04h1.89v2.91h-1.89zM390.8 103.33h1.89v2.82h-1.89zM392.6 106.10h1.89v2.79h-1.89zM359.6 108.84h1.89v2.77h-1.89zM377.9 108.84h1.89v2.77h-1.89zM337.5 111.56h1.89v2.75h-1.89zM352.2 111.56h1.89v2.75h-1.89zM361.4 111.56h1.89v2.75h-1.89zM372.4 111.56h1.89v2.75h-1.89zM341.2 114.26h1.89v2.73h-1.89zM337.5 122.22h1.89v2.66h-1.89zM344.9 122.22h1.89v2.66h-1.89zM341.2 124.83h1.89v2.64h-1.89zM344.9 124.83h1.89v2.64h-1.89zM335.7 127.42h1.89v2.61h-1.89zM341.2 127.42h1.89v2.61h-1.89zM335.7 132.53h1.89v2.57h-1.89zM341.2 142.47h1.89v2.48h-1.89zM377.9 147.31h1.89v2.44h-1.89zM341.2 156.72h1.89v2.35h-1.89zM348.5 156.72h1.89v2.35h-1.89zM324.7 163.54h1.89v2.28h-1.89zM326.5 165.77h1.89v2.26h-1.89zM328.4 167.98h1.89v2.23h-1.89zM326.5 178.67h3.72v2.12h-3.72zM332 178.67h1.89v2.12h-1.89zM326.5 180.74h1.89v2.10h-1.89zM326.5 182.79h1.89v2.08h-1.89zM341.2 186.83h1.89v2.03h-1.89zM339.4 188.81h1.89v2.01h-1.89zM370.6 188.81h1.89v2.01h-1.89zM346.7 190.77h1.89v1.99h-1.89zM350.4 190.77h1.89v1.99h-1.89zM381.6 190.77h1.89v1.99h-1.89zM350.4 194.62h1.89v1.94h-1.89zM348.5 196.51h1.89v1.92h-1.89zM368.7 196.51h1.89v1.92h-1.89zM385.3 196.51h1.89v1.92h-1.89zM388.9 196.51h1.89v1.92h-1.89zM350.4 198.38h1.89v1.90h-1.89zM376.1 198.38h3.72v1.90h-3.72zM381.6 198.38h1.89v1.90h-1.89zM366.9 200.23h1.89v1.88h-1.89zM370.6 200.23h1.89v1.88h-1.89zM361.4 202.06h1.89v1.85h-1.89zM368.7 202.06h1.89v1.85h-1.89zM377.9 202.06h1.89v1.85h-1.89zM381.6 202.06h1.89v1.85h-1.89zM355.9 203.86h1.89v1.83h-1.89zM365.1 203.86h1.89v1.83h-1.89zM374.2 203.86h1.89v1.83h-1.89zM379.8 203.86h1.89v1.83h-1.89zM392.6 203.86h3.72v1.83h-3.72zM381.6 205.64h3.72v1.81h-3.72zM355.9 207.40h1.89v1.79h-1.89zM400 207.40h1.89v1.79h-1.89zM370.6 209.14h1.89v1.76h-1.89zM376.1 209.14h1.89v1.76h-1.89zM390.8 209.14h3.72v1.76h-3.72zM344.9 210.85h1.89v1.74h-1.89zM357.7 210.85h1.89v1.74h-1.89zM365.1 210.85h1.89v1.74h-1.89zM352.2 212.54h1.89v1.72h-1.89zM363.2 212.54h3.72v1.72h-3.72zM385.3 212.54h3.72v1.72h-3.72zM355.9 214.21h1.89v1.70h-1.89zM359.6 214.21h1.89v1.70h-1.89zM366.9 214.21h3.72v1.70h-3.72zM383.4 214.21h1.89v1.70h-1.89zM387.1 214.21h3.72v1.70h-3.72zM352.2 215.86h1.89v1.67h-1.89zM355.9 215.86h1.89v1.67h-1.89zM365.1 215.86h1.89v1.67h-1.89zM376.1 215.86h1.89v1.67h-1.89zM379.8 215.86h1.89v1.67h-1.89zM390.8 215.86h1.89v1.67h-1.89zM374.2 217.48h1.89v1.65h-1.89zM381.6 217.48h1.89v1.65h-1.89zM392.6 217.48h1.89v1.65h-1.89zM354.1 219.08h1.89v1.63h-1.89zM361.4 219.08h1.89v1.63h-1.89zM365.1 219.08h1.89v1.63h-1.89zM377.9 219.08h1.89v1.63h-1.89zM383.4 219.08h1.89v1.63h-1.89zM390.8 219.08h1.89v1.63h-1.89zM363.2 220.66h1.89v1.61h-1.89zM366.9 220.66h3.72v1.61h-3.72zM377.9 220.66h1.89v1.61h-1.89zM388.9 220.66h1.89v1.61h-1.89zM363.2 222.22h1.89v1.58h-1.89zM370.6 223.75h1.89v1.56h-1.89zM383.4 223.75h1.89v1.56h-1.89zM361.4 225.26h1.89v1.54h-1.89zM376.1 225.26h3.72v1.54h-3.72zM381.6 226.75h1.89v1.52h-1.89zM337.5 228.22h1.89v1.49h-1.89zM359.6 228.22h1.89v1.49h-1.89zM355.9 229.67h1.89v1.47h-1.89zM359.6 229.67h1.89v1.47h-1.89zM366.9 229.67h1.89v1.47h-1.89zM344.9 231.09h1.89v1.45h-1.89zM354.1 231.09h1.89v1.45h-1.89zM377.9 231.09h1.89v1.45h-1.89zM383.4 231.09h1.89v1.45h-1.89zM348.5 232.49h1.89v1.43h-1.89zM352.2 232.49h1.89v1.43h-1.89zM355.9 232.49h1.89v1.43h-1.89zM387.1 232.49h1.89v1.43h-1.89zM348.5 233.87h1.89v1.41h-1.89zM379.8 233.87h1.89v1.41h-1.89zM350.4 235.22h1.89v1.38h-1.89zM365.1 235.22h1.89v1.38h-1.89zM355.9 236.55h3.72v1.36h-3.72zM361.4 236.55h3.72v1.36h-3.72zM350.4 237.86h1.89v1.34h-1.89zM335.7 239.15h3.72v1.32h-3.72zM344.9 239.15h1.89v1.32h-1.89zM348.5 239.15h1.89v1.32h-1.89zM352.2 240.42h1.89v1.29h-1.89zM359.6 240.42h1.89v1.29h-1.89zM335.7 241.66h1.89v1.27h-1.89zM337.5 242.88h3.72v1.25h-3.72zM341.2 244.08h1.89v1.23h-1.89zM337.5 246.41h1.89v1.18h-1.89zM339.4 248.65h1.89v1.14h-1.89zM333.9 252.86h3.72v1.05h-3.72zM330.2 253.86h1.89v1.02h-1.89zM328.4 254.83h1.89v1.00h-1.89zM332 254.83h1.89v1.00h-1.89zM330.2 255.79h1.89v0.98h-1.89zM333.9 255.79h1.89v0.98h-1.89zM328.4 259.37h1.89v1.71h-1.89zM326.5 261.03h1.89v1.62h-1.89zM328.4 262.59h1.89v1.53h-1.89zM328.4 265.46h1.89v1.35h-1.89zM332 265.46h1.89v1.35h-1.89zM324.7 267.97h1.89v1.17h-1.89zM328.4 267.97h1.89v1.17h-1.89zM328.4 272.31h1.89v1.09h-1.89zM326.5 273.35h1.89v1.13h-1.89zM330.2 274.42h1.89v0.99h-1.89zM326.5 275.36h1.89v0.23h-1.89z"/>
<path fill="#1f2bf8" d="M370.6 23.54h1.89v3.40h-1.89zM374.2 23.54h1.89v3.40h-1.89zM411 23.54h1.89v3.40h-1.89zM359.6 26.89h1.89v3.38h-1.89zM368.7 26.89h1.89v3.38h-1.89zM372.4 26.89h1.89v3.38h-1.89zM346.7 30.22h3.72v3.35h-3.72zM394.4 30.22h1.89v3.35h-1.89zM339.4 33.52h1.89v3.33h-1.89zM344.9 33.52h1.89v3.33h-1.89zM376.1 33.52h1.89v3.33h-1.89zM425.7 33.52h1.89v3.33h-1.89zM366.9 36.80h1.89v3.31h-1.89zM368.7 40.06h1.89v3.29h-1.89zM344.9 43.30h1.89v3.26h-1.89zM379.8 43.30h1.89v3.26h-1.89zM355.9 46.51h1.89v3.24h-1.89zM372.4 46.51h1.89v3.24h-1.89zM379.8 46.51h1.89v3.24h-1.89zM357.7 49.70h1.89v3.22h-1.89zM377.9 49.70h3.72v3.22h-3.72zM379.8 52.87h1.89v3.20h-1.89zM385.3 52.87h5.56v3.20h-5.56zM392.6 52.87h1.89v3.20h-1.89zM398.1 52.87h1.89v3.20h-1.89zM396.3 59.15h1.89v3.15h-1.89zM401.8 59.15h1.89v3.15h-1.89zM405.5 59.15h1.89v3.15h-1.89zM398.1 62.25h1.89v3.13h-1.89zM411 62.25h1.89v3.13h-1.89zM394.4 68.39h1.89v3.09h-1.89zM398.1 68.39h1.89v3.09h-1.89zM418.3 68.39h1.89v3.09h-1.89zM385.3 74.43h1.89v3.04h-1.89zM396.3 74.43h3.72v3.04h-3.72zM425.7 74.43h1.89v3.04h-1.89zM363.2 77.42h1.89v3.02h-1.89zM374.2 77.42h1.89v3.02h-1.89zM400 77.42h1.89v3.02h-1.89zM407.3 77.42h1.89v3.02h-1.89zM357.7 80.39h3.72v3.00h-3.72zM363.2 80.39h1.89v3.00h-1.89zM376.1 80.39h5.56v3.00h-5.56zM403.6 83.34h1.89v2.97h-1.89zM400 86.26h1.89v2.95h-1.89zM401.8 89.16h1.89v2.93h-1.89zM403.6 92.04h1.89v2.91h-1.89zM409.1 92.04h1.89v2.91h-1.89zM407.3 97.73h1.89v2.86h-1.89zM411 100.54h1.89v2.84h-1.89zM401.8 103.33h1.89v2.82h-1.89zM407.3 103.33h1.89v2.82h-1.89zM418.3 103.33h1.89v2.82h-1.89zM405.5 106.10h1.89v2.79h-1.89zM372.4 108.84h1.89v2.77h-1.89zM385.3 108.84h1.89v2.77h-1.89zM418.3 108.84h1.89v2.77h-1.89zM366.9 111.56h1.89v2.75h-1.89zM400 111.56h1.89v2.75h-1.89zM407.3 111.56h1.89v2.75h-1.89zM370.6 114.26h1.89v2.73h-1.89zM400 114.26h1.89v2.73h-1.89zM392.6 116.94h1.89v2.70h-1.89zM405.5 119.59h1.89v2.68h-1.89zM348.5 122.22h7.39v2.66h-7.39zM374.2 122.22h1.89v2.66h-1.89zM392.6 122.22h1.89v2.66h-1.89zM352.2 124.83h1.89v2.64h-1.89zM357.7 124.83h1.89v2.64h-1.89zM361.4 124.83h1.89v2.64h-1.89zM372.4 124.83h1.89v2.64h-1.89zM383.4 124.83h1.89v2.64h-1.89zM365.1 127.42h1.89v2.61h-1.89zM350.4 129.99h1.89v2.59h-1.89zM377.9 129.99h1.89v2.59h-1.89zM403.6 129.99h1.89v2.59h-1.89zM343 132.53h3.72v2.57h-3.72zM348.5 132.53h1.89v2.57h-1.89zM383.4 132.53h1.89v2.57h-1.89zM357.7 135.05h1.89v2.55h-1.89zM377.9 135.05h1.89v2.55h-1.89zM346.7 137.55h1.89v2.53h-1.89zM365.1 137.55h1.89v2.53h-1.89zM370.6 137.55h1.89v2.53h-1.89zM379.8 137.55h1.89v2.53h-1.89zM387.1 137.55h1.89v2.53h-1.89zM350.4 140.02h1.89v2.50h-1.89zM390.8 140.02h1.89v2.50h-1.89zM350.4 142.47h1.89v2.48h-1.89zM366.9 142.47h1.89v2.48h-1.89zM377.9 142.47h3.72v2.48h-3.72zM361.4 144.90h1.89v2.46h-1.89zM385.3 144.90h1.89v2.46h-1.89zM390.8 144.90h1.89v2.46h-1.89zM394.4 147.31h1.89v2.44h-1.89zM403.6 154.40h1.89v2.37h-1.89zM411 154.40h1.89v2.37h-1.89zM344.9 159.02h1.89v2.32h-1.89zM361.4 159.02h1.89v2.32h-1.89zM398.1 159.02h1.89v2.32h-1.89zM361.4 161.29h1.89v2.30h-1.89zM423.8 161.29h1.89v2.30h-1.89zM333.9 163.54h1.89v2.28h-1.89zM359.6 165.77h1.89v2.26h-1.89zM352.2 170.16h1.89v2.21h-1.89zM359.6 174.46h1.89v2.17h-1.89zM330.2 176.58h1.89v2.14h-1.89zM333.9 180.74h1.89v2.10h-1.89zM339.4 182.79h1.89v2.08h-1.89zM365.1 186.83h1.89v2.03h-1.89zM370.6 186.83h1.89v2.03h-1.89zM396.3 186.83h1.89v2.03h-1.89zM372.4 188.81h1.89v2.01h-1.89zM387.1 188.81h3.72v2.01h-3.72zM388.9 190.77h3.72v1.99h-3.72zM394.4 190.77h1.89v1.99h-1.89zM400 190.77h1.89v1.99h-1.89zM388.9 192.71h3.72v1.97h-3.72zM392.6 194.62h1.89v1.94h-1.89zM396.3 194.62h1.89v1.94h-1.89zM409.1 194.62h1.89v1.94h-1.89zM398.1 196.51h1.89v1.92h-1.89zM390.8 198.38h3.72v1.90h-3.72zM398.1 198.38h1.89v1.90h-1.89zM405.5 200.23h1.89v1.88h-1.89zM412.8 200.23h1.89v1.88h-1.89zM405.5 202.06h1.89v1.85h-1.89zM403.6 205.64h1.89v1.81h-1.89zM401.8 207.40h1.89v1.79h-1.89zM409.1 207.40h1.89v1.79h-1.89zM398.1 212.54h1.89v1.72h-1.89zM409.1 212.54h1.89v1.72h-1.89zM416.5 212.54h1.89v1.72h-1.89zM400 214.21h1.89v1.70h-1.89zM392.6 215.86h1.89v1.67h-1.89zM396.3 215.86h1.89v1.67h-1.89zM394.4 217.48h3.72v1.65h-3.72zM407.3 219.08h1.89v1.63h-1.89zM387.1 220.66h1.89v1.61h-1.89zM405.5 220.66h1.89v1.61h-1.89zM401.8 222.22h1.89v1.58h-1.89zM407.3 222.22h1.89v1.58h-1.89zM431.2 222.22h1.89v1.58h-1.89zM388.9 223.75h1.89v1.56h-1.89zM394.4 223.75h5.56v1.56h-5.56zM401.8 223.75h1.89v1.56h-1.89zM388.9 226.75h1.89v1.52h-1.89zM409.1 226.75h1.89v1.52h-1.89zM412.8 226.75h1.89v1.52h-1.89zM411 228.22h1.89v1.49h-1.89zM394.4 229.67h1.89v1.47h-1.89zM387.1 233.87h1.89v1.41h-1.89zM420.1 233.87h1.89v1.41h-1.89zM381.6 235.22h1.89v1.38h-1.89zM394.4 235.22h1.89v1.38h-1.89zM422 235.22h1.89v1.38h-1.89zM429.3 235.22h1.89v1.38h-1.89zM398.1 236.55h1.89v1.36h-1.89zM365.1 237.86h1.89v1.34h-1.89zM377.9 237.86h5.56v1.34h-5.56zM396.3 237.86h1.89v1.34h-1.89zM411 237.86h1.89v1.34h-1.89zM361.4 239.15h1.89v1.32h-1.89zM366.9 239.15h1.89v1.32h-1.89zM365.1 240.42h1.89v1.29h-1.89zM377.9 240.42h1.89v1.29h-1.89zM396.3 240.42h1.89v1.29h-1.89zM365.1 241.66h1.89v1.27h-1.89zM361.4 242.88h1.89v1.25h-1.89zM368.7 242.88h1.89v1.25h-1.89zM429.3 242.88h1.89v1.25h-1.89zM350.4 244.08h1.89v1.23h-1.89zM354.1 244.08h1.89v1.23h-1.89zM365.1 244.08h1.89v1.23h-1.89zM394.4 244.08h3.72v1.23h-3.72zM354.1 245.26h1.89v1.20h-1.89zM365.1 245.26h1.89v1.20h-1.89zM376.1 245.26h3.72v1.20h-3.72zM422 245.26h1.89v1.20h-1.89zM344.9 246.41h1.89v1.18h-1.89zM354.1 246.41h1.89v1.18h-1.89zM409.1 246.41h1.89v1.18h-1.89zM352.2 247.54h1.89v1.16h-1.89zM372.4 247.54h1.89v1.16h-1.89zM381.6 247.54h1.89v1.16h-1.89zM385.3 248.65h1.89v1.14h-1.89zM394.4 248.65h1.89v1.14h-1.89zM398.1 248.65h1.89v1.14h-1.89zM409.1 248.65h1.89v1.14h-1.89zM379.8 249.74h1.89v1.11h-1.89zM390.8 249.74h1.89v1.11h-1.89zM343 250.80h3.72v1.09h-3.72zM354.1 250.80h1.89v1.09h-1.89zM429.3 250.80h1.89v1.09h-1.89zM341.2 252.86h1.89v1.05h-1.89zM346.7 252.86h1.89v1.05h-1.89zM403.6 252.86h1.89v1.05h-1.89zM339.4 253.86h3.72v1.02h-3.72zM344.9 253.86h1.89v1.02h-1.89zM370.6 253.86h3.72v1.02h-3.72zM381.6 253.86h1.89v1.02h-1.89zM400 253.86h1.89v1.02h-1.89zM337.5 254.83h3.72v1.00h-3.72zM343 254.83h1.89v1.00h-1.89zM354.1 254.83h1.89v1.00h-1.89zM392.6 254.83h1.89v1.00h-1.89zM339.4 255.79h1.89v0.98h-1.89zM343 255.79h1.89v0.98h-1.89zM346.7 255.79h1.89v0.98h-1.89zM361.4 255.79h1.89v0.98h-1.89zM385.3 255.79h1.89v0.98h-1.89zM339.4 256.71h3.72v0.96h-3.72zM355.9 256.71h1.89v0.96h-1.89zM374.2 256.71h1.89v0.96h-1.89zM427.5 256.71h1.89v0.96h-1.89zM341.2 257.62h1.89v1.80h-1.89zM379.8 257.62h1.89v1.80h-1.89zM403.6 257.62h1.89v1.80h-1.89zM337.5 259.37h1.89v1.71h-1.89zM350.4 259.37h1.89v1.71h-1.89zM383.4 259.37h1.89v1.71h-1.89zM425.7 259.37h1.89v1.71h-1.89zM354.1 261.03h1.89v1.62h-1.89zM357.7 261.03h1.89v1.62h-1.89zM361.4 261.03h1.89v1.62h-1.89zM333.9 262.59h1.89v1.53h-1.89zM363.2 262.59h1.89v1.53h-1.89zM394.4 262.59h1.89v1.53h-1.89zM390.8 264.07h1.89v1.44h-1.89zM431.2 264.07h1.89v1.44h-1.89zM339.4 265.46h1.89v1.35h-1.89zM387.1 266.76h1.89v1.26h-1.89zM332 267.97h1.89v1.17h-1.89zM335.7 267.97h1.89v1.17h-1.89zM377.9 267.97h1.89v1.17h-1.89zM418.3 267.97h1.89v1.17h-1.89zM425.7 267.97h1.89v1.17h-1.89zM330.2 269.09h3.72v1.08h-3.72zM337.5 269.09h1.89v1.08h-1.89zM359.6 269.09h1.89v1.08h-1.89zM368.7 269.09h1.89v1.08h-1.89zM383.4 269.09h1.89v1.08h-1.89zM339.4 270.12h1.89v0.99h-1.89zM366.9 270.12h1.89v0.99h-1.89zM385.3 270.12h1.89v0.99h-1.89zM405.5 270.12h1.89v0.99h-1.89zM337.5 271.06h3.72v1.29h-3.72zM357.7 271.06h1.89v1.29h-1.89zM346.7 272.31h1.89v1.09h-1.89zM416.5 272.31h1.89v1.09h-1.89zM330.2 273.35h3.72v1.13h-3.72zM339.4 273.35h1.89v1.13h-1.89zM368.7 273.35h1.89v1.13h-1.89zM398.1 273.35h1.89v1.13h-1.89zM416.5 273.35h1.89v1.13h-1.89zM343 275.36h1.89v0.23h-1.89z"/>
<path fill="#271af3" d="M372.4 23.54h1.89v3.40h-1.89zM392.6 23.54h1.89v3.40h-1.89zM376.1 26.89h1.89v3.38h-1.89zM396.3 26.89h1.89v3.38h-1.89zM337.5 30.22h1.89v3.35h-1.89zM361.4 30.22h1.89v3.35h-1.89zM348.5 33.52h1.89v3.33h-1.89zM372.4 33.52h1.89v3.33h-1.89zM396.3 33.52h1.89v3.33h-1.89zM352.2 36.80h1.89v3.31h-1.89zM355.9 43.30h1.89v3.26h-1.89zM398.1 43.30h1.89v3.26h-1.89zM376.1 46.51h1.89v3.24h-1.89zM390.8 46.51h1.89v3.24h-1.89zM381.6 49.70h1.89v3.22h-1.89zM405.5 49.70h1.89v3.22h-1.89zM403.6 52.87h1.89v3.20h-1.89zM390.8 56.02h1.89v3.17h-1.89zM396.3 56.02h1.89v3.17h-1.89zM405.5 62.25h1.89v3.13h-1.89zM396.3 65.33h1.89v3.11h-1.89zM388.9 71.42h1.89v3.06h-1.89zM383.4 74.43h1.89v3.04h-1.89zM387.1 74.43h1.89v3.04h-1.89zM366.9 77.42h1.89v3.02h-1.89zM368.7 80.39h1.89v3.00h-1.89zM412.8 94.90h1.89v2.88h-1.89zM412.8 106.10h1.89v2.79h-1.89zM381.6 108.84h1.89v2.77h-1.89zM365.1 111.56h1.89v2.75h-1.89zM379.8 111.56h1.89v2.75h-1.89zM363.2 114.26h1.89v2.73h-1.89zM354.1 116.94h1.89v2.70h-1.89zM344.9 119.59h1.89v2.68h-1.89zM348.5 119.59h1.89v2.68h-1.89zM352.2 119.59h1.89v2.68h-1.89zM346.7 127.42h1.89v2.61h-1.89zM425.7 132.53h1.89v2.57h-1.89zM344.9 135.05h1.89v2.55h-1.89zM400 135.05h1.89v2.55h-1.89zM370.6 140.02h1.89v2.50h-1.89zM387.1 140.02h1.89v2.50h-1.89zM361.4 142.47h1.89v2.48h-1.89zM368.7 144.90h1.89v2.46h-1.89zM374.2 144.90h1.89v2.46h-1.89zM387.1 147.31h1.89v2.44h-1.89zM398.1 147.31h1.89v2.44h-1.89zM405.5 152.06h1.89v2.39h-1.89zM401.8 154.40h1.89v2.37h-1.89zM350.4 156.72h1.89v2.35h-1.89zM337.5 159.02h1.89v2.32h-1.89zM377.9 159.02h1.89v2.32h-1.89zM388.9 159.02h1.89v2.32h-1.89zM346.7 161.29h1.89v2.30h-1.89zM332 163.54h1.89v2.28h-1.89zM337.5 165.77h1.89v2.26h-1.89zM337.5 167.98h1.89v2.23h-1.89zM348.5 167.98h1.89v2.23h-1.89zM335.7 170.16h1.89v2.21h-1.89zM348.5 180.74h1.89v2.10h-1.89zM332 182.79h1.89v2.08h-1.89zM348.5 184.82h3.72v2.05h-3.72zM357.7 186.83h1.89v2.03h-1.89zM363.2 186.83h1.89v2.03h-1.89zM376.1 188.81h1.89v2.01h-1.89zM392.6 192.71h1.89v1.97h-1.89zM400 194.62h1.89v1.94h-1.89zM392.6 196.51h3.72v1.92h-3.72zM400 196.51h1.89v1.92h-1.89zM412.8 196.51h1.89v1.92h-1.89zM400 198.38h1.89v1.90h-1.89zM400 200.23h1.89v1.88h-1.89zM400 202.06h1.89v1.85h-1.89zM396.3 203.86h1.89v1.83h-1.89zM398.1 207.40h1.89v1.79h-1.89zM411 207.40h1.89v1.79h-1.89zM411 209.14h1.89v1.76h-1.89zM396.3 210.85h5.56v1.74h-5.56zM405.5 210.85h1.89v1.74h-1.89zM400 212.54h1.89v1.72h-1.89zM401.8 214.21h1.89v1.70h-1.89zM407.3 214.21h1.89v1.70h-1.89zM400 215.86h1.89v1.67h-1.89zM403.6 215.86h1.89v1.67h-1.89zM409.1 215.86h1.89v1.67h-1.89zM400 217.48h1.89v1.65h-1.89zM388.9 219.08h1.89v1.63h-1.89zM425.7 219.08h1.89v1.63h-1.89zM400 220.66h1.89v1.61h-1.89zM412.8 220.66h1.89v1.61h-1.89zM394.4 222.22h3.72v1.58h-3.72zM392.6 225.26h1.89v1.54h-1.89zM376.1 232.49h1.89v1.43h-1.89zM381.6 232.49h1.89v1.43h-1.89zM377.9 233.87h1.89v1.41h-1.89zM383.4 233.87h1.89v1.41h-1.89zM379.8 235.22h1.89v1.38h-1.89zM366.9 236.55h1.89v1.36h-1.89zM372.4 236.55h1.89v1.36h-1.89zM377.9 236.55h1.89v1.36h-1.89zM381.6 236.55h1.89v1.36h-1.89zM407.3 236.55h1.89v1.36h-1.89zM376.1 237.86h1.89v1.34h-1.89zM401.8 237.86h1.89v1.34h-1.89zM414.6 237.86h1.89v1.34h-1.89zM355.9 239.15h1.89v1.32h-1.89zM374.2 239.15h1.89v1.32h-1.89zM403.6 239.15h1.89v1.32h-1.89zM409.1 239.15h3.72v1.32h-3.72zM366.9 240.42h1.89v1.29h-1.89zM381.6 241.66h1.89v1.27h-1.89zM394.4 241.66h1.89v1.27h-1.89zM363.2 242.88h1.89v1.25h-1.89zM352.2 244.08h1.89v1.23h-1.89zM368.7 244.08h1.89v1.23h-1.89zM403.6 244.08h1.89v1.23h-1.89zM377.9 246.41h1.89v1.18h-1.89zM394.4 246.41h1.89v1.18h-1.89zM423.8 247.54h1.89v1.16h-1.89zM398.1 250.80h1.89v1.09h-1.89zM343 251.84h1.89v1.07h-1.89zM348.5 252.86h1.89v1.05h-1.89zM396.3 252.86h1.89v1.05h-1.89zM335.7 254.83h1.89v1.00h-1.89zM352.2 254.83h1.89v1.00h-1.89zM418.3 255.79h1.89v0.98h-1.89zM344.9 256.71h1.89v0.96h-1.89zM385.3 256.71h1.89v0.96h-1.89zM337.5 257.62h1.89v1.80h-1.89zM388.9 257.62h1.89v1.80h-1.89zM411 261.03h1.89v1.62h-1.89zM332 262.59h1.89v1.53h-1.89zM416.5 262.59h1.89v1.53h-1.89zM335.7 264.07h1.89v1.44h-1.89zM333.9 265.46h1.89v1.35h-1.89zM352.2 265.46h1.89v1.35h-1.89zM363.2 265.46h1.89v1.35h-1.89zM333.9 266.76h1.89v1.26h-1.89zM379.8 266.76h1.89v1.26h-1.89zM414.6 267.97h3.72v1.17h-3.72zM339.4 269.09h1.89v1.08h-1.89zM400 274.42h1.89v0.99h-1.89zM328.4 275.36h1.89v0.23h-1.89zM333.9 275.36h1.89v0.23h-1.89zM385.3 275.36h1.89v0.23h-1.89zM394.4 275.36h1.89v0.23h-1.89z"/>
<path fill="#00f341" d="M319.2 26.89h3.72v3.38h-3.72zM315.5 30.22h1.89v3.35h-1.89zM322.8 30.22h1.89v3.35h-1.89zM317.3 33.52h1.89v3.33h-1.89zM321 33.52h1.89v3.33h-1.89zM322.8 36.80h1.89v3.31h-1.89zM317.3 40.06h1.89v3.29h-1.89zM322.8 40.06h1.89v3.29h-1.89zM317.3 43.30h1.89v3.26h-1.89zM315.5 46.51h1.89v3.24h-1.89zM324.7 46.51h3.72v3.24h-3.72zM326.5 49.70h1.89v3.22h-1.89zM328.4 52.87h3.72v3.20h-3.72zM332 56.02h1.89v3.17h-1.89zM333.9 59.15h1.89v3.15h-1.89zM333.9 62.25h1.89v3.13h-1.89zM333.9 68.39h1.89v3.09h-1.89zM332 71.42h1.89v3.06h-1.89zM315.5 74.43h1.89v3.04h-1.89zM330.2 74.43h3.72v3.04h-3.72zM315.5 77.42h3.72v3.02h-3.72zM328.4 77.42h3.72v3.02h-3.72zM328.4 80.39h1.89v3.00h-1.89zM366.9 83.34h1.89v2.97h-1.89zM372.4 83.34h1.89v2.97h-1.89zM387.1 83.34h1.89v2.97h-1.89zM366.9 86.26h3.72v2.95h-3.72zM368.7 89.16h1.89v2.93h-1.89zM372.4 89.16h1.89v2.93h-1.89zM366.9 92.04h1.89v2.91h-1.89zM376.1 92.04h1.89v2.91h-1.89zM379.8 92.04h1.89v2.91h-1.89zM368.7 94.90h1.89v2.88h-1.89zM374.2 94.90h3.72v2.88h-3.72zM385.3 94.90h1.89v2.88h-1.89zM365.1 97.73h5.56v2.86h-5.56zM376.1 97.73h1.89v2.86h-1.89zM365.1 100.54h1.89v2.84h-1.89zM368.7 100.54h1.89v2.84h-1.89zM374.2 100.54h1.89v2.84h-1.89zM365.1 103.33h3.72v2.82h-3.72zM372.4 103.33h3.72v2.82h-3.72zM363.2 106.10h3.72v2.79h-3.72zM330.2 108.84h1.89v2.77h-1.89zM332 111.56h3.72v2.75h-3.72zM330.2 116.94h1.89v2.70h-1.89zM315.5 119.59h1.89v2.68h-1.89zM328.4 119.59h1.89v2.68h-1.89zM317.3 122.22h1.89v2.66h-1.89zM328.4 122.22h1.89v2.66h-1.89zM315.5 124.83h3.72v2.64h-3.72zM315.5 127.42h1.89v2.61h-1.89zM319.2 127.42h1.89v2.61h-1.89zM324.7 127.42h3.72v2.61h-3.72zM317.3 129.99h1.89v2.59h-1.89zM317.3 132.53h1.89v2.57h-1.89zM326.5 132.53h1.89v2.57h-1.89zM324.7 135.05h1.89v2.55h-1.89zM315.5 137.55h3.72v2.53h-3.72zM324.7 137.55h3.72v2.53h-3.72zM330.2 137.55h1.89v2.53h-1.89zM315.5 140.02h1.89v2.50h-1.89zM326.5 140.02h1.89v2.50h-1.89zM315.5 142.47h1.89v2.48h-1.89zM330.2 144.90h1.89v2.46h-1.89zM333.9 147.31h1.89v2.44h-1.89zM339.4 147.31h1.89v2.44h-1.89zM357.7 149.70h5.56v2.41h-5.56zM366.9 149.70h3.72v2.41h-3.72zM372.4 149.70h1.89v2.41h-1.89zM376.1 149.70h1.89v2.41h-1.89zM379.8 149.70h1.89v2.41h-1.89zM385.3 149.70h1.89v2.41h-1.89zM383.4 152.06h3.72v2.39h-3.72zM377.9 154.40h3.72v2.37h-3.72zM383.4 154.40h3.72v2.37h-3.72zM315.5 159.02h1.89v2.32h-1.89zM326.5 159.02h1.89v2.32h-1.89zM322.8 163.54h1.89v2.28h-1.89zM317.3 174.46h1.89v2.17h-1.89zM321 184.82h1.89v2.05h-1.89zM317.3 186.83h3.72v2.03h-3.72zM322.8 186.83h3.72v2.03h-3.72zM328.4 186.83h1.89v2.03h-1.89zM315.5 188.81h1.89v2.01h-1.89zM326.5 188.81h1.89v2.01h-1.89zM328.4 190.77h3.72v1.99h-3.72zM332 192.71h1.89v1.97h-1.89zM333.9 194.62h1.89v1.94h-1.89zM333.9 202.06h1.89v1.85h-1.89zM333.9 205.64h1.89v1.81h-1.89zM337.5 205.64h1.89v1.81h-1.89zM346.7 209.14h1.89v1.76h-1.89zM335.7 210.85h1.89v1.74h-1.89zM335.7 212.54h1.89v1.72h-1.89zM335.7 214.21h1.89v1.70h-1.89zM333.9 217.48h1.89v1.65h-1.89zM333.9 219.08h3.72v1.63h-3.72zM333.9 220.66h1.89v1.61h-1.89zM333.9 225.26h1.89v1.54h-1.89zM333.9 226.75h1.89v1.52h-1.89zM333.9 228.22h1.89v1.49h-1.89zM332 232.49h3.72v1.43h-3.72zM332 233.87h3.72v1.41h-3.72zM332 236.55h1.89v1.36h-1.89zM328.4 240.42h1.89v1.29h-1.89zM330.2 241.66h1.89v1.27h-1.89zM326.5 244.08h1.89v1.23h-1.89zM326.5 245.26h1.89v1.20h-1.89zM326.5 246.41h1.89v1.18h-1.89zM324.7 250.80h1.89v1.09h-1.89zM322.8 252.86h1.89v1.05h-1.89zM315.5 253.86h1.89v1.02h-1.89zM322.8 253.86h3.72v1.02h-3.72zM315.5 254.83h1.89v1.00h-1.89zM315.5 256.71h1.89v0.96h-1.89zM321 256.71h1.89v0.96h-1.89zM321 257.62h1.89v1.80h-1.89zM315.5 259.37h1.89v1.71h-1.89zM321 259.37h1.89v1.71h-1.89zM322.8 261.03h1.89v1.62h-1.89zM315.5 264.07h1.89v1.44h-1.89zM319.2 264.07h3.72v1.44h-3.72zM315.5 265.46h1.89v1.35h-1.89zM319.2 265.46h1.89v1.35h-1.89zM315.5 267.97h3.72v1.17h-3.72zM321 267.97h3.72v1.17h-3.72zM317.3 269.09h1.89v1.08h-1.89zM319.2 270.12h1.89v0.99h-1.89zM317.3 271.06h5.56v1.29h-5.56zM317.3 272.31h1.89v1.09h-1.89zM315.5 273.35h1.89v1.13h-1.89zM319.2 273.35h1.89v1.13h-1.89zM317.3 274.42h3.72v0.99h-3.72z"/>
<path fill="#00f528" d="M319.2 30.22h3.72v3.35h-3.72zM319.2 33.52h1.89v3.33h-1.89zM319.2 36.80h3.72v3.31h-3.72zM319.2 40.06h3.72v3.29h-3.72zM324.7 40.06h1.89v3.29h-1.89zM319.2 43.30h1.89v3.26h-1.89zM322.8 43.30h1.89v3.26h-1.89zM319.2 46.51h1.89v3.24h-1.89zM322.8 46.51h1.89v3.24h-1.89zM324.7 49.70h1.89v3.22h-1.89zM315.5 52.87h3.72v3.20h-3.72zM333.9 65.33h1.89v3.11h-1.89zM315.5 71.42h1.89v3.06h-1.89zM330.2 71.42h1.89v3.06h-1.89zM328.4 74.43h1.89v3.04h-1.89zM319.2 77.42h1.89v3.02h-1.89zM326.5 77.42h1.89v3.02h-1.89zM317.3 80.39h3.72v3.00h-3.72zM326.5 80.39h1.89v3.00h-1.89zM359.6 83.34h7.39v2.97h-7.39zM368.7 83.34h1.89v2.97h-1.89zM359.6 86.26h1.89v2.95h-1.89zM363.2 86.26h3.72v2.95h-3.72zM370.6 86.26h1.89v2.95h-1.89zM361.4 89.16h7.39v2.93h-7.39zM365.1 92.04h1.89v2.91h-1.89zM368.7 92.04h1.89v2.91h-1.89zM363.2 94.90h5.56v2.88h-5.56zM370.6 94.90h1.89v2.88h-1.89zM361.4 97.73h3.72v2.86h-3.72zM377.9 97.73h1.89v2.86h-1.89zM359.6 100.54h1.89v2.84h-1.89zM361.4 103.33h3.72v2.82h-3.72zM355.9 106.10h1.89v2.79h-1.89zM361.4 106.10h1.89v2.79h-1.89zM366.9 106.10h1.89v2.79h-1.89zM315.5 108.84h1.89v2.77h-1.89zM315.5 111.56h3.72v2.75h-3.72zM330.2 111.56h1.89v2.75h-1.89zM315.5 114.26h3.72v2.73h-3.72zM328.4 114.26h1.89v2.73h-1.89zM315.5 116.94h1.89v2.70h-1.89zM326.5 116.94h3.72v2.70h-3.72zM317.3 119.59h1.89v2.68h-1.89zM326.5 119.59h1.89v2.68h-1.89zM319.2 122.22h1.89v2.66h-1.89zM326.5 122.22h1.89v2.66h-1.89zM319.2 124.83h1.89v2.64h-1.89zM326.5 124.83h1.89v2.64h-1.89zM319.2 129.99h1.89v2.59h-1.89zM324.7 129.99h1.89v2.59h-1.89zM319.2 132.53h1.89v2.57h-1.89zM324.7 132.53h1.89v2.57h-1.89zM317.3 135.05h5.56v2.55h-5.56zM326.5 135.05h1.89v2.55h-1.89zM319.2 137.55h1.89v2.53h-1.89zM319.2 140.02h1.89v2.50h-1.89zM324.7 140.02h1.89v2.50h-1.89zM317.3 142.47h3.72v2.48h-3.72zM326.5 142.47h1.89v2.48h-1.89zM315.5 144.90h3.72v2.46h-3.72zM328.4 144.90h1.89v2.46h-1.89zM315.5 147.31h1.89v2.44h-1.89zM332 147.31h1.89v2.44h-1.89zM341.2 149.70h1.89v2.41h-1.89zM344.9 149.70h11.07v2.41h-11.07zM363.2 149.70h1.89v2.41h-1.89zM370.6 149.70h1.89v2.41h-1.89zM374.2 149.70h1.89v2.41h-1.89zM377.9 149.70h1.89v2.41h-1.89zM381.6 149.70h1.89v2.41h-1.89zM365.1 152.06h1.89v2.39h-1.89zM370.6 152.06h1.89v2.39h-1.89zM374.2 152.06h5.56v2.39h-5.56zM381.6 152.06h1.89v2.39h-1.89zM368.7 154.40h1.89v2.37h-1.89zM376.1 154.40h1.89v2.37h-1.89zM381.6 154.40h1.89v2.37h-1.89zM322.8 156.72h3.72v2.35h-3.72zM319.2 184.82h1.89v2.05h-1.89zM321 186.83h1.89v2.03h-1.89zM317.3 188.81h1.89v2.01h-1.89zM324.7 188.81h1.89v2.01h-1.89zM315.5 190.77h3.72v1.99h-3.72zM315.5 192.71h1.89v1.97h-1.89zM330.2 192.71h1.89v1.97h-1.89zM330.2 194.62h1.89v1.94h-1.89zM344.9 194.62h1.89v1.94h-1.89zM332 196.51h1.89v1.92h-1.89zM332 198.38h1.89v1.90h-1.89zM332 202.06h1.89v1.85h-1.89zM333.9 207.40h1.89v1.79h-1.89zM333.9 209.14h1.89v1.76h-1.89zM333.9 214.21h1.89v1.70h-1.89zM333.9 215.86h1.89v1.67h-1.89zM332 219.08h1.89v1.63h-1.89zM333.9 222.22h1.89v1.58h-1.89zM368.7 222.22h1.89v1.58h-1.89zM333.9 223.75h1.89v1.56h-1.89zM332 229.67h1.89v1.47h-1.89zM339.4 229.67h1.89v1.47h-1.89zM332 231.09h1.89v1.45h-1.89zM330.2 235.22h1.89v1.38h-1.89zM330.2 236.55h1.89v1.36h-1.89zM328.4 239.15h1.89v1.32h-1.89zM326.5 241.66h3.72v1.27h-3.72zM328.4 242.88h1.89v1.25h-1.89zM315.5 245.26h1.89v1.20h-1.89zM315.5 246.41h1.89v1.18h-1.89zM324.7 246.41h1.89v1.18h-1.89zM315.5 247.54h1.89v1.16h-1.89zM324.7 247.54h1.89v1.16h-1.89zM315.5 248.65h1.89v1.14h-1.89zM315.5 249.74h3.72v1.11h-3.72zM315.5 250.80h3.72v1.09h-3.72zM322.8 250.80h1.89v1.09h-1.89zM315.5 251.84h1.89v1.07h-1.89zM322.8 251.84h1.89v1.07h-1.89zM315.5 252.86h3.72v1.05h-3.72zM319.2 253.86h3.72v1.02h-3.72zM315.5 255.79h3.72v0.98h-3.72zM321 255.79h1.89v0.98h-1.89zM317.3 256.71h3.72v0.96h-3.72zM315.5 257.62h5.56v1.80h-5.56zM317.3 259.37h1.89v1.71h-1.89zM317.3 261.03h3.72v1.62h-3.72zM315.5 262.59h5.56v1.53h-5.56zM317.3 264.07h1.89v1.44h-1.89zM317.3 265.46h1.89v1.35h-1.89zM321 265.46h1.89v1.35h-1.89zM315.5 266.76h5.56v1.26h-5.56zM319.2 267.97h1.89v1.17h-1.89z"/>
<path fill="#0cf717" d="M321 43.30h1.89v3.26h-1.89zM321 46.51h1.89v3.24h-1.89zM319.2 49.70h5.56v3.22h-5.56zM319.2 52.87h1.89v3.20h-1.89zM326.5 52.87h1.89v3.20h-1.89zM315.5 56.02h3.72v3.17h-3.72zM330.2 56.02h1.89v3.17h-1.89zM332 59.15h1.89v3.15h-1.89zM332 62.25h1.89v3.13h-1.89zM315.5 68.39h1.89v3.09h-1.89zM332 68.39h1.89v3.09h-1.89zM317.3 71.42h1.89v3.06h-1.89zM317.3 74.43h3.72v3.04h-3.72zM322.8 74.43h5.56v3.04h-5.56zM322.8 80.39h3.72v3.00h-3.72zM355.9 83.34h3.72v2.97h-3.72zM354.1 86.26h1.89v2.95h-1.89zM357.7 86.26h1.89v2.95h-1.89zM361.4 86.26h1.89v2.95h-1.89zM359.6 89.16h1.89v2.93h-1.89zM357.7 92.04h7.39v2.91h-7.39zM359.6 94.90h3.72v2.88h-3.72zM357.7 97.73h3.72v2.86h-3.72zM357.7 100.54h1.89v2.84h-1.89zM361.4 100.54h3.72v2.84h-3.72zM366.9 100.54h1.89v2.84h-1.89zM352.2 103.33h1.89v2.82h-1.89zM357.7 103.33h3.72v2.82h-3.72zM357.7 106.10h3.72v2.79h-3.72zM317.3 108.84h1.89v2.77h-1.89zM328.4 108.84h1.89v2.77h-1.89zM319.2 111.56h1.89v2.75h-1.89zM328.4 111.56h1.89v2.75h-1.89zM319.2 114.26h1.89v2.73h-1.89zM326.5 114.26h1.89v2.73h-1.89zM317.3 116.94h3.72v2.70h-3.72zM319.2 119.59h3.72v2.68h-3.72zM321 122.22h5.56v2.66h-5.56zM322.8 124.83h3.72v2.64h-3.72zM322.8 127.42h1.89v2.61h-1.89zM321 129.99h3.72v2.59h-3.72zM322.8 132.53h1.89v2.57h-1.89zM322.8 135.05h1.89v2.55h-1.89zM321 137.55h3.72v2.53h-3.72zM317.3 140.02h1.89v2.50h-1.89zM321 140.02h3.72v2.50h-3.72zM321 142.47h3.72v2.48h-3.72zM319.2 144.90h1.89v2.46h-1.89zM326.5 144.90h1.89v2.46h-1.89zM317.3 147.31h1.89v2.44h-1.89zM330.2 147.31h1.89v2.44h-1.89zM339.4 149.70h1.89v2.41h-1.89zM343 149.70h1.89v2.41h-1.89zM365.1 149.70h1.89v2.41h-1.89zM363.2 152.06h1.89v2.39h-1.89zM366.9 152.06h3.72v2.39h-3.72zM372.4 152.06h1.89v2.39h-1.89zM379.8 152.06h1.89v2.39h-1.89zM355.9 154.40h1.89v2.37h-1.89zM363.2 154.40h5.56v2.37h-5.56zM370.6 154.40h5.56v2.37h-5.56zM319.2 156.72h3.72v2.35h-3.72zM319.2 188.81h5.56v2.01h-5.56zM319.2 190.77h1.89v1.99h-1.89zM326.5 190.77h1.89v1.99h-1.89zM317.3 192.71h1.89v1.97h-1.89zM328.4 192.71h1.89v1.97h-1.89zM315.5 194.62h5.56v1.94h-5.56zM328.4 194.62h1.89v1.94h-1.89zM315.5 196.51h1.89v1.92h-1.89zM330.2 196.51h1.89v1.92h-1.89zM315.5 198.38h1.89v1.90h-1.89zM333.9 198.38h1.89v1.90h-1.89zM332 200.23h1.89v1.88h-1.89zM355.9 202.06h1.89v1.85h-1.89zM332 205.64h1.89v1.81h-1.89zM332 210.85h3.72v1.74h-3.72zM333.9 212.54h1.89v1.72h-1.89zM332 214.21h1.89v1.70h-1.89zM332 215.86h1.89v1.67h-1.89zM332 217.48h1.89v1.65h-1.89zM332 220.66h1.89v1.61h-1.89zM332 222.22h1.89v1.58h-1.89zM332 223.75h1.89v1.56h-1.89zM332 225.26h1.89v1.54h-1.89zM332 226.75h1.89v1.52h-1.89zM332 228.22h1.89v1.49h-1.89zM330.2 231.09h1.89v1.45h-1.89zM330.2 232.49h1.89v1.43h-1.89zM315.5 233.87h1.89v1.41h-1.89zM330.2 233.87h1.89v1.41h-1.89zM315.5 235.22h1.89v1.38h-1.89zM315.5 237.86h1.89v1.34h-1.89zM328.4 237.86h1.89v1.34h-1.89zM315.5 239.15h1.89v1.32h-1.89zM315.5 240.42h1.89v1.29h-1.89zM326.5 240.42h1.89v1.29h-1.89zM315.5 241.66h1.89v1.27h-1.89zM315.5 242.88h3.72v1.25h-3.72zM326.5 242.88h1.89v1.25h-1.89zM315.5 244.08h1.89v1.23h-1.89zM319.2 244.08h1.89v1.23h-1.89zM324.7 244.08h1.89v1.23h-1.89zM317.3 245.26h1.89v1.20h-1.89zM324.7 245.26h1.89v1.20h-1.89zM317.3 247.54h1.89v1.16h-1.89zM317.3 248.65h1.89v1.14h-1.89zM322.8 248.65h1.89v1.14h-1.89zM322.8 249.74h1.89v1.11h-1.89zM319.2 250.80h1.89v1.09h-1.89zM317.3 251.84h3.72v1.07h-3.72zM319.2 252.86h3.72v1.05h-3.72zM317.3 253.86h1.89v1.02h-1.89zM317.3 254.83h5.56v1.00h-5.56zM319.2 255.79h1.89v0.98h-1.89zM324.7 256.71h1.89v0.96h-1.89zM319.2 259.37h1.89v1.71h-1.89zM317.3 273.35h1.89v1.13h-1.89z"/>
<path fill="#19f907" d="M321 52.87h5.56v3.20h-5.56zM319.2 56.02h1.89v3.17h-1.89zM315.5 59.15h3.72v3.15h-3.72zM315.5 62.25h3.72v3.13h-3.72zM315.5 65.33h1.89v3.11h-1.89zM332 65.33h1.89v3.11h-1.89zM330.2 68.39h1.89v3.09h-1.89zM319.2 71.42h1.89v3.06h-1.89zM328.4 71.42h1.89v3.06h-1.89zM321 74.43h1.89v3.04h-1.89zM321 77.42h5.56v3.02h-5.56zM321 80.39h1.89v3.00h-1.89zM348.5 83.34h7.39v2.97h-7.39zM350.4 86.26h1.89v2.95h-1.89zM355.9 86.26h1.89v2.95h-1.89zM354.1 89.16h5.56v2.93h-5.56zM354.1 92.04h3.72v2.91h-3.72zM354.1 94.90h1.89v2.88h-1.89zM357.7 94.90h1.89v2.88h-1.89zM354.1 97.73h1.89v2.86h-1.89zM352.2 100.54h5.56v2.84h-5.56zM348.5 103.33h3.72v2.82h-3.72zM354.1 103.33h3.72v2.82h-3.72zM352.2 106.10h3.72v2.79h-3.72zM319.2 108.84h1.89v2.77h-1.89zM322.8 108.84h5.56v2.77h-5.56zM321 111.56h7.39v2.75h-7.39zM321 114.26h5.56v2.73h-5.56zM321 116.94h5.56v2.70h-5.56zM322.8 119.59h3.72v2.68h-3.72zM321 124.83h1.89v2.64h-1.89zM321 127.42h1.89v2.61h-1.89zM321 132.53h1.89v2.57h-1.89zM324.7 142.47h1.89v2.48h-1.89zM321 144.90h1.89v2.46h-1.89zM324.7 144.90h1.89v2.46h-1.89zM328.4 147.31h1.89v2.44h-1.89zM333.9 149.70h5.56v2.41h-5.56zM355.9 149.70h1.89v2.41h-1.89zM344.9 152.06h1.89v2.39h-1.89zM348.5 152.06h1.89v2.39h-1.89zM352.2 152.06h11.07v2.39h-11.07zM350.4 154.40h1.89v2.37h-1.89zM354.1 154.40h1.89v2.37h-1.89zM357.7 154.40h5.56v2.37h-5.56zM319.2 192.71h1.89v1.97h-1.89zM326.5 192.71h1.89v1.97h-1.89zM317.3 196.51h1.89v1.92h-1.89zM328.4 196.51h1.89v1.92h-1.89zM317.3 198.38h1.89v1.90h-1.89zM330.2 198.38h1.89v1.90h-1.89zM315.5 200.23h1.89v1.88h-1.89zM330.2 200.23h1.89v1.88h-1.89zM315.5 202.06h1.89v1.85h-1.89zM315.5 203.86h1.89v1.83h-1.89zM330.2 203.86h3.72v1.83h-3.72zM332 207.40h1.89v1.79h-1.89zM332 209.14h1.89v1.76h-1.89zM315.5 212.54h1.89v1.72h-1.89zM332 212.54h1.89v1.72h-1.89zM315.5 222.22h1.89v1.58h-1.89zM315.5 225.26h1.89v1.54h-1.89zM330.2 225.26h1.89v1.54h-1.89zM315.5 226.75h1.89v1.52h-1.89zM330.2 226.75h1.89v1.52h-1.89zM315.5 228.22h1.89v1.49h-1.89zM315.5 229.67h1.89v1.47h-1.89zM330.2 229.67h1.89v1.47h-1.89zM315.5 231.09h1.89v1.45h-1.89zM315.5 232.49h1.89v1.43h-1.89zM328.4 232.49h1.89v1.43h-1.89zM328.4 235.22h1.89v1.38h-1.89zM315.5 236.55h1.89v1.36h-1.89zM328.4 236.55h1.89v1.36h-1.89zM317.3 237.86h1.89v1.34h-1.89zM326.5 237.86h1.89v1.34h-1.89zM317.3 239.15h1.89v1.32h-1.89zM326.5 239.15h1.89v1.32h-1.89zM317.3 241.66h1.89v1.27h-1.89zM322.8 242.88h3.72v1.25h-3.72zM317.3 244.08h1.89v1.23h-1.89zM319.2 245.26h1.89v1.20h-1.89zM317.3 246.41h3.72v1.18h-3.72zM322.8 246.41h1.89v1.18h-1.89zM319.2 247.54h1.89v1.16h-1.89zM322.8 247.54h1.89v1.16h-1.89zM319.2 248.65h1.89v1.14h-1.89zM319.2 249.74h3.72v1.11h-3.72zM321 250.80h1.89v1.09h-1.89zM321 251.84h1.89v1.07h-1.89z"/>
<path fill="#32f900" d="M321 56.02h9.23v3.17h-9.23zM319.2 59.15h1.89v3.15h-1.89zM328.4 59.15h3.72v3.15h-3.72zM319.2 62.25h1.89v3.13h-1.89zM317.3 65.33h1.89v3.11h-1.89zM330.2 65.33h1.89v3.11h-1.89zM317.3 68.39h1.89v3.09h-1.89zM328.4 68.39h1.89v3.09h-1.89zM321 71.42h7.39v3.06h-7.39zM346.7 83.34h1.89v2.97h-1.89zM346.7 86.26h3.72v2.95h-3.72zM352.2 86.26h1.89v2.95h-1.89zM350.4 89.16h3.72v2.93h-3.72zM348.5 92.04h5.56v2.91h-5.56zM346.7 94.90h1.89v2.88h-1.89zM350.4 94.90h3.72v2.88h-3.72zM355.9 94.90h1.89v2.88h-1.89zM348.5 97.73h5.56v2.86h-5.56zM355.9 97.73h1.89v2.86h-1.89zM348.5 100.54h3.72v2.84h-3.72zM344.9 103.33h1.89v2.82h-1.89zM346.7 106.10h5.56v2.79h-5.56zM321 108.84h1.89v2.77h-1.89zM322.8 144.90h1.89v2.46h-1.89zM319.2 147.31h3.72v2.44h-3.72zM324.7 147.31h3.72v2.44h-3.72zM332 149.70h1.89v2.41h-1.89zM346.7 152.06h1.89v2.39h-1.89zM350.4 152.06h1.89v2.39h-1.89zM343 154.40h7.39v2.37h-7.39zM352.2 154.40h1.89v2.37h-1.89zM321 190.77h5.56v1.99h-5.56zM321 192.71h5.56v1.97h-5.56zM322.8 194.62h5.56v1.94h-5.56zM319.2 196.51h1.89v1.92h-1.89zM322.8 196.51h3.72v1.92h-3.72zM324.7 198.38h3.72v1.90h-3.72zM317.3 200.23h1.89v1.88h-1.89zM328.4 200.23h1.89v1.88h-1.89zM317.3 202.06h1.89v1.85h-1.89zM321 202.06h1.89v1.85h-1.89zM324.7 202.06h1.89v1.85h-1.89zM328.4 202.06h3.72v1.85h-3.72zM317.3 203.86h3.72v1.83h-3.72zM324.7 203.86h1.89v1.83h-1.89zM315.5 205.64h1.89v1.81h-1.89zM330.2 205.64h1.89v1.81h-1.89zM315.5 207.40h1.89v1.79h-1.89zM330.2 207.40h1.89v1.79h-1.89zM315.5 209.14h1.89v1.76h-1.89zM328.4 209.14h3.72v1.76h-3.72zM315.5 210.85h1.89v1.74h-1.89zM330.2 212.54h1.89v1.72h-1.89zM315.5 214.21h3.72v1.70h-3.72zM330.2 214.21h1.89v1.70h-1.89zM315.5 215.86h3.72v1.67h-3.72zM330.2 215.86h1.89v1.67h-1.89zM315.5 217.48h3.72v1.65h-3.72zM328.4 217.48h3.72v1.65h-3.72zM315.5 219.08h1.89v1.63h-1.89zM330.2 219.08h1.89v1.63h-1.89zM315.5 220.66h5.56v1.61h-5.56zM330.2 220.66h1.89v1.61h-1.89zM330.2 222.22h1.89v1.58h-1.89zM315.5 223.75h1.89v1.56h-1.89zM330.2 223.75h1.89v1.56h-1.89zM317.3 225.26h1.89v1.54h-1.89zM328.4 228.22h3.72v1.49h-3.72zM317.3 229.67h1.89v1.47h-1.89zM324.7 229.67h1.89v1.47h-1.89zM317.3 231.09h1.89v1.45h-1.89zM317.3 232.49h1.89v1.43h-1.89zM324.7 232.49h1.89v1.43h-1.89zM317.3 233.87h1.89v1.41h-1.89zM326.5 233.87h3.72v1.41h-3.72zM317.3 235.22h1.89v1.38h-1.89zM326.5 235.22h1.89v1.38h-1.89zM317.3 236.55h1.89v1.36h-1.89zM324.7 236.55h1.89v1.36h-1.89zM319.2 237.86h1.89v1.34h-1.89zM322.8 237.86h3.72v1.34h-3.72zM319.2 239.15h7.39v1.32h-7.39zM317.3 240.42h1.89v1.29h-1.89zM324.7 240.42h1.89v1.29h-1.89zM319.2 241.66h3.72v1.27h-3.72zM324.7 241.66h1.89v1.27h-1.89zM319.2 242.88h3.72v1.25h-3.72zM321 244.08h3.72v1.23h-3.72zM321 245.26h3.72v1.20h-3.72zM321 246.41h1.89v1.18h-1.89zM321 247.54h1.89v1.16h-1.89zM321 248.65h1.89v1.14h-1.89z"/>
<path fill="#53f700" d="M321 59.15h7.39v3.15h-7.39zM324.7 62.25h7.39v3.13h-7.39zM319.2 65.33h3.72v3.11h-3.72zM324.7 65.33h5.56v3.11h-5.56zM319.2 68.39h9.23v3.09h-9.23zM343 83.34h3.72v2.97h-3.72zM344.9 86.26h1.89v2.95h-1.89zM343 89.16h7.39v2.93h-7.39zM343 92.04h5.56v2.91h-5.56zM344.9 94.90h1.89v2.88h-1.89zM348.5 94.90h1.89v2.88h-1.89zM343 97.73h5.56v2.86h-5.56zM343 100.54h5.56v2.84h-5.56zM341.2 103.33h1.89v2.82h-1.89zM346.7 103.33h1.89v2.82h-1.89zM343 106.10h3.72v2.79h-3.72zM322.8 147.31h1.89v2.44h-1.89zM330.2 149.70h1.89v2.41h-1.89zM339.4 152.06h5.56v2.39h-5.56zM339.4 154.40h3.72v2.37h-3.72zM321 194.62h1.89v1.94h-1.89zM321 196.51h1.89v1.92h-1.89zM326.5 196.51h1.89v1.92h-1.89zM319.2 198.38h5.56v1.90h-5.56zM328.4 198.38h1.89v1.90h-1.89zM319.2 200.23h9.23v1.88h-9.23zM319.2 202.06h1.89v1.85h-1.89zM322.8 202.06h1.89v1.85h-1.89zM326.5 202.06h1.89v1.85h-1.89zM322.8 203.86h1.89v1.83h-1.89zM326.5 203.86h3.72v1.83h-3.72zM317.3 205.64h3.72v1.81h-3.72zM324.7 205.64h5.56v1.81h-5.56zM317.3 207.40h1.89v1.79h-1.89zM324.7 207.40h5.56v1.79h-5.56zM317.3 209.14h1.89v1.76h-1.89zM326.5 209.14h1.89v1.76h-1.89zM317.3 210.85h1.89v1.74h-1.89zM326.5 210.85h5.56v1.74h-5.56zM317.3 212.54h3.72v1.72h-3.72zM324.7 212.54h1.89v1.72h-1.89zM328.4 212.54h1.89v1.72h-1.89zM319.2 214.21h1.89v1.70h-1.89zM326.5 214.21h3.72v1.70h-3.72zM319.2 215.86h1.89v1.67h-1.89zM326.5 215.86h3.72v1.67h-3.72zM319.2 217.48h1.89v1.65h-1.89zM322.8 217.48h1.89v1.65h-1.89zM326.5 217.48h1.89v1.65h-1.89zM317.3 219.08h3.72v1.63h-3.72zM326.5 219.08h3.72v1.63h-3.72zM324.7 220.66h5.56v1.61h-5.56zM317.3 222.22h3.72v1.58h-3.72zM324.7 222.22h5.56v1.58h-5.56zM317.3 223.75h3.72v1.56h-3.72zM324.7 223.75h5.56v1.56h-5.56zM326.5 225.26h3.72v1.54h-3.72zM317.3 226.75h1.89v1.52h-1.89zM322.8 226.75h7.39v1.52h-7.39zM317.3 228.22h1.89v1.49h-1.89zM324.7 228.22h3.72v1.49h-3.72zM319.2 229.67h1.89v1.47h-1.89zM326.5 229.67h3.72v1.47h-3.72zM319.2 231.09h1.89v1.45h-1.89zM322.8 231.09h1.89v1.45h-1.89zM326.5 231.09h3.72v1.45h-3.72zM319.2 232.49h5.56v1.43h-5.56zM326.5 232.49h1.89v1.43h-1.89zM319.2 233.87h7.39v1.41h-7.39zM319.2 235.22h7.39v1.38h-7.39zM319.2 236.55h1.89v1.36h-1.89zM322.8 236.55h1.89v1.36h-1.89zM326.5 236.55h1.89v1.36h-1.89zM321 237.86h1.89v1.34h-1.89zM319.2 240.42h5.56v1.29h-5.56zM322.8 241.66h1.89v1.27h-1.89z"/>
<path fill="#73f500" d="M321 62.25h3.72v3.13h-3.72zM322.8 65.33h1.89v3.11h-1.89zM341.2 83.34h1.89v2.97h-1.89zM341.2 86.26h3.72v2.95h-3.72zM339.4 89.16h3.72v2.93h-3.72zM341.2 92.04h1.89v2.91h-1.89zM341.2 94.90h3.72v2.88h-3.72zM341.2 97.73h1.89v2.86h-1.89zM341.2 100.54h1.89v2.84h-1.89zM339.4 103.33h1.89v2.82h-1.89zM343 103.33h1.89v2.82h-1.89zM337.5 106.10h1.89v2.79h-1.89zM341.2 106.10h1.89v2.79h-1.89zM315.5 149.70h3.72v2.41h-3.72zM324.7 149.70h5.56v2.41h-5.56zM337.5 152.06h1.89v2.39h-1.89zM321 203.86h1.89v1.83h-1.89zM321 205.64h3.72v1.81h-3.72zM319.2 207.40h5.56v1.79h-5.56zM319.2 209.14h7.39v1.76h-7.39zM319.2 210.85h7.39v1.74h-7.39zM321 212.54h3.72v1.72h-3.72zM326.5 212.54h1.89v1.72h-1.89zM321 214.21h5.56v1.70h-5.56zM321 215.86h5.56v1.67h-5.56zM321 217.48h1.89v1.65h-1.89zM324.7 217.48h1.89v1.65h-1.89zM321 219.08h5.56v1.63h-5.56zM321 220.66h3.72v1.61h-3.72zM321 222.22h3.72v1.58h-3.72zM321 223.75h3.72v1.56h-3.72zM319.2 225.26h7.39v1.54h-7.39zM319.2 226.75h3.72v1.52h-3.72zM319.2 228.22h5.56v1.49h-5.56zM321 229.67h3.72v1.47h-3.72zM321 231.09h1.89v1.45h-1.89zM324.7 231.09h1.89v1.45h-1.89zM321 236.55h1.89v1.36h-1.89z"/>
<path fill="#fbec00" d="M315.5 83.34h5.56v2.97h-5.56zM317.3 86.26h3.72v2.95h-3.72zM315.5 89.16h7.39v2.93h-7.39zM324.7 89.16h1.89v2.93h-1.89zM315.5 92.04h11.07v2.91h-11.07zM315.5 94.90h3.72v2.88h-3.72zM321 94.90h5.56v2.88h-5.56zM315.5 97.73h5.56v2.86h-5.56zM315.5 100.54h1.89v2.84h-1.89zM321 100.54h3.72v2.84h-3.72zM315.5 103.33h1.89v2.82h-1.89zM319.2 103.33h3.72v2.82h-3.72zM319.2 106.10h1.89v2.79h-1.89zM330.2 152.06h1.89v2.39h-1.89zM330.2 154.40h1.89v2.37h-1.89z"/>
<path fill="#ecf400" d="M321 83.34h5.56v2.97h-5.56zM315.5 86.26h1.89v2.95h-1.89zM321 86.26h5.56v2.95h-5.56zM322.8 89.16h1.89v2.93h-1.89zM326.5 92.04h3.72v2.91h-3.72zM326.5 94.90h3.72v2.88h-3.72zM321 97.73h7.39v2.86h-7.39zM324.7 100.54h1.89v2.84h-1.89zM317.3 103.33h1.89v2.82h-1.89zM322.8 103.33h7.39v2.82h-7.39zM315.5 106.10h3.72v2.79h-3.72zM321 106.10h1.89v2.79h-1.89zM324.7 106.10h1.89v2.79h-1.89zM332 152.06h1.89v2.39h-1.89zM332 154.40h1.89v2.37h-1.89z"/>
<path fill="#d5f500" d="M326.5 83.34h5.56v2.97h-5.56zM326.5 86.26h5.56v2.95h-5.56zM326.5 89.16h7.39v2.93h-7.39zM330.2 92.04h1.89v2.91h-1.89zM330.2 94.90h3.72v2.88h-3.72zM328.4 97.73h5.56v2.86h-5.56zM326.5 100.54h5.56v2.84h-5.56zM330.2 103.33h1.89v2.82h-1.89zM322.8 106.10h1.89v2.79h-1.89zM326.5 106.10h5.56v2.79h-5.56z"/>
<path fill="#bdf500" d="M332 83.34h1.89v2.97h-1.89zM332 92.04h5.56v2.91h-5.56zM333.9 94.90h3.72v2.88h-3.72zM333.9 97.73h1.89v2.86h-1.89zM332 100.54h1.89v2.84h-1.89zM332 103.33h1.89v2.82h-1.89zM332 106.10h1.89v2.79h-1.89zM333.9 152.06h1.89v2.39h-1.89zM333.9 154.40h1.89v2.37h-1.89z"/>
<path fill="#a5f500" d="M333.9 83.34h3.72v2.97h-3.72zM332 86.26h5.56v2.95h-5.56zM333.9 89.16h3.72v2.93h-3.72zM337.5 92.04h1.89v2.91h-1.89zM335.7 97.73h3.72v2.86h-3.72zM333.9 100.54h3.72v2.84h-3.72zM333.9 103.33h3.72v2.82h-3.72zM333.9 106.10h3.72v2.79h-3.72zM321 149.70h1.89v2.41h-1.89zM335.7 152.06h1.89v2.39h-1.89zM335.7 154.40h1.89v2.37h-1.89z"/>
<path fill="#8cf500" d="M337.5 83.34h3.72v2.97h-3.72zM337.5 86.26h3.72v2.95h-3.72zM337.5 89.16h1.89v2.93h-1.89zM339.4 92.04h1.89v2.91h-1.89zM337.5 94.90h3.72v2.88h-3.72zM339.4 97.73h1.89v2.86h-1.89zM337.5 100.54h3.72v2.84h-3.72zM337.5 103.33h1.89v2.82h-1.89zM339.4 106.10h1.89v2.79h-1.89zM319.2 149.70h1.89v2.41h-1.89zM322.8 149.70h1.89v2.41h-1.89zM337.5 154.40h1.89v2.37h-1.89z"/>
<path fill="#fdd700" d="M319.2 94.90h1.89v2.88h-1.89zM317.3 100.54h3.72v2.84h-3.72zM328.4 152.06h1.89v2.39h-1.89z"/>
<path fill="#ff9100" d="M315.5 152.06h1.89v2.39h-1.89zM315.5 154.40h1.89v2.37h-1.89zM324.7 154.40h1.89v2.37h-1.89z"/>
<path fill="#ff6200" d="M317.3 152.06h1.89v2.39h-1.89zM321 152.06h3.72v2.39h-3.72zM321 154.40h1.89v2.37h-1.89z"/>
<path fill="#ff7800" d="M319.2 152.06h1.89v2.39h-1.89zM324.7 152.06h1.89v2.39h-1.89zM317.3 154.40h3.72v2.37h-3.72zM322.8 154.40h1.89v2.37h-1.89z"/>
<path fill="#ffaa00" d="M326.5 152.06h1.89v2.39h-1.89zM326.5 154.40h1.89v2.37h-1.89z"/>
<path fill="#ffc200" d="M328.4 154.40h1.89v2.37h-1.89z"/>
</g>
<rect x="317.7" y="84.3" width="107.6" height="24.1" fill="none" stroke="#f6da00" stroke-width="1.5"/>
<rect x="318.3" y="163.4" width="107.6" height="24.1" fill="none" stroke="#f6da00" stroke-width="1.5" stroke-dasharray="4.6 2.4"/>
<path d="M48.6 25.4C50.5 28.2 55.2 35.4 58.2 39.6C61.2 43.8 61.8 42.7 63.7 46.2C65.6 49.7 68.6 52.9 67.7 57.2C66.8 61.5 61.2 64.2 59.3 67.5C57.4 70.8 59.8 70.5 58 73.6C56.2 76.7 51.2 79.5 50.3 83.2C49.4 86.9 51 88.1 53.6 92C56.2 95.9 60.6 98.7 63.3 102.9C66 107.1 65.5 109.5 67 113C68.5 116.5 69.7 117.7 70.6 120.5C71.5 123.3 71.9 124.4 71.7 127C71.5 129.6 69.8 131 69.5 133.6C69.2 136.2 70 137.6 70.2 140C70.4 142.4 71.2 142.1 70.6 145.4C70 148.7 67.4 152.4 67.3 156.3C67.2 160.2 69.1 161.5 70 165C70.9 168.5 71.4 170.4 71.7 173.9C72 177.4 69.9 179.2 71.7 182.7C73.5 186.2 78.4 188.7 80.5 191.4C82.6 194.1 80.5 193.6 82 196C83.5 198.4 86.4 200 88.1 203.2C89.8 206.4 90.4 208.6 90.3 211.9C90.2 215.2 87.3 216.1 87.5 219.6C87.7 223.1 90.4 225.3 91.4 229.5C92.4 233.7 91.6 235.8 92.5 240.5C93.4 245.2 95.4 248.9 95.8 253.2C96.2 257.5 94.5 258.6 94.7 261.9C94.9 265.2 97.3 267 96.9 269.6C96.5 272.2 93.4 273.7 92.5 274.7" fill="none" stroke="#00ee10" stroke-width="1.7" stroke-linejoin="round" stroke-linecap="round" />
<path d="M47.6 25.4C49.6 28.2 54.3 35.4 57.4 39.6C60.5 43.8 61 42.7 62.9 46.2C64.8 49.7 67.8 52.9 66.9 57.2C66 61.5 60.4 64.2 58.5 67.5C56.6 70.8 59.2 70.5 57.4 73.6C55.6 76.7 50.6 79.5 49.7 83.2C48.8 86.9 50.4 88.1 53 92C55.6 95.9 60.9 98.5 62.9 102.9C64.9 107.3 61.6 109.3 62.9 113.9C64.2 118.5 70.2 121.8 69.5 126C68.8 130.2 61.8 131.9 59.6 134.7C57.4 137.5 58.7 137.9 58.5 140C58.3 142.1 60 142.4 58.5 145.4C57 148.4 52.2 151.3 50.8 155.2C49.4 159.1 51.3 161.3 51.5 165C51.7 168.7 51.7 170.4 52 173.9C52.3 177.4 50.8 179.4 53 182.7C55.2 186 60.5 187.7 62.9 190.3C65.3 192.9 62.7 193 65.1 195.6C67.5 198.2 72.8 200.2 75 203.2C77.2 206.2 76.8 207.5 76.1 210.8C75.4 214.1 72.4 216.7 71.7 219.6C71 222.5 73 222.7 72.8 225.1C72.6 227.5 70.9 227.3 70.6 231.7C70.3 236.1 71.2 242.7 71.3 247C71.4 251.3 72.3 250.9 71.3 253.2C70.3 255.5 66.6 257.2 66.2 258.7C65.8 260.2 70.2 259.5 69.5 260.8C68.8 262.1 63.1 263 62.9 265.2C62.7 267.4 68.8 269.9 68.4 271.8C68 273.7 62.2 274.1 60.7 274.7" fill="none" stroke="#2400f4" stroke-width="1.7" stroke-linejoin="round" stroke-linecap="round" />
<path d="M64 25.4C65.8 27.1 70.2 30.2 72.8 34.1C75.4 38 74.4 40.5 77.2 45.1C80 49.7 86 53 86.6 57.2C87.2 61.4 82.3 62.3 80 66C77.7 69.7 77.1 71.7 75 75.8C72.9 79.9 69.7 83.1 69.5 86.5C69.3 89.9 71 89.7 73.9 93C76.8 96.3 81.2 98.9 83.8 102.9C86.4 106.9 84.8 108.4 87 112.8C89.2 117.2 94.3 120.3 94.7 124.9C95.1 129.5 89.7 132.6 89.2 135.8C88.7 139 91.6 139.5 92.3 141C93 142.5 93.8 140.6 92.5 143.2C91.2 145.8 87.5 150.2 86 154.1C84.5 158 84.3 158.9 84.9 162.9C85.5 166.9 88 169.9 88.8 173.9C89.6 177.9 87 179.8 88.8 182.7C90.6 185.6 96.2 185.7 98 188.2C99.8 190.7 96.7 192.7 98 195C99.3 197.3 103.3 196.7 104.6 199.9C105.9 203.1 105.7 207.1 104.6 210.8C103.5 214.5 99.3 215.6 99.1 218.5C98.9 221.4 103.5 222.5 103.5 225.1C103.5 227.7 99.5 228.6 99.1 231.7C98.7 234.8 101.3 237 101.3 240.5C101.3 244 99.8 246.8 99.1 249.3C98.4 251.8 98.7 251.1 98 253.2C97.3 255.3 95.6 258 95.8 259.7C96 261.4 98.9 260.8 99.1 261.9C99.3 263 96.2 263.2 96.9 265.2C97.6 267.2 102 269.9 102.4 271.8C102.8 273.7 99.8 274.1 99.1 274.7" fill="none" stroke="#ff2000" stroke-width="1.7" stroke-linejoin="round" stroke-linecap="round" />
<path d="M37.5 69.5C38.9 71.6 41.9 76.2 44.3 80C46.7 83.8 46.9 84.6 49.7 88.7C52.5 92.8 54.8 95.7 58.5 100.7C62.2 105.7 65.8 109.1 68.4 113.9C71 118.7 71.1 121 71.3 124.9C71.5 128.8 69.4 129.5 69.5 133.6C69.6 137.7 69.5 140 71.7 145.4C73.9 150.8 77 155 80.5 160.7C84 166.4 87.5 169.1 89.2 173.9C90.9 178.7 87.7 181 89.2 184.9C90.7 188.8 95.1 190.4 96.9 193.6C98.7 196.8 96.2 197.3 98 201C99.8 204.7 103.9 208 105.7 211.9C107.5 215.8 105.5 216.7 106.8 220.7C108.1 224.7 109.2 226.2 112.3 231.7C115.4 237.2 119.8 243.9 122.2 248.2C124.6 252.5 122.9 250 124.4 253.2C125.9 256.4 128.7 260.8 129.8 264.1C130.9 267.4 128.3 267.6 129.8 269.6C131.3 271.6 135.6 273.1 137.1 274" fill="none" stroke="#000" stroke-width="1.7" stroke-linejoin="round" stroke-linecap="round" />
<circle cx="137.3" cy="274.2" r="1.3" fill="#000"/>
<circle cx="99.5" cy="274.5" r="1.3" fill="#ff2000"/>
<path d="M204.5 25.4C203.3 26.9 198.8 29.7 198.5 33C198.2 36.3 200.5 38.5 202.9 41.8C205.3 45.1 209.5 46.6 210.6 49.5C211.7 52.4 208.7 52.2 208.4 56.1C208.1 60 210.2 65.5 209.1 69.2C208 72.9 205.5 71.9 202.9 74.7C200.3 77.5 197.6 79.8 196.3 83.2C195 86.6 198.4 87.1 196.3 91.9C194.2 96.7 187.8 102.5 185.8 107.3C183.8 112.1 184 112.6 186.5 116.1C189 119.6 193.7 121.8 198.5 124.9C203.3 128 207.5 129.2 210.6 131.4C213.7 133.6 213.5 133.7 213.9 135.8C214.3 137.9 212.3 139.5 212.8 142.1C213.3 144.7 217.8 145.6 216.5 148.7C215.2 151.8 209.1 154.1 206.2 157.4C203.3 160.7 204 162 201.8 165.1C199.6 168.2 195.4 170.2 195.2 172.8C195 175.4 197 175.9 200.7 178.3C204.4 180.7 214.1 181.8 213.9 184.9C213.7 188 201.4 190.2 199.6 193.6C197.8 197 206 198.2 205.1 202.1C204.2 206 194.3 209.1 195.2 213C196.1 216.9 208 218.5 209.5 221.8C211 225.1 202.9 226.6 202.5 229.5C202.1 232.4 207.7 233.5 207.3 236.1C206.9 238.7 203 239.9 200.7 242.7C198.4 245.5 195.9 247.6 195.9 249.9C195.9 252.2 199.3 252.5 200.7 254.3C202.1 256.1 203.4 256.5 202.9 258.7C202.4 260.9 197.2 263 198.1 265.2C199 267.4 205.7 268.3 207.3 269.6C208.9 270.9 206.4 271.4 206.2 271.8" fill="none" stroke="#000" stroke-width="1.7" stroke-linejoin="round" stroke-linecap="round" />
<path d="M206.2 271.8L185.4 273.6L192 274.5" fill="none" stroke="#000" stroke-width="1.7" stroke-linejoin="round" stroke-linecap="round" />
<path d="M275.3 25.4C275.8 25.9 280.3 29.4 280.4 30.8C280.5 32.2 276.9 39.1 276.4 40.7C275.9 42.3 275.9 46.9 275.3 48.4C274.7 49.9 270.6 55.8 270.5 57.2C270.4 58.6 273.5 62.9 274.2 63.8C274.9 64.7 277.7 66.1 277.5 67C277.3 67.9 272.2 72.6 272 73.6C271.8 74.6 275.9 76.7 275.3 77.7C274.7 78.7 265.1 83.1 265.5 84.3C265.9 85.5 279.6 89.2 279.7 90.8C279.8 92.4 267.3 100.1 266.6 101.8C265.9 103.5 273.1 107.9 272.7 109.5C272.3 111.1 263 118.3 262.2 119.4C261.4 120.5 264.7 120.8 264.4 121.6C264.1 122.4 259.6 127 259.5 128.2C259.4 129.4 262.7 133.5 263.3 134.7C263.9 135.9 266.3 139.4 265.5 141C264.7 142.6 253.2 149.4 254.5 151.5C255.8 153.6 278.5 161.8 279.3 164C280.1 166.2 264.7 173.5 263.3 175C261.9 176.5 265.8 179.4 264.4 180.5C263 181.6 248.3 185.6 247.9 186.6C247.5 187.6 258.9 190.6 260 191.4C261.1 192.2 259.7 194.1 260 194.7C260.3 195.3 263.2 196.6 263.3 197.7C263.4 198.8 261.8 204.8 261.1 206.5C260.4 208.2 256.9 214.4 255.6 216.3C254.3 218.2 247.4 226 247.2 227.3C247 228.6 253 229.9 253.4 230.6C253.8 231.3 250.8 234.1 251.2 235C251.6 235.9 257.2 239.5 257.8 240.5C258.4 241.5 257.8 245 257.8 245.5" fill="none" stroke="#ff2000" stroke-width="1.75" stroke-linejoin="round" stroke-linecap="round" />
<path d="M257.8 245.5L252.3 251L258.4 255.8L254 258L257.8 261.9L252.3 264.1L249 267.4L257.8 269.6L253.4 271.2L240.2 272.9L260 274.7L251.2 274.7" fill="none" stroke="#ff2000" stroke-width="1.75" stroke-linejoin="round" stroke-linecap="round" />
<path d="M559.6 25.4L551.9 31.5L538.1 34.6L538.1 38.1L544.7 41.8L541 47.3L555.2 50.6L558.5 52.8L569.5 57.2L579.4 62.7L578.3 66L569.5 70.3L565.1 74.4L555.2 79.9L561.8 82.7L591.4 85.8L584.8 88.7L585.5 91.5L595.8 94.1L591.4 97.4L596.9 104L594.7 105.6L581.6 107.7L564 112.8L549.7 118.3L546.4 122.7L534.4 129.7L539.9 133.3L537.2 135.5L548.6 143.2L572.8 150.2L597.4 152.4L593.6 154.6L597.4 156.8L594.3 159L599.1 161.4L520.1 165.1L519.7 168.4L515.7 171.7L525.6 173.9L525.6 177.2L528.9 178.3L509.6 182.7L530 184.9L511.3 187L532.2 188.2L548.6 193.3L568.4 196.1L573.9 198.8L579.8 204.3L577.2 211.9L571.7 215.2L575 222.9L564 229.5L560.7 236.1L551.9 238.7L549.7 242.7L544.3 246.6L536.6 249.2L524.5 251L538.8 252.7L530 254.9L538.8 256.5L527.8 259.3L539.9 260.8L517.9 262.6L532.2 264.1L505.8 265.9L531.1 267.4L517.9 268.5L535.5 270.3L519 271.8L532.2 272.9L519 274.5L532.2 274.7" fill="none" stroke="#ff2000" stroke-width="1.75" stroke-linejoin="round" stroke-linecap="round" />
<path d="M529.3 25.4V274.5" stroke="#ff2000" stroke-width="1.5" stroke-dasharray="4.8 4" fill="none"/>
<path d="M647.9 25.4L649.4 27.6L648.3 31.5L638.5 34.6L638 36.8L645 41.8L642.8 47.3L653.8 50.2L663.7 55L673.6 60L678.6 63.8L673.6 70.3L671.4 75.5L668 79.9L674.7 82.7L700.5 85.8L697.7 88.7L698.3 90.8L709.3 94.1L707.6 97.4L718.1 104.7L705.4 108.4L694.4 113.9L687.8 118.3L685.6 123.7L676.9 129.2L682.3 133.3L679 135.5L690 142.1L709.8 149.7L733.9 152.6L730.6 154.8L735 157.4L733.5 159.6L739.4 161.8L678.6 165.5L682.3 169.1L680.1 171.7L688.9 173.9L688.9 176.5L692.2 178.3L675.3 182.7L692.6 184.9L678.6 187L692.2 188.1L709.8 192.5L722.9 193.8L736.1 197.7L742.7 204.3L746 211.9L743.8 218.5L747.1 224L741.6 230.6L737.2 237.2L735.6 243.8L730.6 248.8L721.8 250.5L733.9 252.1L727.3 254.3L733.9 255.8L725.1 258.6L737.2 260.2L721.8 261.9L732.8 263.7L713 265.9L731.7 267.4L721.8 268.5L736.1 270.3L725.1 271.8L740.5 273.3L727.3 274.7" fill="none" stroke="#ff2000" stroke-width="1.75" stroke-linejoin="round" stroke-linecap="round" />
<path d="M647.9 25.4C650.4 26.7 656.6 29.3 660.4 31.9C664.2 34.5 664.8 36.1 667 38.5C669.2 40.9 667.7 41.1 671.4 44C675.1 46.9 681.7 50.2 685.6 52.8C689.5 55.4 689.8 55.8 690.7 57.2C691.6 58.6 692.3 58.7 690 60C687.7 61.3 682.3 62.3 679 63.8C675.7 65.3 675 65.8 673.6 67.5C672.2 69.2 672.6 71.1 672 72.5C671.4 73.9 672.6 72.9 670.7 74.4C668.8 75.9 665.1 77.3 662.6 79.9C660.1 82.5 658.2 85.2 658.2 87.6C658.2 90 659.3 89.9 662.6 91.9C665.9 93.9 670.3 95 674.7 97.4C679.1 99.8 682.1 101.4 684.5 104C686.9 106.6 684.3 108 686.7 110.6C689.1 113.2 692.4 114 696.6 117.2C700.8 120.4 706.1 124 707.6 126.6C709.1 129.2 706.4 128.3 704.3 130.3C702.2 132.3 697.7 134 697.3 136.6C696.9 139.2 703.1 139.7 702.1 143.2C701.1 146.7 695.4 150.5 692.2 154.1C689 157.7 686.1 158.5 686.1 161.4C686.1 164.3 690.3 165.7 692.2 168.4C694.1 171.1 694.8 172.4 695.5 175C696.2 177.6 692.4 179 695.5 181.6C698.6 184.2 707 185.5 710.9 188.1C714.8 190.7 711.7 192.1 715.2 194.7C718.7 197.3 725.5 198 728.4 201C731.3 204 730.8 206.2 729.5 209.7C728.2 213.2 721.8 215.4 721.8 218.5C721.8 221.6 729.3 222.5 729.5 225.1C729.7 227.7 723.6 228.8 722.9 231.7C722.2 234.6 725.3 236.2 726.2 239.4C727.1 242.6 727.5 245.4 727.3 247.7C727.1 250 724.8 249.8 725.1 251C725.4 252.2 729.4 252.4 729 253.6C728.6 254.8 723.5 255.7 722.9 257.1C722.3 258.5 726.1 259.4 726.2 260.8C726.3 262.2 723 262.6 723.4 264.1C723.8 265.6 726.3 266.7 728.4 268.5C730.5 270.3 734.8 271.7 733.9 272.9C733 274.1 726 274.3 724 274.7" fill="none" stroke="#2400f4" stroke-width="1.7" stroke-linejoin="round" stroke-linecap="round" />
<path d="M37.5 283.8h2M160 283.8h-2M37.5 276.9h2M160 276.9h-2M37.5 270h2M160 270h-2M37.5 263.1h2M160 263.1h-2M37.5 256.2h3.8M160 256.2h-3.8M37.5 249.4h2M160 249.4h-2M37.5 242.5h2M160 242.5h-2M37.5 235.6h2M160 235.6h-2M37.5 228.7h2M160 228.7h-2M37.5 221.8h3.8M160 221.8h-3.8M37.5 214.9h2M160 214.9h-2M37.5 208h2M160 208h-2M37.5 201.1h2M160 201.1h-2M37.5 194.2h2M160 194.2h-2M37.5 187.3h3.8M160 187.3h-3.8M37.5 180.5h2M160 180.5h-2M37.5 173.6h2M160 173.6h-2M37.5 166.7h2M160 166.7h-2M37.5 159.8h2M160 159.8h-2M37.5 152.9h3.8M160 152.9h-3.8M37.5 146h2M160 146h-2M37.5 139.1h2M160 139.1h-2M37.5 132.2h2M160 132.2h-2M37.5 125.3h2M160 125.3h-2M37.5 118.4h3.8M160 118.4h-3.8M37.5 111.6h2M160 111.6h-2M37.5 104.7h2M160 104.7h-2M37.5 97.8h2M160 97.8h-2M37.5 90.9h2M160 90.9h-2M37.5 84h3.8M160 84h-3.8M37.5 77.1h2M160 77.1h-2M37.5 70.2h2M160 70.2h-2M37.5 63.3h2M160 63.3h-2M37.5 56.4h2M160 56.4h-2M37.5 49.5h3.8M160 49.5h-3.8M37.5 42.7h2M160 42.7h-2M37.5 35.8h2M160 35.8h-2M37.5 28.9h2M160 28.9h-2M37.5 22h2M160 22h-2M41.5 15.1v2.6M41.5 290.7v-2.6M44.3 15.1v2.6M44.3 290.7v-2.6M46.5 15.1v2.6M46.5 290.7v-2.6M48.3 15.1v2.6M48.3 290.7v-2.6M49.8 15.1v2.6M49.8 290.7v-2.6M51.2 15.1v2.6M51.2 290.7v-2.6M52.3 15.1v2.6M52.3 290.7v-2.6M53.4 15.1v5.2M53.4 290.7v-5.2M60.2 15.1v2.6M60.2 290.7v-2.6M64.2 15.1v2.6M64.2 290.7v-2.6M67 15.1v2.6M67 290.7v-2.6M69.2 15.1v2.6M69.2 290.7v-2.6M71 15.1v2.6M71 290.7v-2.6M72.5 15.1v2.6M72.5 290.7v-2.6M73.9 15.1v2.6M73.9 290.7v-2.6M75 15.1v2.6M75 290.7v-2.6M76.1 15.1v5.2M76.1 290.7v-5.2M82.9 15.1v2.6M82.9 290.7v-2.6M86.9 15.1v2.6M86.9 290.7v-2.6M89.7 15.1v2.6M89.7 290.7v-2.6M91.9 15.1v2.6M91.9 290.7v-2.6M93.7 15.1v2.6M93.7 290.7v-2.6M95.2 15.1v2.6M95.2 290.7v-2.6M96.6 15.1v2.6M96.6 290.7v-2.6M97.7 15.1v2.6M97.7 290.7v-2.6M98.8 15.1v5.2M98.8 290.7v-5.2M105.6 15.1v2.6M105.6 290.7v-2.6M109.6 15.1v2.6M109.6 290.7v-2.6M112.4 15.1v2.6M112.4 290.7v-2.6M114.6 15.1v2.6M114.6 290.7v-2.6M116.4 15.1v2.6M116.4 290.7v-2.6M117.9 15.1v2.6M117.9 290.7v-2.6M119.2 15.1v2.6M119.2 290.7v-2.6M120.4 15.1v2.6M120.4 290.7v-2.6M121.4 15.1v5.2M121.4 290.7v-5.2M128.3 15.1v2.6M128.3 290.7v-2.6M132.3 15.1v2.6M132.3 290.7v-2.6M135.1 15.1v2.6M135.1 290.7v-2.6M137.3 15.1v2.6M137.3 290.7v-2.6M139.1 15.1v2.6M139.1 290.7v-2.6M140.6 15.1v2.6M140.6 290.7v-2.6M141.9 15.1v2.6M141.9 290.7v-2.6M143.1 15.1v2.6M143.1 290.7v-2.6M144.1 15.1v5.2M144.1 290.7v-5.2M151 15.1v2.6M151 290.7v-2.6M155 15.1v2.6M155 290.7v-2.6M157.8 15.1v2.6M157.8 290.7v-2.6" stroke="#000" stroke-width="0.9" fill="none"/>
<rect x="37.5" y="15.1" width="122.5" height="275.6" fill="none" stroke="#000" stroke-width="1.15"/>
<path d="M175.6 283.8h2M297.6 283.8h-2M175.6 276.9h2M297.6 276.9h-2M175.6 270h2M297.6 270h-2M175.6 263.1h2M297.6 263.1h-2M175.6 256.2h3.8M297.6 256.2h-3.8M175.6 249.4h2M297.6 249.4h-2M175.6 242.5h2M297.6 242.5h-2M175.6 235.6h2M297.6 235.6h-2M175.6 228.7h2M297.6 228.7h-2M175.6 221.8h3.8M297.6 221.8h-3.8M175.6 214.9h2M297.6 214.9h-2M175.6 208h2M297.6 208h-2M175.6 201.1h2M297.6 201.1h-2M175.6 194.2h2M297.6 194.2h-2M175.6 187.3h3.8M297.6 187.3h-3.8M175.6 180.5h2M297.6 180.5h-2M175.6 173.6h2M297.6 173.6h-2M175.6 166.7h2M297.6 166.7h-2M175.6 159.8h2M297.6 159.8h-2M175.6 152.9h3.8M297.6 152.9h-3.8M175.6 146h2M297.6 146h-2M175.6 139.1h2M297.6 139.1h-2M175.6 132.2h2M297.6 132.2h-2M175.6 125.3h2M297.6 125.3h-2M175.6 118.4h3.8M297.6 118.4h-3.8M175.6 111.6h2M297.6 111.6h-2M175.6 104.7h2M297.6 104.7h-2M175.6 97.8h2M297.6 97.8h-2M175.6 90.9h2M297.6 90.9h-2M175.6 84h3.8M297.6 84h-3.8M175.6 77.1h2M297.6 77.1h-2M175.6 70.2h2M297.6 70.2h-2M175.6 63.3h2M297.6 63.3h-2M175.6 56.4h2M297.6 56.4h-2M175.6 49.5h3.8M297.6 49.5h-3.8M175.6 42.7h2M297.6 42.7h-2M175.6 35.8h2M297.6 35.8h-2M175.6 28.9h2M297.6 28.9h-2M175.6 22h2M297.6 22h-2M181.6 15.1v2.6M181.6 290.7v-2.6M186.7 15.1v2.6M186.7 290.7v-2.6M191.1 15.1v2.6M191.1 290.7v-2.6M195 15.1v2.6M195 290.7v-2.6M198.5 15.1v5.2M198.5 290.7v-5.2M221.4 15.1v2.6M221.4 290.7v-2.6M234.9 15.1v2.6M234.9 290.7v-2.6M244.4 15.1v2.6M244.4 290.7v-2.6M251.8 15.1v2.6M251.8 290.7v-2.6M257.8 15.1v2.6M257.8 290.7v-2.6M262.9 15.1v2.6M262.9 290.7v-2.6M267.3 15.1v2.6M267.3 290.7v-2.6M271.2 15.1v2.6M271.2 290.7v-2.6M274.7 15.1v5.2M274.7 290.7v-5.2" stroke="#000" stroke-width="0.9" fill="none"/>
<rect x="175.6" y="15.1" width="122" height="275.6" fill="none" stroke="#000" stroke-width="1.15"/>
<path d="M314.4 283.8h2M436.8 283.8h-2M314.4 276.9h2M436.8 276.9h-2M314.4 270h2M436.8 270h-2M314.4 263.1h2M436.8 263.1h-2M314.4 256.2h3.8M436.8 256.2h-3.8M314.4 249.4h2M436.8 249.4h-2M314.4 242.5h2M436.8 242.5h-2M314.4 235.6h2M436.8 235.6h-2M314.4 228.7h2M436.8 228.7h-2M314.4 221.8h3.8M436.8 221.8h-3.8M314.4 214.9h2M436.8 214.9h-2M314.4 208h2M436.8 208h-2M314.4 201.1h2M436.8 201.1h-2M314.4 194.2h2M436.8 194.2h-2M314.4 187.3h3.8M436.8 187.3h-3.8M314.4 180.5h2M436.8 180.5h-2M314.4 173.6h2M436.8 173.6h-2M314.4 166.7h2M436.8 166.7h-2M314.4 159.8h2M436.8 159.8h-2M314.4 152.9h3.8M436.8 152.9h-3.8M314.4 146h2M436.8 146h-2M314.4 139.1h2M436.8 139.1h-2M314.4 132.2h2M436.8 132.2h-2M314.4 125.3h2M436.8 125.3h-2M314.4 118.4h3.8M436.8 118.4h-3.8M314.4 111.6h2M436.8 111.6h-2M314.4 104.7h2M436.8 104.7h-2M314.4 97.8h2M436.8 97.8h-2M314.4 90.9h2M436.8 90.9h-2M314.4 84h3.8M436.8 84h-3.8M314.4 77.1h2M436.8 77.1h-2M314.4 70.2h2M436.8 70.2h-2M314.4 63.3h2M436.8 63.3h-2M314.4 56.4h2M436.8 56.4h-2M314.4 49.5h3.8M436.8 49.5h-3.8M314.4 42.7h2M436.8 42.7h-2M314.4 35.8h2M436.8 35.8h-2M314.4 28.9h2M436.8 28.9h-2M314.4 22h2M436.8 22h-2M319 15.1v2.6M319 290.7v-2.6M322.6 15.1v2.6M322.6 290.7v-2.6M325.6 15.1v2.6M325.6 290.7v-2.6M328 15.1v2.6M328 290.7v-2.6M330.2 15.1v2.6M330.2 290.7v-2.6M332.1 15.1v2.6M332.1 290.7v-2.6M333.8 15.1v5.2M333.8 290.7v-5.2M344.9 15.1v2.6M344.9 290.7v-2.6M351.5 15.1v2.6M351.5 290.7v-2.6M356.1 15.1v2.6M356.1 290.7v-2.6M359.7 15.1v2.6M359.7 290.7v-2.6M362.6 15.1v2.6M362.6 290.7v-2.6M365.1 15.1v2.6M365.1 290.7v-2.6M367.3 15.1v2.6M367.3 290.7v-2.6M369.2 15.1v2.6M369.2 290.7v-2.6M370.9 15.1v5.2M370.9 290.7v-5.2M382 15.1v2.6M382 290.7v-2.6M388.6 15.1v2.6M388.6 290.7v-2.6M393.2 15.1v2.6M393.2 290.7v-2.6M396.8 15.1v2.6M396.8 290.7v-2.6M399.7 15.1v2.6M399.7 290.7v-2.6M402.2 15.1v2.6M402.2 290.7v-2.6M404.4 15.1v2.6M404.4 290.7v-2.6M406.3 15.1v2.6M406.3 290.7v-2.6M407.9 15.1v5.2M407.9 290.7v-5.2M419.1 15.1v2.6M419.1 290.7v-2.6M425.6 15.1v2.6M425.6 290.7v-2.6M430.3 15.1v2.6M430.3 290.7v-2.6M433.9 15.1v2.6M433.9 290.7v-2.6" stroke="#000" stroke-width="0.9" fill="none"/>
<rect x="314.4" y="15.1" width="122.4" height="275.6" fill="none" stroke="#000" stroke-width="1.15"/>
<path d="M493.3 283.8h2M615.6 283.8h-2M493.3 276.9h2M615.6 276.9h-2M493.3 270h2M615.6 270h-2M493.3 263.1h2M615.6 263.1h-2M493.3 256.2h3.8M615.6 256.2h-3.8M493.3 249.4h2M615.6 249.4h-2M493.3 242.5h2M615.6 242.5h-2M493.3 235.6h2M615.6 235.6h-2M493.3 228.7h2M615.6 228.7h-2M493.3 221.8h3.8M615.6 221.8h-3.8M493.3 214.9h2M615.6 214.9h-2M493.3 208h2M615.6 208h-2M493.3 201.1h2M615.6 201.1h-2M493.3 194.2h2M615.6 194.2h-2M493.3 187.3h3.8M615.6 187.3h-3.8M493.3 180.5h2M615.6 180.5h-2M493.3 173.6h2M615.6 173.6h-2M493.3 166.7h2M615.6 166.7h-2M493.3 159.8h2M615.6 159.8h-2M493.3 152.9h3.8M615.6 152.9h-3.8M493.3 146h2M615.6 146h-2M493.3 139.1h2M615.6 139.1h-2M493.3 132.2h2M615.6 132.2h-2M493.3 125.3h2M615.6 125.3h-2M493.3 118.4h3.8M615.6 118.4h-3.8M493.3 111.6h2M615.6 111.6h-2M493.3 104.7h2M615.6 104.7h-2M493.3 97.8h2M615.6 97.8h-2M493.3 90.9h2M615.6 90.9h-2M493.3 84h3.8M615.6 84h-3.8M493.3 77.1h2M615.6 77.1h-2M493.3 70.2h2M615.6 70.2h-2M493.3 63.3h2M615.6 63.3h-2M493.3 56.4h2M615.6 56.4h-2M493.3 49.5h3.8M615.6 49.5h-3.8M493.3 42.7h2M615.6 42.7h-2M493.3 35.8h2M615.6 35.8h-2M493.3 28.9h2M615.6 28.9h-2M493.3 22h2M615.6 22h-2M498.2 15.1v2.6M498.2 290.7v-2.6M501.7 15.1v2.6M501.7 290.7v-2.6M504.4 15.1v2.6M504.4 290.7v-2.6M506.6 15.1v2.6M506.6 290.7v-2.6M508.4 15.1v2.6M508.4 290.7v-2.6M510 15.1v2.6M510 290.7v-2.6M511.5 15.1v2.6M511.5 290.7v-2.6M512.7 15.1v5.2M512.7 290.7v-5.2M521.1 15.1v2.6M521.1 290.7v-2.6M526 15.1v2.6M526 290.7v-2.6M529.5 15.1v2.6M529.5 290.7v-2.6M532.2 15.1v2.6M532.2 290.7v-2.6M534.4 15.1v2.6M534.4 290.7v-2.6M536.2 15.1v2.6M536.2 290.7v-2.6M537.9 15.1v2.6M537.9 290.7v-2.6M539.3 15.1v2.6M539.3 290.7v-2.6M540.5 15.1v5.2M540.5 290.7v-5.2M548.9 15.1v2.6M548.9 290.7v-2.6M553.8 15.1v2.6M553.8 290.7v-2.6M557.3 15.1v2.6M557.3 290.7v-2.6M560 15.1v2.6M560 290.7v-2.6M562.2 15.1v2.6M562.2 290.7v-2.6M564 15.1v2.6M564 290.7v-2.6M565.7 15.1v2.6M565.7 290.7v-2.6M567.1 15.1v2.6M567.1 290.7v-2.6M568.4 15.1v5.2M568.4 290.7v-5.2M576.7 15.1v2.6M576.7 290.7v-2.6M581.6 15.1v2.6M581.6 290.7v-2.6M585.1 15.1v2.6M585.1 290.7v-2.6M587.8 15.1v2.6M587.8 290.7v-2.6M590 15.1v2.6M590 290.7v-2.6M591.9 15.1v2.6M591.9 290.7v-2.6M593.5 15.1v2.6M593.5 290.7v-2.6M594.9 15.1v2.6M594.9 290.7v-2.6M596.2 15.1v5.2M596.2 290.7v-5.2M604.5 15.1v2.6M604.5 290.7v-2.6M609.4 15.1v2.6M609.4 290.7v-2.6M612.9 15.1v2.6M612.9 290.7v-2.6" stroke="#000" stroke-width="0.9" fill="none"/>
<rect x="493.3" y="15.1" width="122.3" height="275.6" fill="none" stroke="#000" stroke-width="1.15"/>
<path d="M631.3 283.8h2M753.4 283.8h-2M631.3 276.9h2M753.4 276.9h-2M631.3 270h2M753.4 270h-2M631.3 263.1h2M753.4 263.1h-2M631.3 256.2h3.8M753.4 256.2h-3.8M631.3 249.4h2M753.4 249.4h-2M631.3 242.5h2M753.4 242.5h-2M631.3 235.6h2M753.4 235.6h-2M631.3 228.7h2M753.4 228.7h-2M631.3 221.8h3.8M753.4 221.8h-3.8M631.3 214.9h2M753.4 214.9h-2M631.3 208h2M753.4 208h-2M631.3 201.1h2M753.4 201.1h-2M631.3 194.2h2M753.4 194.2h-2M631.3 187.3h3.8M753.4 187.3h-3.8M631.3 180.5h2M753.4 180.5h-2M631.3 173.6h2M753.4 173.6h-2M631.3 166.7h2M753.4 166.7h-2M631.3 159.8h2M753.4 159.8h-2M631.3 152.9h3.8M753.4 152.9h-3.8M631.3 146h2M753.4 146h-2M631.3 139.1h2M753.4 139.1h-2M631.3 132.2h2M753.4 132.2h-2M631.3 125.3h2M753.4 125.3h-2M631.3 118.4h3.8M753.4 118.4h-3.8M631.3 111.6h2M753.4 111.6h-2M631.3 104.7h2M753.4 104.7h-2M631.3 97.8h2M753.4 97.8h-2M631.3 90.9h2M753.4 90.9h-2M631.3 84h3.8M753.4 84h-3.8M631.3 77.1h2M753.4 77.1h-2M631.3 70.2h2M753.4 70.2h-2M631.3 63.3h2M753.4 63.3h-2M631.3 56.4h2M753.4 56.4h-2M631.3 49.5h3.8M753.4 49.5h-3.8M631.3 42.7h2M753.4 42.7h-2M631.3 35.8h2M753.4 35.8h-2M631.3 28.9h2M753.4 28.9h-2M631.3 22h2M753.4 22h-2M634.1 15.1v2.6M634.1 290.7v-2.6M636.2 15.1v2.6M636.2 290.7v-2.6M638 15.1v2.6M638 290.7v-2.6M639.4 15.1v2.6M639.4 290.7v-2.6M640.7 15.1v2.6M640.7 290.7v-2.6M641.8 15.1v2.6M641.8 290.7v-2.6M642.9 15.1v5.2M642.9 290.7v-5.2M649.5 15.1v2.6M649.5 290.7v-2.6M653.4 15.1v2.6M653.4 290.7v-2.6M656.2 15.1v2.6M656.2 290.7v-2.6M658.3 15.1v2.6M658.3 290.7v-2.6M660.1 15.1v2.6M660.1 290.7v-2.6M661.5 15.1v2.6M661.5 290.7v-2.6M662.8 15.1v2.6M662.8 290.7v-2.6M664 15.1v2.6M664 290.7v-2.6M665 15.1v5.2M665 290.7v-5.2M671.6 15.1v2.6M671.6 290.7v-2.6M675.5 15.1v2.6M675.5 290.7v-2.6M678.3 15.1v2.6M678.3 290.7v-2.6M680.4 15.1v2.6M680.4 290.7v-2.6M682.2 15.1v2.6M682.2 290.7v-2.6M683.7 15.1v2.6M683.7 290.7v-2.6M684.9 15.1v2.6M684.9 290.7v-2.6M686.1 15.1v2.6M686.1 290.7v-2.6M687.1 15.1v5.2M687.1 290.7v-5.2M693.7 15.1v2.6M693.7 290.7v-2.6M697.6 15.1v2.6M697.6 290.7v-2.6M700.4 15.1v2.6M700.4 290.7v-2.6M702.5 15.1v2.6M702.5 290.7v-2.6M704.3 15.1v2.6M704.3 290.7v-2.6M705.8 15.1v2.6M705.8 290.7v-2.6M707 15.1v2.6M707 290.7v-2.6M708.2 15.1v2.6M708.2 290.7v-2.6M709.2 15.1v5.2M709.2 290.7v-5.2M715.8 15.1v2.6M715.8 290.7v-2.6M719.7 15.1v2.6M719.7 290.7v-2.6M722.5 15.1v2.6M722.5 290.7v-2.6M724.6 15.1v2.6M724.6 290.7v-2.6M726.4 15.1v2.6M726.4 290.7v-2.6M727.9 15.1v2.6M727.9 290.7v-2.6M729.1 15.1v2.6M729.1 290.7v-2.6M730.3 15.1v2.6M730.3 290.7v-2.6M731.3 15.1v5.2M731.3 290.7v-5.2M737.9 15.1v2.6M737.9 290.7v-2.6M741.8 15.1v2.6M741.8 290.7v-2.6M744.6 15.1v2.6M744.6 290.7v-2.6M746.7 15.1v2.6M746.7 290.7v-2.6M748.5 15.1v2.6M748.5 290.7v-2.6M750 15.1v2.6M750 290.7v-2.6M751.3 15.1v2.6M751.3 290.7v-2.6M752.4 15.1v2.6M752.4 290.7v-2.6M753.4 15.1v5.2M753.4 290.7v-5.2" stroke="#000" stroke-width="0.9" fill="none"/>
<rect x="631.3" y="15.1" width="122.1" height="275.6" fill="none" stroke="#000" stroke-width="1.15"/>
<text transform="translate(34.2 292.7) scale(1.2 1)" font-size="8.8" text-anchor="end">120</text>
<text transform="translate(34.2 259.5) scale(1.2 1)" font-size="8.8" text-anchor="end">130</text>
<text transform="translate(34.2 225.1) scale(1.2 1)" font-size="8.8" text-anchor="end">140</text>
<text transform="translate(34.2 190.6) scale(1.2 1)" font-size="8.8" text-anchor="end">150</text>
<text transform="translate(34.2 156.2) scale(1.2 1)" font-size="8.8" text-anchor="end">160</text>
<text transform="translate(34.2 121.7) scale(1.2 1)" font-size="8.8" text-anchor="end">170</text>
<text transform="translate(34.2 87.3) scale(1.2 1)" font-size="8.8" text-anchor="end">180</text>
<text transform="translate(34.2 52.8) scale(1.2 1)" font-size="8.8" text-anchor="end">190</text>
<text transform="translate(34.2 21.8) scale(1.2 1)" font-size="8.8" text-anchor="end">200</text>
<text transform="translate(53.4 305) scale(1.2 1)" font-size="8.8" text-anchor="middle">10<tspan font-size="6.2" dy="-3.6">1</tspan></text>
<text transform="translate(76.1 305) scale(1.2 1)" font-size="8.8" text-anchor="middle">10<tspan font-size="6.2" dy="-3.6">2</tspan></text>
<text transform="translate(98.8 305) scale(1.2 1)" font-size="8.8" text-anchor="middle">10<tspan font-size="6.2" dy="-3.6">3</tspan></text>
<text transform="translate(121.4 305) scale(1.2 1)" font-size="8.8" text-anchor="middle">10<tspan font-size="6.2" dy="-3.6">4</tspan></text>
<text transform="translate(144.1 305) scale(1.2 1)" font-size="8.8" text-anchor="middle">10<tspan font-size="6.2" dy="-3.6">5</tspan></text>
<text transform="translate(198.5 305) scale(1.2 1)" font-size="8.8" text-anchor="middle">100</text>
<text transform="translate(274.7 305) scale(1.2 1)" font-size="8.8" text-anchor="middle">1000</text>
<text transform="translate(333.8 305) scale(1.2 1)" font-size="8.8" text-anchor="middle">10</text>
<text transform="translate(370.9 305) scale(1.2 1)" font-size="8.8" text-anchor="middle">100</text>
<text transform="translate(407.9 305) scale(1.2 1)" font-size="8.8" text-anchor="middle">1000</text>
<text transform="translate(512.7 305) scale(1.2 1)" font-size="8.8" text-anchor="middle">10<tspan font-size="6.2" dy="-3.6">&#8722;11</tspan></text>
<text transform="translate(540.5 305) scale(1.2 1)" font-size="8.8" text-anchor="middle">10<tspan font-size="6.2" dy="-3.6">&#8722;10</tspan></text>
<text transform="translate(568.4 305) scale(1.2 1)" font-size="8.8" text-anchor="middle">10<tspan font-size="6.2" dy="-3.6">&#8722;9</tspan></text>
<text transform="translate(596.2 305) scale(1.2 1)" font-size="8.8" text-anchor="middle">10<tspan font-size="6.2" dy="-3.6">&#8722;8</tspan></text>
<text transform="translate(643.4 305) scale(1.2 1)" font-size="8.8" text-anchor="middle">10<tspan font-size="6.2" dy="-3.6">&#8722;4</tspan></text>
<text transform="translate(665.5 305) scale(1.2 1)" font-size="8.8" text-anchor="middle">10<tspan font-size="6.2" dy="-3.6">&#8722;3</tspan></text>
<text transform="translate(687.6 305) scale(1.2 1)" font-size="8.8" text-anchor="middle">10<tspan font-size="6.2" dy="-3.6">&#8722;2</tspan></text>
<text transform="translate(708.2 305) scale(1.2 1)" font-size="8.8" text-anchor="middle">0.1</text>
<text transform="translate(730.8 305) scale(1.2 1)" font-size="8.8" text-anchor="middle">1</text>
<text transform="translate(753.4 305) scale(1.2 1)" font-size="8.8" text-anchor="middle">10</text>
<text transform="translate(98 316.6)" font-size="11" text-anchor="middle" class="s" textLength="74.2" lengthAdjust="spacingAndGlyphs">Density (cm<tspan font-size="7" dy="-3.8">&#8722;3</tspan><tspan dy="3.8">)</tspan></text>
<text transform="translate(236.3 316.6)" font-size="11" text-anchor="middle" class="s" textLength="85" lengthAdjust="spacingAndGlyphs">Temperature (K)</text>
<text transform="translate(374.8 316.6)" font-size="11" text-anchor="middle" class="s" textLength="59.5" lengthAdjust="spacingAndGlyphs">Energy (eV)</text>
<text transform="translate(553.4 316.6)" font-size="11" text-anchor="middle" class="s" textLength="90.6" lengthAdjust="spacingAndGlyphs">EI frequency (s<tspan font-size="7" dy="-3.8">&#8722;1</tspan><tspan dy="3.8">)</tspan></text>
<text transform="translate(623.7 316.6)" font-size="11" text-anchor="start" class="s" textLength="138" lengthAdjust="spacingAndGlyphs">EI and DR rates (cm<tspan font-size="7" dy="-3.8">&#8722;3</tspan><tspan dy="3.8"> s</tspan><tspan font-size="7" dy="-3.8">&#8722;1</tspan><tspan dy="3.8">)</tspan></text>
<text transform="translate(8 153.2) rotate(-90)" font-size="11" text-anchor="middle" class="s" textLength="68.8" lengthAdjust="spacingAndGlyphs">Altitude (km)</text>
<text transform="translate(98 10)" font-size="11.6" text-anchor="middle" class="t" textLength="16.6" lengthAdjust="spacingAndGlyphs">(A)</text>
<text transform="translate(236.5 10)" font-size="11.6" text-anchor="middle" class="t" textLength="16.6" lengthAdjust="spacingAndGlyphs">(B)</text>
<text transform="translate(375.5 10)" font-size="11.6" text-anchor="middle" class="t" textLength="16.6" lengthAdjust="spacingAndGlyphs">(C)</text>
<text transform="translate(554.3 10)" font-size="11.6" text-anchor="middle" class="t" textLength="16.6" lengthAdjust="spacingAndGlyphs">(D)</text>
<text transform="translate(692.3 10)" font-size="11.6" text-anchor="middle" class="t" textLength="16.6" lengthAdjust="spacingAndGlyphs">(E)</text>
<text transform="translate(104.8 42.9) scale(1.0 1)" font-size="10.4" fill="#000" style="stroke:#000;stroke-width:.38px">CO<tspan font-size="7" dy="3" dx="0.6">2</tspan><tspan dy="-3" dx="1.2" font-size="11.5">/</tspan><tspan dx="1.6">10</tspan><tspan font-size="7" dy="-4.4" dx="1.2">6</tspan></text>
<text transform="translate(104.8 63.8) scale(1.0 1)" font-size="10.4" fill="#ff2000" style="stroke:#ff2000;stroke-width:.38px">O<tspan font-size="7" dy="3">2</tspan><tspan font-size="7.6" dy="-7.8" dx="1.2">+</tspan></text>
<text transform="translate(104.8 84.3) scale(1.0 1)" font-size="10.4" fill="#00ee10" style="stroke:#00ee10;stroke-width:.38px">NO<tspan font-size="7.6" dy="-4.6">+</tspan></text>
<text transform="translate(104.8 105.1) scale(1.0 1)" font-size="10.4" fill="#2400f4" style="stroke:#2400f4;stroke-width:.38px">HCO<tspan font-size="7.6" dy="-4.6">+</tspan></text>
<text x="706.3" y="39.7" font-size="12" style="stroke:#000;stroke-width:.1px" textLength="36.6" lengthAdjust="spacingAndGlyphs">#3573</text>
<text transform="translate(653.8 240)" font-size="11.8" text-anchor="start" class="sr" style="stroke:#ff2000;stroke-width:.6px" fill="#ff2000" textLength="9.6" lengthAdjust="spacingAndGlyphs">EI</text>
<text transform="translate(653.8 263.5)" font-size="11.2" text-anchor="start" class="sr" style="stroke:#2400f4;stroke-width:.6px" fill="#2400f4" textLength="14" lengthAdjust="spacingAndGlyphs">DR</text>
<text transform="translate(455.4 291.7)" font-size="8.7" text-anchor="start" class="b">10<tspan font-size="6.2" dy="-3.6">4</tspan></text>
<text transform="translate(455.4 224.9)" font-size="8.7" text-anchor="start" class="b">10<tspan font-size="6.2" dy="-3.6">5</tspan></text>
<text transform="translate(455.4 156)" font-size="8.7" text-anchor="start" class="b">10<tspan font-size="6.2" dy="-3.6">6</tspan></text>
<text transform="translate(455.4 87.1)" font-size="8.7" text-anchor="start" class="b">10<tspan font-size="6.2" dy="-3.6">7</tspan></text>
<text transform="translate(455.4 21.3)" font-size="8.7" text-anchor="start" class="b">10<tspan font-size="6.2" dy="-3.6">8</tspan></text>
<text transform="translate(477.8 153) rotate(-90)" font-size="7.7" text-anchor="middle" class="cbt" textLength="209" lengthAdjust="spacingAndGlyphs">Differential intensity (eV cm<tspan font-size="5.2" dy="-3">&#8722;2</tspan><tspan dy="3"> s</tspan><tspan font-size="5.2" dy="-3">&#8722;1</tspan><tspan dy="3"> Sr</tspan><tspan font-size="5.2" dy="-3">&#8722;1</tspan><tspan dy="3"> eV</tspan><tspan font-size="5.2" dy="-3">&#8722;1</tspan><tspan dy="3">)</tspan></text>
</svg>
</body></html>
